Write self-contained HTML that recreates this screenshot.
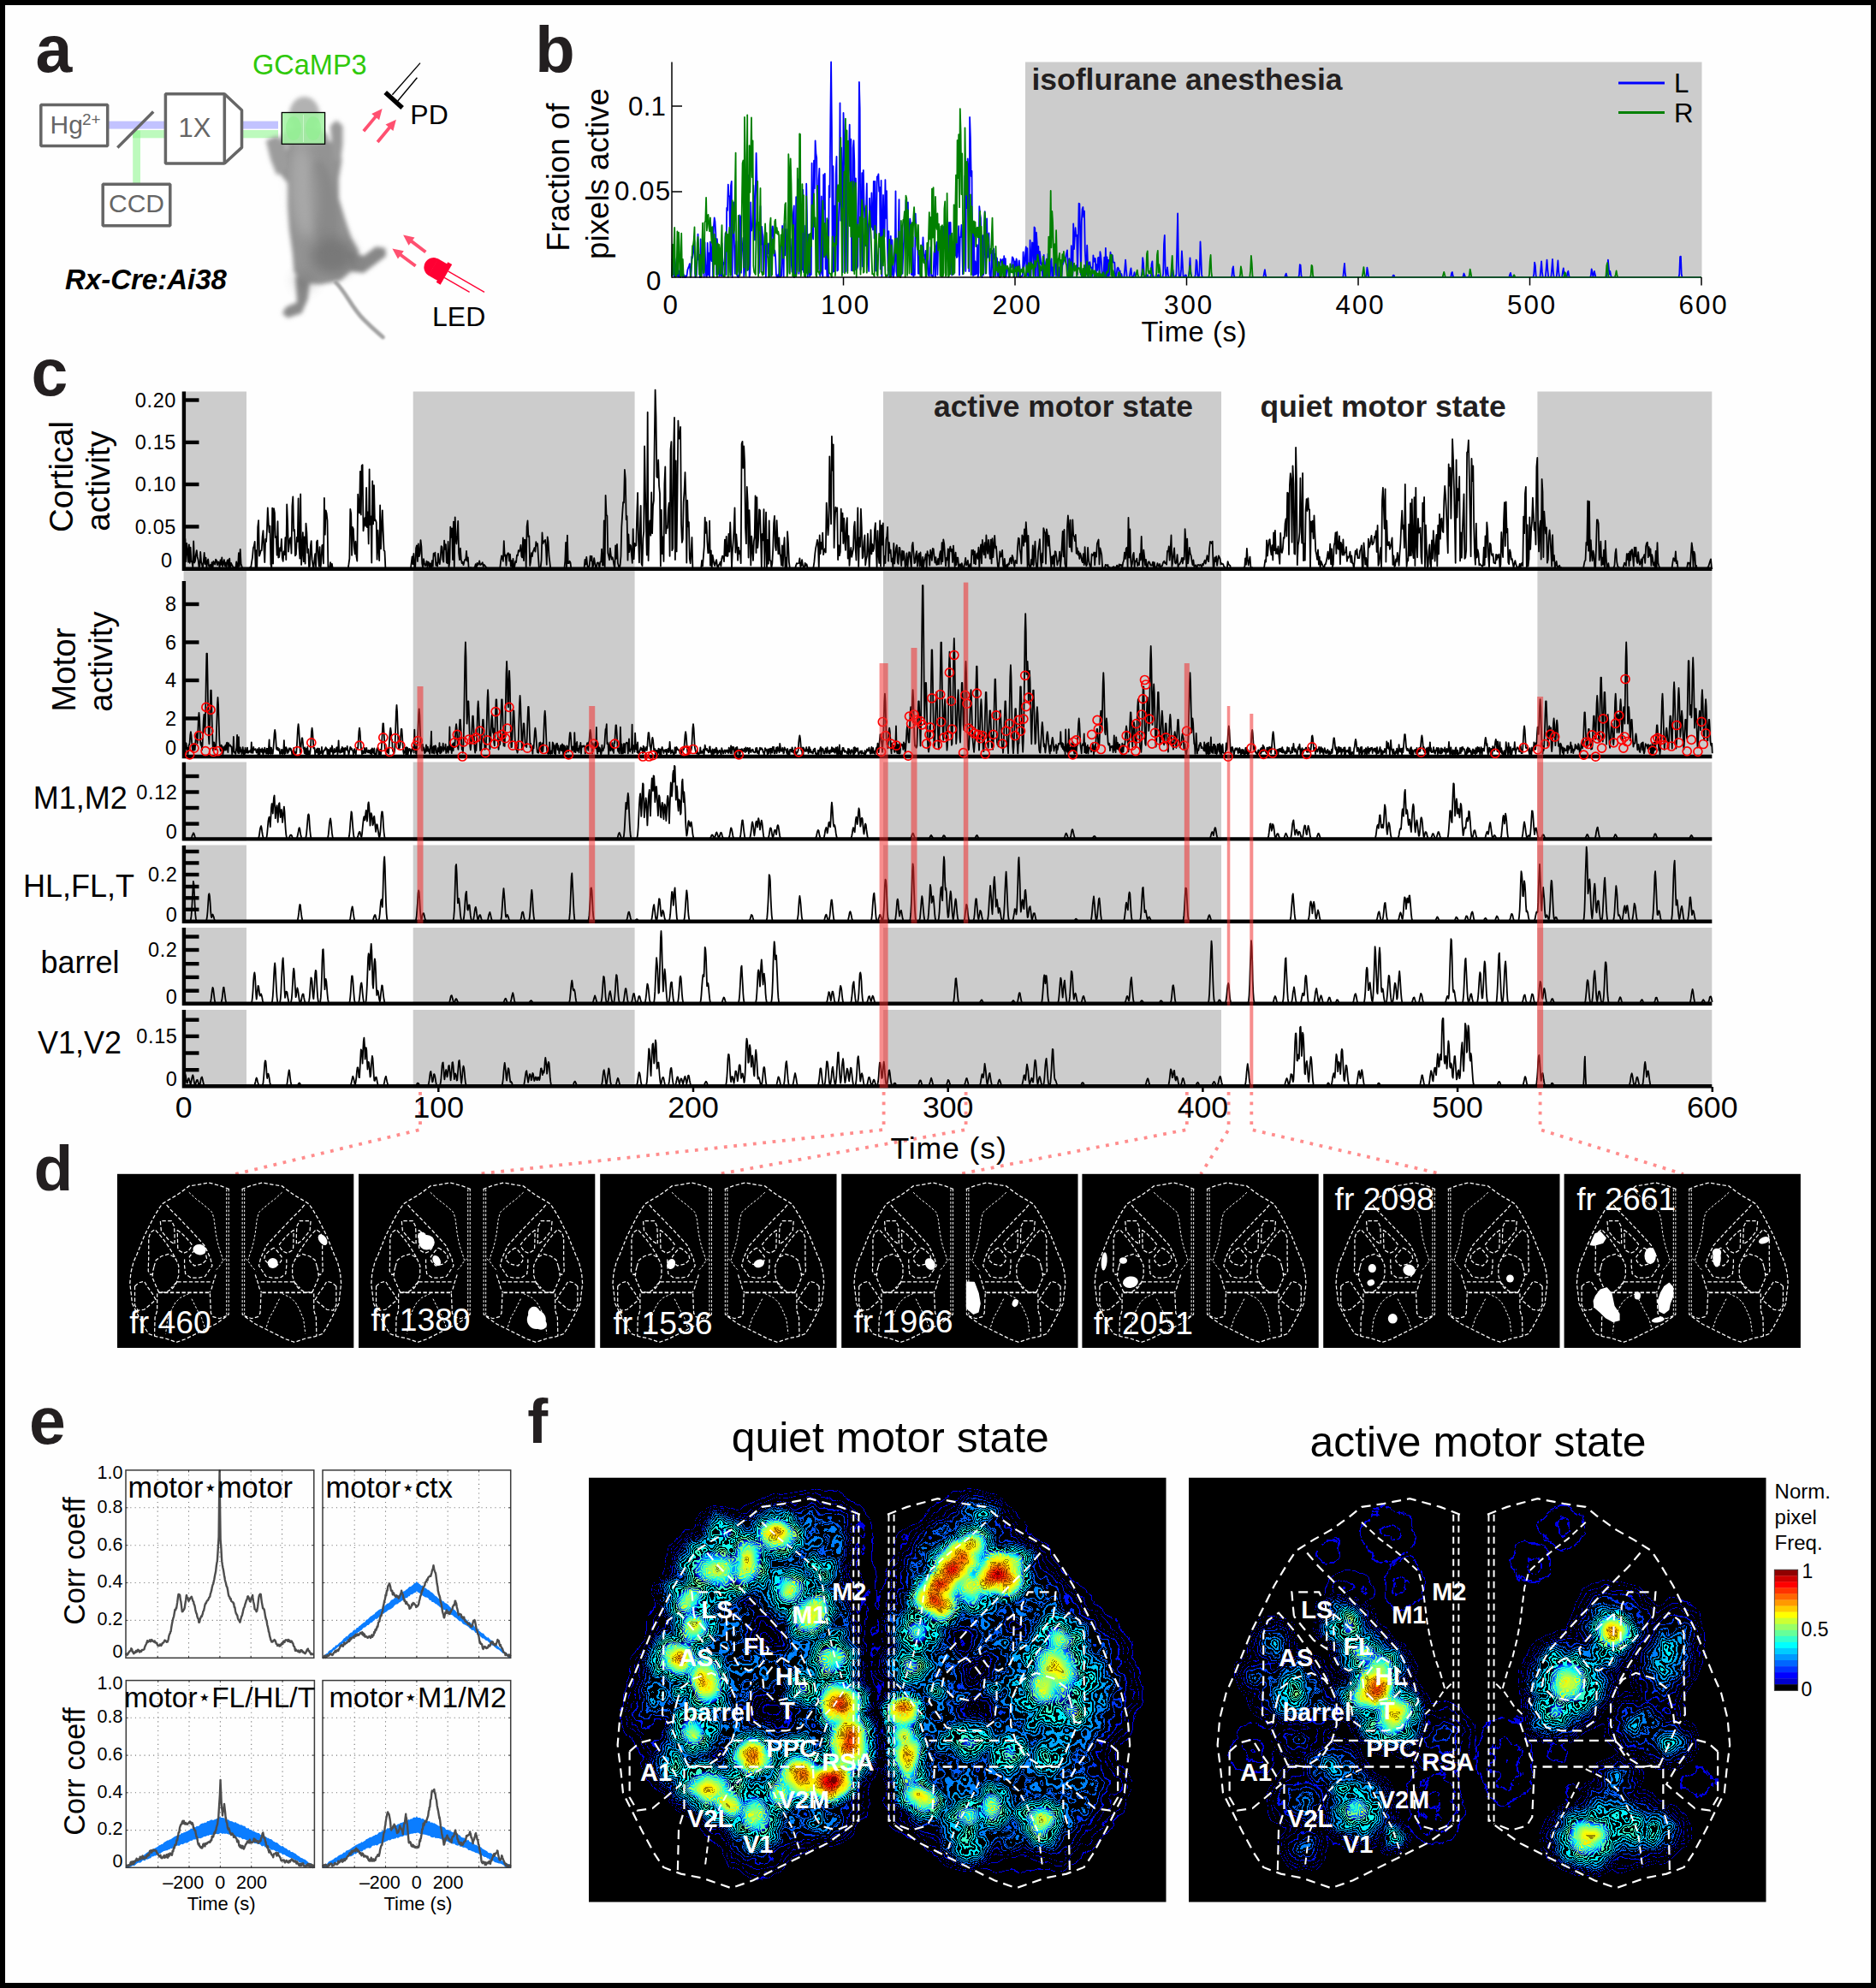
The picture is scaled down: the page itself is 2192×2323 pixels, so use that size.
<!DOCTYPE html>
<html><head><meta charset="utf-8"><title>figure</title>
<style>
html,body{margin:0;padding:0;background:#fff;}
body{width:2192px;height:2323px;overflow:hidden;}
svg{display:block;font-family:"Liberation Sans",sans-serif;}
</style></head><body>
<svg width="2192" height="2323" viewBox="0 0 2192 2323">
<rect x="0" y="0" width="2192" height="2323" fill="#000"/>
<rect x="6" y="6" width="2180" height="2311" fill="#fefefe"/>
<g id="panel_a"><rect x="125" y="141.6" width="69" height="9" fill="#c2c2ff"/>
<rect x="282" y="141.6" width="43" height="9" fill="#c2c2ff"/>
<rect x="155" y="152" width="39" height="9.3" fill="#bdfabd"/>
<rect x="282" y="152" width="43" height="9.3" fill="#bdfabd"/>
<rect x="155.2" y="152" width="8.8" height="64" fill="#bdfabd"/><rect x="155.2" y="152.6" width="8.8" height="8.7" fill="#8af58a" opacity="0.6"/>
<g fill="#fff" stroke="#666" stroke-width="3.5" stroke-linejoin="bevel">
<rect x="47.8" y="122.4" width="77.9" height="48.1"/>
<rect x="120.2" y="215.3" width="78.6" height="48.5"/>
<polygon points="262.3,109.7 282.5,128.7 282.5,172.4 262.3,191"/>
<rect x="193.4" y="109.7" width="68.9" height="81.3"/>
<line x1="137.3" y1="172.6" x2="179.2" y2="130.6"/>
</g>
<text x="58.5" y="156" font-size="30" fill="#666">Hg</text>
<text x="96" y="146" font-size="19" fill="#666">2+</text>
<text x="208.5" y="160.4" font-size="31" fill="#666">1X</text>
<text x="127" y="248" font-size="30" fill="#666">CCD</text>
<text x="76" y="337.7" font-size="33" font-weight="bold" font-style="italic">Rx-Cre:Ai38</text>
<text x="295" y="87.2" font-size="32.5" fill="#2fc90b">GCaMP3</text>
<defs><filter id="mb" x="-20%" y="-20%" width="140%" height="140%"><feGaussianBlur stdDeviation="14"/></filter><filter id="mb2" x="-30%" y="-30%" width="160%" height="160%"><feGaussianBlur stdDeviation="22"/></filter><filter id="mb3" x="-30%" y="-30%" width="160%" height="160%"><feGaussianBlur stdDeviation="7"/></filter><filter id="mb4" x="-50%" y="-50%" width="200%" height="200%"><feGaussianBlur stdDeviation="38"/></filter></defs>
<g transform="translate(280 60) scale(0.18109)">
<g filter="url(#mb)">
<path d="M300 640 L330 570 L420 545 L560 565 L640 625 L660 700 L640 820 L640 950 L680 1080 L720 1200 L770 1290 L740 1400 L650 1480 L520 1505 L400 1495 L350 1420 L340 1300 L320 1150 L310 1000 L310 850 L260 790 L220 700 Z" fill="#939393"/>
<ellipse cx="418" cy="410" rx="98" ry="118" fill="#b2b2b2"/>
<ellipse cx="420" cy="560" rx="150" ry="70" fill="#999"/>
<path d="M170 575 L240 545 L300 600 L300 760 L240 800 L200 700 Z" fill="#9c9c9c"/>
<path d="M585 480 L625 445 L665 480 L665 600 L650 720 L600 700 Z" fill="#9a9a9a"/>
<path d="M700 1290 L800 1320 L880 1260 L940 1270 L945 1320 L880 1370 L800 1430 L720 1420 Z" fill="#888"/>
<path d="M360 1450 L450 1500 L440 1600 L400 1690 L310 1720 L275 1690 L300 1650 L370 1620 Z" fill="#8a8a8a"/>
</g>
<ellipse cx="600" cy="1320" rx="140" ry="120" fill="#5a5a5a" opacity="0.45" filter="url(#mb4)"/>
<ellipse cx="540" cy="1000" rx="90" ry="300" fill="#777" opacity="0.35" filter="url(#mb2)" transform="rotate(-8 540 1000)"/>
<ellipse cx="410" cy="900" rx="80" ry="300" fill="#c8c8c8" opacity="0.4" filter="url(#mb4)" transform="rotate(-4 410 900)"/>
<ellipse cx="420" cy="1480" rx="70" ry="60" fill="#666" opacity="0.3" filter="url(#mb4)"/>
<path d="M620 1490 C690 1560 720 1650 800 1730 S900 1820 925 1845" fill="none" stroke="#a2a2a2" stroke-width="26" stroke-linecap="round" filter="url(#mb3)"/>
</g>
<rect x="329.3" y="131.5" width="50.3" height="36.8" fill="#a4f2a4" fill-opacity="0.88" stroke="#000" stroke-width="1.3"/>
<ellipse cx="343" cy="150" rx="9" ry="14" fill="#8ef08e" opacity="0.6"/><ellipse cx="366" cy="150" rx="9" ry="14" fill="#8ef08e" opacity="0.6"/>
<line x1="354.5" y1="134" x2="354.5" y2="166" stroke="#c9f7c9" stroke-width="1"/>
<line x1="450.2" y1="108" x2="470.1" y2="126.1" stroke="#000" stroke-width="5.4"/>
<line x1="458.4" y1="110.7" x2="491" y2="73.6" stroke="#000" stroke-width="1.4"/>
<line x1="464.7" y1="118" x2="487.4" y2="90.8" stroke="#000" stroke-width="1.4"/>
<text x="479.3" y="145" font-size="32">PD</text>
<text x="505" y="380.5" font-size="32">LED</text>
<polygon points="426.3,154.5 440.1,137.8 443.1,140.3 446.6,127 434.2,133 437.2,135.4 423.4,152.1" fill="#ff5070"/>
<polygon points="442.6,167.2 456.4,150.5 459.4,153 462.9,139.7 450.5,145.6 453.5,148.1 439.7,164.7" fill="#ff5070"/>
<polygon points="498.5,293 482.2,280.6 484.5,277.6 471.1,274.6 477.5,286.7 479.9,283.7 496.2,296" fill="#ff5070"/>
<polygon points="486.7,309.3 469.5,296.4 471.8,293.3 458.4,290.4 464.9,302.5 467.2,299.4 484.4,312.3" fill="#ff5070"/>
<g transform="translate(518.7 319.3) rotate(30)" fill="#ff0033" stroke="none">
<path d="M-14 -11.2 L-14 11.2 A11.2 11.2 0 0 1 -14 -11.2Z"/><rect x="-14.5" y="-11.2" width="13" height="22.4"/><rect x="-2.5" y="-13.6" width="5.6" height="27.2"/>
<line x1="3" y1="-4.5" x2="52" y2="-4.5" stroke="#ff0033" stroke-width="1.3"/><line x1="3" y1="4.2" x2="37" y2="4.2" stroke="#ff0033" stroke-width="1.3"/>
</g></g>
<g id="panel_b"><rect x="1198" y="72.5" width="790.5" height="252" fill="#ccc"/>
<path d="M785 302.6L785.8 303.4L786.6 298.6L787.4 322.5L788.2 323.3L789 313.1L789.8 310.5L790.6 301.9L791.4 322.7L792.2 310L793 323.5L793.8 316.6L794.6 323.7L795.4 323.4L796.2 318.4L797 316.9L797.8 324L798.6 320.5L799.4 322.5L800.2 324L801 322.3L801.8 323.7L802.6 321.6L803.4 315.2L804.2 313.1L805 311.1L805.9 308.1L806.7 323.7L807.5 323.1L808.3 300L809.1 301.4L809.9 295.9L810.7 285.3L811.5 281.2L812.3 323.6L813.1 323.5L813.9 321.5L814.7 304.5L815.5 273.6L816.3 303.6L817.1 299.8L817.9 324L818.7 279.4L819.5 323.5L820.3 311.4L821.1 288.4L821.9 312L822.7 323.4L823.5 283.1L824.3 308.7L825.1 322.7L825.9 323.6L826.7 283.8L827.5 321.1L828.3 295.6L829.1 323.4L829.9 282.7L830.7 299.2L831.5 305.2L832.3 278.7L833.1 323.4L833.9 265.4L834.7 254.5L835.5 259L836.3 272.8L837.1 321L837.9 279.2L838.7 296.3L839.5 288L840.3 322.9L841.1 321.6L841.9 295.1L842.7 322.3L843.5 284.1L844.3 322.4L845.1 307L846 308.7L846.8 300.6L847.6 272.5L848.4 321.2L849.2 242.9L850 245.9L850.8 215.6L851.6 228.6L852.4 229.3L853.2 318L854 216.8L854.8 211.8L855.6 323.8L856.4 239.9L857.2 236.3L858 285L858.8 319.8L859.6 290L860.4 281.9L861.2 321.2L862 323.4L862.8 323.8L863.6 319.8L864.4 251.5L865.2 253.4L866 318.8L866.8 293.6L867.6 288.9L868.4 277.8L869.2 322.8L870 317.9L870.8 242.6L871.6 263.3L872.4 249.4L873.2 316L874 233.7L874.8 205L875.6 323.5L876.4 320.1L877.2 236.5L878 269.6L878.8 266L879.6 262.1L880.4 216.6L881.2 236.3L882 280.5L882.8 223.6L883.6 178.9L884.4 212L885.2 249L886.1 320L886.9 318.9L887.7 290.4L888.5 240.9L889.3 285.9L890.1 264.9L890.9 273.9L891.7 320.4L892.5 294.2L893.3 277L894.1 271.5L894.9 323.5L895.7 287.6L896.5 285.4L897.3 296.3L898.1 284.4L898.9 323.1L899.7 322.2L900.5 264.4L901.3 287.3L902.1 273.2L902.9 264.5L903.7 272.4L904.5 298.8L905.3 292.7L906.1 299.5L906.9 320.8L907.7 323.6L908.5 323.9L909.3 320.7L910.1 323.5L910.9 289.6L911.7 323.7L912.5 322.1L913.3 322.1L914.1 264L914.9 290.7L915.7 323.2L916.5 261.3L917.3 298.3L918.1 268.1L918.9 267.9L919.7 301.2L920.5 319.4L921.3 260.8L922.1 264.8L922.9 282.8L923.7 279.1L924.5 304.2L925.4 317.7L926.2 264.4L927 248.4L927.8 240.4L928.6 323.6L929.4 320.3L930.2 230.2L931 315.5L931.8 238.1L932.6 209.3L933.4 319.8L934.2 314.5L935 200.8L935.8 317.7L936.6 268.8L937.4 315.2L938.2 221.8L939 318.1L939.8 263.7L940.6 314.8L941.4 319.5L942.2 214.7L943 252.9L943.8 323.6L944.6 274.1L945.4 316L946.2 323.2L947 317.2L947.8 321L948.6 190.7L949.4 272.3L950.2 279.6L951 187.7L951.8 220.2L952.6 164.4L953.4 179.3L954.2 184.3L955 274.9L955.8 314.5L956.6 210.8L957.4 196.9L958.2 322.4L959 316.7L959.8 229.4L960.6 319.8L961.4 323L962.2 204.1L963 244.4L963.8 202.8L964.6 314.4L965.5 282L966.3 323.1L967.1 257.4L967.9 323.6L968.7 217.1L969.5 230.3L970.3 141.7L971.1 72.4L971.9 149.5L972.7 318.7L973.5 194.2L974.3 317.2L975.1 240.7L975.9 310.3L976.7 203.7L977.5 182.9L978.3 316.5L979.1 315.6L979.9 254.8L980.7 228.2L981.5 120.3L982.3 257.8L983.1 172.7L983.9 213.2L984.7 318.2L985.5 131.9L986.3 168L987.1 193.5L987.9 317.5L988.7 212.7L989.5 192.5L990.3 316.4L991.1 207.2L991.9 184.7L992.7 145.7L993.5 225.4L994.3 162.6L995.1 316.2L995.9 310.6L996.7 173L997.5 164.2L998.3 188.5L999.1 315.3L999.9 208.5L1000.7 240.9L1001.5 313.8L1002.3 311.1L1003.1 236.4L1003.9 95.9L1004.7 126.9L1005.5 315.3L1006.4 265.7L1007.2 202.1L1008 311.4L1008.8 199L1009.6 237.6L1010.4 247.4L1011.2 287.3L1012 251.4L1012.8 214.3L1013.6 294.2L1014.4 294.2L1015.2 316.9L1016 231.7L1016.8 258.5L1017.6 265.3L1018.4 225.5L1019.2 265.3L1020 268.5L1020.8 211.8L1021.6 278.4L1022.4 212L1023.2 316.5L1024 262.7L1024.8 206.3L1025.6 207.2L1026.4 203.4L1027.2 223.7L1028 218.8L1028.8 314.4L1029.6 210.9L1030.4 322.9L1031.2 267.6L1032 228L1032.8 277.8L1033.6 276.8L1034.4 210.1L1035.2 254.8L1036 223.1L1036.8 279.9L1037.6 316.4L1038.4 270.1L1039.2 323.6L1040 316.8L1040.8 276L1041.6 323.2L1042.4 280.4L1043.2 319.4L1044 323.9L1044.8 317.7L1045.7 296.7L1046.5 223.3L1047.3 316.9L1048.1 322.3L1048.9 319.7L1049.7 275.6L1050.5 233.1L1051.3 322.7L1052.1 299.5L1052.9 322L1053.7 299L1054.5 319.7L1055.3 295.1L1056.1 281.7L1056.9 251.3L1057.7 280.3L1058.5 233.9L1059.3 252.8L1060.1 278.4L1060.9 236.5L1061.7 287L1062.5 277.1L1063.3 255.6L1064.1 262.8L1064.9 320.8L1065.7 321.2L1066.5 276.5L1067.3 323L1068.1 320.1L1068.9 321.3L1069.7 249.7L1070.5 273.9L1071.3 277.3L1072.1 281L1072.9 319.7L1073.7 319.8L1074.5 293L1075.3 320.3L1076.1 286.8L1076.9 322L1077.7 294.8L1078.5 277.3L1079.3 296.8L1080.1 299.7L1080.9 302.9L1081.7 292.8L1082.5 321.1L1083.3 307.1L1084.1 285.1L1084.9 321.8L1085.8 322.7L1086.6 312.8L1087.4 288.9L1088.2 322.2L1089 321.7L1089.8 323.4L1090.6 322.5L1091.4 296.3L1092.2 290L1093 323.4L1093.8 288.4L1094.6 283L1095.4 321.1L1096.2 284.5L1097 277.3L1097.8 282.5L1098.6 279.3L1099.4 283.4L1100.2 320.2L1101 265.6L1101.8 289.7L1102.6 264.9L1103.4 287.6L1104.2 258.8L1105 265.9L1105.8 302.2L1106.6 278.7L1107.4 288.1L1108.2 296.4L1109 259.9L1109.8 303.1L1110.6 259.9L1111.4 293.4L1112.2 321.5L1113 300L1113.8 305.7L1114.6 319.9L1115.4 292L1116.2 298.7L1117 270.4L1117.8 300.9L1118.6 300L1119.4 280.8L1120.2 264.1L1121 321.6L1121.8 277.2L1122.6 277.1L1123.4 262.8L1124.2 277.3L1125 320.4L1125.8 258.9L1126.7 277L1127.5 205.5L1128.3 316.9L1129.1 189.3L1129.9 243L1130.7 185.4L1131.5 199.1L1132.3 317L1133.1 137L1133.9 160.5L1134.7 205.9L1135.5 199.8L1136.3 320.1L1137.1 322.1L1137.9 261.9L1138.7 321.3L1139.5 305.4L1140.3 320.6L1141.1 319.3L1141.9 286.1L1142.7 323.6L1143.5 318.7L1144.3 241.1L1145.1 249.7L1145.9 255L1146.7 287.7L1147.5 323.8L1148.3 275.1L1149.1 321.3L1149.9 267.8L1150.7 247.1L1151.5 319.5L1152.3 303.2L1153.1 255.5L1153.9 301.1L1154.7 297.4L1155.5 272.4L1156.3 319.9L1157.1 323.9L1157.9 323.9L1158.7 294.9L1159.5 292.6L1160.3 323L1161.1 290.7L1161.9 302.5L1162.7 297L1163.5 323.2L1164.3 300.8L1165.1 302.2L1166 322.6L1166.8 315.6L1167.6 323.6L1168.4 311.9L1169.2 302.8L1170 304.9L1170.8 306.7L1171.6 303L1172.4 322.5L1173.2 299.2L1174 323.6L1174.8 302.2L1175.6 323.1L1176.4 316.1L1177.2 313.2L1178 313.6L1178.8 323.6L1179.6 322.8L1180.4 312.9L1181.2 312.2L1182 312.4L1182.8 300.3L1183.6 301.4L1184.4 303.6L1185.2 323L1186 305.4L1186.8 312.5L1187.6 302.5L1188.4 305.4L1189.2 323L1190 323.1L1190.8 304.4L1191.6 312.1L1192.4 323.7L1193.2 322.5L1194 323L1194.8 322.1L1195.6 294.5L1196.4 312.8L1197.2 307L1198 297.7L1198.8 288.5L1199.6 321.9L1200.4 290.1L1201.2 321.3L1202 323.3L1202.8 322.7L1203.6 280.7L1204.4 323.7L1205.2 304.9L1206 283.4L1206.9 284L1207.7 321.5L1208.5 265.5L1209.3 266.8L1210.1 323L1210.9 271.7L1211.7 284.1L1212.5 322.8L1213.3 287.9L1214.1 322.5L1214.9 293.8L1215.7 301.5L1216.5 309L1217.3 307.4L1218.1 322.3L1218.9 322.9L1219.7 297.8L1220.5 323.4L1221.3 321.9L1222.1 306.4L1222.9 302.6L1223.7 322.6L1224.5 296.7L1225.3 321.9L1226.1 310.1L1226.9 323.8L1227.7 306.3L1228.5 302.5L1229.3 323.7L1230.1 312.4L1230.9 322.4L1231.7 307.8L1232.5 297.7L1233.3 305.8L1234.1 322.3L1234.9 304.4L1235.7 311.9L1236.5 322.5L1237.3 312.5L1238.1 323L1238.9 306.9L1239.7 323.1L1240.5 322.6L1241.3 310.1L1242.1 308.4L1242.9 305.1L1243.7 302.5L1244.5 304.7L1245.3 299.9L1246.2 295.7L1247 292.3L1247.8 313.5L1248.6 321.3L1249.4 302.1L1250.2 310.3L1251 321.5L1251.8 287.2L1252.6 320.9L1253.4 321.9L1254.2 261.5L1255 291.2L1255.8 277.8L1256.6 266.2L1257.4 275.9L1258.2 274.7L1259 320.4L1259.8 283L1260.6 237.6L1261.4 238.3L1262.2 278.6L1263 321.1L1263.8 258.6L1264.6 244.3L1265.4 242L1266.2 253.6L1267 246.7L1267.8 292.7L1268.6 308.8L1269.4 320.7L1270.2 286.7L1271 308L1271.8 323.1L1272.6 307L1273.4 306.1L1274.2 311.8L1275 312.9L1275.8 312.4L1276.6 322.2L1277.4 298.4L1278.2 305.8L1279 302L1279.8 302.1L1280.6 322.3L1281.4 309.2L1282.2 315.9L1283 301.3L1283.8 300.8L1284.6 323.8L1285.4 294.2L1286.2 298.5L1287.1 308.6L1287.9 323.9L1288.7 323.8L1289.5 321.9L1290.3 300.6L1291.1 322.9L1291.9 289.8L1292.7 323.8L1293.5 300.4L1294.3 322.1L1295.1 303.7L1295.9 322.1L1296.7 308.6L1297.5 294.6L1298.3 302.4L1299.1 297.6L1299.9 298.4L1300.7 306.7L1301.5 306.6L1302.3 306.6L1303.1 322.7L1303.9 323.8L1304.7 319.5L1305.5 313.7L1306.3 312.6L1307.1 313.9L1307.9 323.8L1308.7 316.5L1309.5 323.3L1310.3 320L1311.1 324M1313.5 323.4L1314.3 314.2L1315.1 303.7L1315.9 314.9L1316.7 323.2M1319.9 323.2L1320.7 316.6L1321.5 313.4L1322.3 321.4L1323.1 323.9L1323.9 323.9L1324.7 322.1L1325.5 318.1L1326.3 321.5L1327.2 323.8M1333.6 323.7L1334.4 317.6L1335.2 301.1L1336 307.3L1336.8 322.1L1337.6 324M1339.2 323.7L1340 321.7L1340.8 321.1L1341.6 323.2M1344 323.9L1344.8 321.5L1345.6 308.4L1346.4 305.3L1347.2 320.7L1348 323.9M1352 323.6L1352.8 321.6L1353.6 320.9L1354.4 323.3M1358.4 323.9L1359.2 319.7L1360 285.3L1360.8 274.8L1361.6 314L1362.4 323.6L1363.2 318.6L1364 312.3L1364.8 320.4L1365.6 323.8M1368.9 323.6L1369.7 319.4L1370.5 315.7L1371.3 321.2L1372.1 323.8M1373.7 323.9L1374.5 319.9L1375.3 287.1L1376.1 249.3L1376.9 305.6L1377.7 323.2L1378.5 324L1379.3 323.5L1380.1 314.9L1380.9 293.4L1381.7 306.6L1382.5 322.3L1383.3 324L1384.1 323.5L1384.9 321.3L1385.7 321.3L1386.5 323.5M1388.1 324L1388.9 323L1389.7 314.4L1390.5 301.4L1391.3 316.6L1392.1 323.6M1396.1 323.9L1396.9 320.4L1397.7 303.6L1398.5 305.5L1399.3 321.3L1400.1 323.9L1400.9 323.6L1401.7 314.3L1402.5 282.4L1403.3 299.3L1404.1 320.9L1404.9 323.9M1438.6 324L1439.4 322.7L1440.2 314.1L1441 311.4L1441.8 321.5L1442.6 323.9M1476.3 323.6L1477.1 319.2L1477.9 315.2L1478.7 321.1L1479.5 323.8M1501.2 323.7L1502 321.4L1502.8 319.6L1503.6 322.9L1504.4 324M1517.2 323.9L1518 321.2L1518.8 309.2L1519.6 309.7L1520.4 321.7L1521.2 323.9M1568.6 324L1569.4 323.1L1570.2 315L1571 307.9L1571.8 319.8L1572.6 323.8M1595.8 323.9L1596.6 321.6L1597.4 312.7L1598.2 316.8L1599 323.2L1599.8 324M1627.1 323.6L1627.9 321.6L1628.7 321.6L1629.5 323.6M1695.3 323.3L1696.1 319.1L1696.9 317.9L1697.7 322.5L1698.5 324M1708.9 323.9L1709.7 322.6L1710.5 319.5L1711.3 321.6L1712.1 323.7M1763.4 323.6L1764.2 320.8L1765 318.9L1765.8 322.6L1766.6 323.9M1791.5 323.8L1792.3 320.2L1793.1 306.6L1793.9 310.5L1794.7 322.4L1795.5 324M1799.5 323.3L1800.3 314.9L1801.1 305.4L1801.9 317.9L1802.7 323.6M1805.1 324L1805.9 323L1806.7 313.2L1807.5 303.6L1808.4 315.6L1809.2 323.5M1811.6 324L1812.4 322.9L1813.2 313.5L1814 303L1814.8 317.1L1815.6 323.6M1818 324L1818.8 323L1819.6 313.6L1820.4 304.5L1821.2 317.7L1822 323.7M1825.2 323.4L1826 317.4L1826.8 313.3L1827.6 320.4L1828.4 323.8M1830.8 323.4L1831.6 318.4L1832.4 316.8L1833.2 322.2L1834 323.9M1858.1 323.9L1858.9 321.7L1859.7 314.4L1860.5 317.9L1861.3 323.2L1862.1 321.2L1862.9 317L1863.7 320.5L1864.5 323.8M1877.3 323.8L1878.1 318.1L1878.9 303.7L1879.7 312.8L1880.5 320.5L1881.3 317L1882.1 321.5L1882.9 323.9M1961.5 323.9L1962.3 320.3L1963.1 300L1963.9 299.6L1964.7 320.3L1965.5 323.9" fill="none" stroke="#0000ff" stroke-width="1.8" stroke-linejoin="round"/>
<path d="M785 323.1L785.8 285.6L786.6 321L787.4 289.7L788.2 266L789 323.3L789.8 323.3L790.6 320.6L791.4 270.5L792.2 320.1L793 271.6L793.8 288.5L794.6 320.2L795.4 323.9L796.2 272.7L797 321.9L797.8 302.9L798.6 323.1L799.4 323.6M806.7 324L807.5 314.6L808.3 308.4L809.1 287.2L809.9 286.6L810.7 280.5L811.5 265.5L812.3 319.6L813.1 322.9L813.9 308.4L814.7 283.6L815.5 277L816.3 291.4L817.1 320.8L817.9 297.7L818.7 323.2L819.5 323.4L820.3 286.2L821.1 260.6L821.9 319L822.7 318.2L823.5 259.8L824.3 258L825.1 230.9L825.9 269.4L826.7 253.2L827.5 250.8L828.3 265.2L829.1 270.3L829.9 254.4L830.7 268.9L831.5 283.6L832.3 265.2L833.1 302.9L833.9 323.7L834.7 273.7L835.5 308.7L836.3 278.9L837.1 307L837.9 323.7L838.7 284.5L839.5 320L840.3 285.8L841.1 292.8L841.9 320.1L842.7 286.1L843.5 263.2L844.3 319.3L845.1 322.3L846 323.1L846.8 322.9L847.6 277L848.4 270.9L849.2 293.7L850 274L850.8 323.8L851.6 274.4L852.4 265.7L853.2 321.9L854 321.4L854.8 258.1L855.6 234.2L856.4 240.2L857.2 272.5L858 268.8L858.8 226.2L859.6 178.6L860.4 320.6L861.2 320.7L862 316.9L862.8 251.8L863.6 269.8L864.4 322.2L865.2 314.3L866 315.8L866.8 243.4L867.6 190.8L868.4 187.5L869.2 312.4L870 136.8L870.8 182L871.6 322.5L872.4 238.2L873.2 134.3L874 315.4L874.8 309.6L875.6 170.2L876.4 224.7L877.2 182.3L878 137.4L878.8 207.1L879.6 164.5L880.4 310.7L881.2 318L882 319.1L882.8 320.9L883.6 265.8L884.4 255.1L885.2 212L886.1 322.7L886.9 260L887.7 269L888.5 220L889.3 317.6L890.1 317.9L890.9 321.7L891.7 318.3L892.5 320.4L893.3 282.9L894.1 261.5L894.9 285.1L895.7 272.1L896.5 297.9L897.3 302.2L898.1 323.7L898.9 321L899.7 262.9L900.5 254.6L901.3 322.4L902.1 320.8L902.9 279.5L903.7 282.2L904.5 296.1L905.3 258.6L906.1 256.6L906.9 272.4L907.7 266.1L908.5 273.6L909.3 270.5L910.1 275L910.9 321.4L911.7 301.8L912.5 274.3L913.3 286.8L914.1 267.3L914.9 301.7L915.7 301.5L916.5 257L917.3 238.9L918.1 237.1L918.9 284.8L919.7 323.1L920.5 317.4L921.3 180.2L922.1 203.2L922.9 319.8L923.7 185.5L924.5 214.8L925.4 271.4L926.2 322.7L927 262.8L927.8 323.9L928.6 321.3L929.4 321.5L930.2 323.1L931 318.7L931.8 196.6L932.6 284.4L933.4 317L934.2 156.3L935 157L935.8 322.4L936.6 312.6L937.4 215.1L938.2 270.8L939 228.1L939.8 322.5L940.6 320.9L941.4 323.6L942.2 229.4L943 317.4L943.8 320.4L944.6 283.9L945.4 273.9L946.2 318.4L947 272.7L947.8 287.9L948.6 239.6L949.4 265L950.2 246.3L951 226.3L951.8 264.9L952.6 254.4L953.4 321.2L954.2 323.5L955 216.9L955.8 317.5L956.6 317.3L957.4 320.6L958.2 316.8L959 316.9L959.8 287.3L960.6 259.8L961.4 234.5L962.2 268L963 300.3L963.8 260.8L964.6 298.3L965.5 292.4L966.3 255.2L967.1 301.4L967.9 276.7L968.7 319.1L969.5 319.3L970.3 319.9L971.1 321.9L971.9 323.8L972.7 276.4L973.5 287.5L974.3 284.2L975.1 284.8L975.9 322L976.7 276.9L977.5 285.5L978.3 222.8L979.1 216.2L979.9 234.9L980.7 236.1L981.5 183.9L982.3 160.9L983.1 244L983.9 322.1L984.7 244.2L985.5 243.1L986.3 200.7L987.1 319.3L987.9 138.7L988.7 204.7L989.5 152.4L990.3 318.9L991.1 164.6L991.9 215L992.7 264L993.5 213.3L994.3 276.7L995.1 212.2L995.9 239.7L996.7 316.6L997.5 212.5L998.3 320L999.1 222.9L999.9 214L1000.7 323.9L1001.5 294.1L1002.3 262.3L1003.1 276.1L1003.9 277L1004.7 253.6L1005.5 320.6L1006.4 260.8L1007.2 233.4L1008 245.1L1008.8 318.7L1009.6 317.7L1010.4 255.1L1011.2 285.3L1012 240.4L1012.8 318.7L1013.6 291.4L1014.4 267.2L1015.2 259.3L1016 246.4L1016.8 260L1017.6 274.1L1018.4 296.9L1019.2 320.2L1020 320L1020.8 320.9L1021.6 322.8L1022.4 263.6L1023.2 283L1024 273.7L1024.8 321.1L1025.6 322.1L1026.4 291.9L1027.2 273L1028 288.7L1028.8 277.2L1029.6 320.1L1030.4 278.1L1031.2 276.2L1032 310.4L1032.8 268.2L1033.6 293L1034.4 320.1L1035.2 323.3L1036 321.5L1036.8 322.5L1037.6 320.7L1038.4 295.6L1039.2 279.8L1040 323.5L1040.8 323.4L1041.6 286.5L1042.4 298L1043.2 309.7L1044 306.2L1044.8 298.5L1045.7 278.8L1046.5 293.7L1047.3 296.2L1048.1 278.4L1048.9 323.1L1049.7 322.4L1050.5 270.4L1051.3 323L1052.1 324L1052.9 257.9L1053.7 320L1054.5 267.6L1055.3 256.9L1056.1 256.8L1056.9 247.2L1057.7 323.7L1058.5 228.6L1059.3 231.9L1060.1 321.8L1060.9 245.4L1061.7 270.8L1062.5 319.5L1063.3 287.1L1064.1 262.4L1064.9 318.6L1065.7 260.2L1066.5 288.2L1067.3 254.3L1068.1 242.1L1068.9 261L1069.7 276.1L1070.5 262L1071.3 286.6L1072.1 291.5L1072.9 263L1073.7 297.4L1074.5 292.8L1075.3 322.7L1076.1 286.4L1076.9 323.6L1077.7 287.8L1078.5 297.5L1079.3 307L1080.1 303.1L1080.9 308.9L1081.7 323.3L1082.5 322.9L1083.3 284L1084.1 302.9L1084.9 279.6L1085.8 248.1L1086.6 279.4L1087.4 254L1088.2 319.5L1089 220.6L1089.8 277.6L1090.6 219.1L1091.4 274.7L1092.2 294.7L1093 229.8L1093.8 260.4L1094.6 267.9L1095.4 249.4L1096.2 292.5L1097 261.6L1097.8 273.5L1098.6 322L1099.4 264.4L1100.2 323.2L1101 263.1L1101.8 322.9L1102.6 318.6L1103.4 244L1104.2 235.4L1105 322.6L1105.8 321.5L1106.6 225.8L1107.4 285.9L1108.2 323.4L1109 321.9L1109.8 274.8L1110.6 320.2L1111.4 279.5L1112.2 272.6L1113 320.8L1113.8 320.8L1114.6 239.3L1115.4 318.8L1116.2 250.4L1117 204.6L1117.8 283.6L1118.6 163.9L1119.4 208.1L1120.2 157.1L1121 242.2L1121.8 127.1L1122.6 155.3L1123.4 227L1124.2 179.4L1125 254.9L1125.8 320L1126.7 306.6L1127.5 149.5L1128.3 208.2L1129.1 227.7L1129.9 189L1130.7 215.8L1131.5 313.2L1132.3 275.1L1133.1 246.6L1133.9 227.3L1134.7 321.6L1135.5 241.1L1136.3 269.9L1137.1 272.3L1137.9 258.5L1138.7 275.8L1139.5 259.5L1140.3 288L1141.1 267.4L1141.9 265.6L1142.7 277.3L1143.5 265.8L1144.3 277.4L1145.1 247L1145.9 322.5L1146.7 264.7L1147.5 321.2L1148.3 317.8L1149.1 319.3L1149.9 270.3L1150.7 248L1151.5 258.5L1152.3 319.4L1153.1 291.7L1153.9 273.5L1154.7 277.8L1155.5 289L1156.3 305L1157.1 291.1L1157.9 295.8L1158.7 277.5L1159.5 254.6L1160.3 291.1L1161.1 323.4L1161.9 321.6L1162.7 320.8L1163.5 287.8L1164.3 315.8L1165.1 312.7L1166 318.1L1166.8 306L1167.6 307.7L1168.4 324L1169.2 311.5L1170 323L1170.8 305.3L1171.6 313L1172.4 323.2L1173.2 309.3L1174 323.8L1174.8 313.3L1175.6 310.6L1176.4 314L1177.2 310.9L1178 313.5L1178.8 318.8L1179.6 323.4L1180.4 308.4L1181.2 317.6L1182 318.5L1182.8 318.3L1183.6 309.3L1184.4 323.4L1185.2 315.2L1186 317.1L1186.8 311.8L1187.6 323.1L1188.4 315.3L1189.2 311.5L1190 317L1190.8 311.1L1191.6 323.5L1192.4 318.6L1193.2 314.7L1194 316.3L1194.8 318.6L1195.6 312.4L1196.4 313.5L1197.2 323.6M1198.8 323.5L1199.6 309.8L1200.4 317.7L1201.2 318L1202 307.2L1202.8 314.9L1203.6 323.6L1204.4 306.5L1205.2 314.2L1206 308.5L1206.9 309.7L1207.7 323.4L1208.5 314.5L1209.3 304.6L1210.1 311.9L1210.9 306.1L1211.7 305.4L1212.5 297.6L1213.3 303.2L1214.1 310.7L1214.9 323.8L1215.7 311L1216.5 316.1L1217.3 314.6L1218.1 309.2L1218.9 299.6L1219.7 323.6L1220.5 309.8L1221.3 323.4L1222.1 323.7L1222.9 302.9L1223.7 312.6L1224.5 322.1L1225.3 276.7L1226.1 323.8L1226.9 282.4L1227.7 222.9L1228.5 289.3L1229.3 246.8L1230.1 260.4L1230.9 290.8L1231.7 321.3L1232.5 285.2L1233.3 307L1234.1 269.2L1234.9 303.1L1235.7 322L1236.5 303.5L1237.3 300.2L1238.1 296L1238.9 322.9L1239.7 303.9L1240.5 322.7L1241.3 297.2L1242.1 306.2L1242.9 294L1243.7 302.8L1244.5 301.1L1245.3 307.1L1246.2 310L1247 322.2L1247.8 323.9L1248.6 323.8L1249.4 303.3L1250.2 323.7L1251 322.4L1251.8 306.2L1252.6 323.4L1253.4 318.5L1254.2 313.3L1255 307.7L1255.8 316.7L1256.6 311.9L1257.4 310.1L1258.2 323.7L1259 316.6L1259.8 313.1L1260.6 313.2L1261.4 313.5L1262.2 318.6L1263 306.7L1263.8 323.6L1264.6 323.2L1265.4 313.9L1266.2 323.5L1267 310L1267.8 323.4L1268.6 322.7L1269.4 312.8L1270.2 305.5L1271 322.8L1271.8 323.7L1272.6 310.4L1273.4 311.4L1274.2 323.9L1275 323L1275.8 314.9L1276.6 319.5L1277.4 316.5L1278.2 316.3L1279 323.8L1279.8 316.3L1280.6 318.3L1281.4 324L1282.2 319.5L1283 319.9L1283.8 323.6L1284.6 317L1285.4 323.5L1286.2 320.1L1287.1 323.9L1287.9 324L1288.7 318.4L1289.5 318.5L1290.3 323.6M1291.9 323.9L1292.7 319.7L1293.5 317.1L1294.3 318.6L1295.1 316.6L1295.9 307.8L1296.7 306.6L1297.5 297.8L1298.3 321.8L1299.1 297.8L1299.9 324L1300.7 316.2L1301.5 319.8L1302.3 323.9M1306.3 323.9L1307.1 318.4L1307.9 317.9L1308.7 321.1L1309.5 323.9M1327.2 323.4L1328 318.5L1328.8 315.6L1329.6 321.3L1330.4 323.9M1333.6 323.9L1334.4 321.8L1335.2 314.4L1336 317.9L1336.8 323.3M1338.4 323.9L1339.2 321L1340 296.7L1340.8 293.3L1341.6 316.2L1342.4 319.6L1343.2 317L1344 319.3L1344.8 313.1L1345.6 319.2L1346.4 323.7M1350.4 323.9L1351.2 319.8L1352 297.8L1352.8 292.8L1353.6 318.6L1354.4 309.1L1355.2 314.8L1356 323.1L1356.8 324M1367.3 324L1368.1 322.8L1368.9 310.9L1369.7 298.9L1370.5 317.1L1371.3 323.6M1388.9 323.4L1389.7 317.5L1390.5 310.3L1391.3 319.9L1392.1 323.8M1412.2 323.9L1413 321.1L1413.8 305.3L1414.6 298L1415.4 317.8L1416.2 323.8M1448.3 323.9L1449.1 321L1449.9 311.5L1450.7 315.9L1451.5 322.9L1452.3 324M1460.3 323.6L1461.1 316.4L1461.9 298.9L1462.7 307.3L1463.5 322.6L1464.3 324M1530.9 323.9L1531.7 321.5L1532.5 309.9L1533.3 311L1534.1 322.1L1534.9 323.9M1591.8 323.6L1592.6 318.2L1593.4 312.2L1594.2 319L1595 323.7M1685.6 323.8L1686.4 320.7L1687.2 317.8L1688.1 321.3L1688.9 323.8M1716.1 323.9L1716.9 321.6L1717.7 314.6L1718.5 318.4L1719.3 323.4M1767.4 323.9L1768.3 322.8L1769.1 321.2L1769.9 322.7L1770.7 323.9M1826.8 324L1827.6 323L1828.4 318.2L1829.2 319.3L1830 323.1L1830.8 324M1875.7 324L1876.5 322.3L1877.3 310.5L1878.1 307.2L1878.9 319.8L1879.7 323.9M1886.9 323.7L1887.8 320.7L1888.6 316.4L1889.4 321.2L1890.2 323.8" fill="none" stroke="#008000" stroke-width="1.8" stroke-linejoin="round"/>
<line x1="785" y1="324" x2="1988" y2="324" stroke="#000" stroke-width="1.5"/>
<line x1="1198" y1="324" x2="1988" y2="324" stroke="#0a5a2a" stroke-width="1.5"/>
<line x1="785" y1="72.5" x2="785" y2="324.7" stroke="#000" stroke-width="1.5"/>
<line x1="785" y1="224" x2="797" y2="224" stroke="#000" stroke-width="1.5"/>
<line x1="785" y1="124" x2="797" y2="124" stroke="#000" stroke-width="1.5"/>
<line x1="985.5" y1="324" x2="985.5" y2="333.5" stroke="#000" stroke-width="1.5"/>
<line x1="1186" y1="324" x2="1186" y2="333.5" stroke="#000" stroke-width="1.5"/>
<line x1="1386.5" y1="324" x2="1386.5" y2="333.5" stroke="#000" stroke-width="1.5"/>
<line x1="1587" y1="324" x2="1587" y2="333.5" stroke="#000" stroke-width="1.5"/>
<line x1="1787.5" y1="324" x2="1787.5" y2="333.5" stroke="#000" stroke-width="1.5"/>
<line x1="1988" y1="324" x2="1988" y2="333.5" stroke="#000" stroke-width="1.5"/>
<text x="784.2" y="366.6" font-size="31.3" text-anchor="middle" letter-spacing="2">0</text>
<text x="988.1" y="366.6" font-size="31.3" text-anchor="middle" letter-spacing="2">100</text>
<text x="1188.6" y="366.6" font-size="31.3" text-anchor="middle" letter-spacing="2">200</text>
<text x="1389.1" y="366.6" font-size="31.3" text-anchor="middle" letter-spacing="2">300</text>
<text x="1589.6" y="366.6" font-size="31.3" text-anchor="middle" letter-spacing="2">400</text>
<text x="1790.1" y="366.6" font-size="31.3" text-anchor="middle" letter-spacing="2">500</text>
<text x="1990.6" y="366.6" font-size="31.3" text-anchor="middle" letter-spacing="2">600</text>
<text x="778.2" y="134.8" font-size="31.3" text-anchor="end" letter-spacing="0.2">0.1</text>
<text x="784.5" y="234" font-size="31.3" text-anchor="end" letter-spacing="1.4">0.05</text>
<text x="772.5" y="339.2" font-size="31.3" text-anchor="end">0</text>
<text x="1333.5" y="398.5" font-size="32.7" letter-spacing="0.6">Time (s)</text>
<text transform="translate(664.8 207.2) rotate(-90)" font-size="36.7" text-anchor="middle">Fraction of</text>
<text transform="translate(710.7 203) rotate(-90)" font-size="36.7" text-anchor="middle">pixels active</text>
<text x="1205.5" y="105" font-size="35.5" font-weight="bold" fill="#231f20">isoflurane anesthesia</text>
<line x1="1891" y1="97" x2="1945" y2="97" stroke="#0000ff" stroke-width="3"/>
<line x1="1891" y1="131.5" x2="1945" y2="131.5" stroke="#008000" stroke-width="3"/>
<text x="1956" y="108" font-size="31.3">L</text>
<text x="1956" y="142.5" font-size="31.3">R</text></g>
<g id="panel_c"><rect x="214.6" y="457.5" width="73.4" height="428.7" fill="#ccc"/>
<rect x="214.6" y="890.5" width="73.4" height="92" fill="#ccc"/>
<rect x="214.6" y="987.5" width="73.4" height="91.3" fill="#ccc"/>
<rect x="214.6" y="1084" width="73.4" height="90.8" fill="#ccc"/>
<rect x="214.6" y="1180" width="73.4" height="91.3" fill="#ccc"/>
<rect x="482.7" y="457.5" width="258.9" height="428.7" fill="#ccc"/>
<rect x="482.7" y="890.5" width="258.9" height="92" fill="#ccc"/>
<rect x="482.7" y="987.5" width="258.9" height="91.3" fill="#ccc"/>
<rect x="482.7" y="1084" width="258.9" height="90.8" fill="#ccc"/>
<rect x="482.7" y="1180" width="258.9" height="91.3" fill="#ccc"/>
<rect x="1032" y="457.5" width="395" height="428.7" fill="#ccc"/>
<rect x="1032" y="890.5" width="395" height="92" fill="#ccc"/>
<rect x="1032" y="987.5" width="395" height="91.3" fill="#ccc"/>
<rect x="1032" y="1084" width="395" height="90.8" fill="#ccc"/>
<rect x="1032" y="1180" width="395" height="91.3" fill="#ccc"/>
<rect x="1796.4" y="457.5" width="203.9" height="428.7" fill="#ccc"/>
<rect x="1796.4" y="890.5" width="203.9" height="92" fill="#ccc"/>
<rect x="1796.4" y="987.5" width="203.9" height="91.3" fill="#ccc"/>
<rect x="1796.4" y="1084" width="203.9" height="90.8" fill="#ccc"/>
<rect x="1796.4" y="1180" width="203.9" height="91.3" fill="#ccc"/>
<g fill="none" stroke="#000" stroke-width="1.8" stroke-linejoin="round">
<path d="M214.6 644.7L215.5 652.6L216.4 629.7L217.3 656.2L218.2 635L219.1 642.8L220 656.8L220.9 636.3L221.7 657.8L222.6 639.7L223.5 656.3L224.4 656.1L225.3 662.7L226.2 632.5L227.1 657.5L228 655.7L228.9 647.8L229.8 643.2L230.7 650.7L231.6 654.4L232.5 662.6L233.4 661.5L234.2 645L235.1 656.6L236 659.5L236.9 664.3L237.8 656.2L238.7 646L239.6 659L240.5 651.6L241.4 663.4L242.3 656.2L243.2 653.5L244.1 661.9L245 662L245.9 659.9L246.8 663.6L247.6 657.2L248.5 664.2L249.4 655.8L250.3 657.9L251.2 659.7L252.1 653.7L253 654.9L253.9 660.4L254.8 656.4L255.7 657L256.6 663.6L257.5 654.5L258.4 659.9L259.3 651.4L260.1 661.9L261 658.3L261.9 654.2L262.8 661.5L263.7 657.4L264.6 662.9L265.5 655.2L266.4 654.1L267.3 664L268.2 652.7L269.1 664.4L270 657.9L270.9 660L271.8 661.4L272.7 663.1L273.5 663.6L274.4 663.2L275.3 664.4L276.2 656.5L277.1 662.1L278 663.2L278.9 646.2L279.8 661.6L280.7 641.9L281.6 658.7L282.5 661.7L283.4 664.8M291.4 664.8L292.3 662.8L293.2 663.2L294.1 656.8L295 651.3L295.9 640.4L296.8 638.2L297.7 632.9L298.6 663.4L299.4 643.2L300.3 662.7L301.2 616L302.1 608.1L303 649.6L303.9 647L304.8 643.4L305.7 643.1L306.6 627.1L307.5 620.2L308.4 640.6L309.3 657L310.2 630L311.1 633L311.9 619.7L312.8 593.5L313.7 610.6L314.6 622L315.5 614.6L316.4 659.3L317.3 663.6L318.2 593.6L319.1 658.5L320 594.2L320.9 599.2L321.8 628L322.7 627.2L323.6 648.6L324.5 609.2L325.3 651.5L326.2 651L327.1 640.1L328 643.6L328.9 630L329.8 651.9L330.7 655.9L331.6 644.4L332.5 648.2L333.4 628.2L334.3 654L335.2 589.3L336.1 609.2L337 644.6L337.8 636.7L338.7 629.5L339.6 628.2L340.5 646.6L341.4 591.3L342.3 580.3L343.2 620.4L344.1 619.1L345 649.4L345.9 647.9L346.8 627.8L347.7 632.9L348.6 582.5L349.5 639.7L350.4 652.6L351.2 577.4L352.1 659.9L353 646.3L353.9 622.1L354.8 656.2L355.7 627.3L356.6 658.6L357.5 611.7L358.4 622.4L359.3 645.9L360.2 641.6L361.1 663.5L362 660.9L362.9 637.6L363.7 632.1L364.6 653.9L365.5 660.7L366.4 664.8L367.3 654.7L368.2 647.1L369.1 662.3L370 633.2L370.9 631.5L371.8 649.7L372.7 661.7L373.6 639.2L374.5 663.9L375.4 655.5L376.3 637.3L377.1 636.8L378 658.4L378.9 582L379.8 624.7L380.7 596.3L381.6 599.7L382.5 608.2L383.4 662.6L384.3 663.4L385.2 663.7L386.1 657.2L387 664.3L387.9 658.8L388.8 664.8M406.6 664.8L407.5 659.2L408.4 652.6L409.3 594.8L410.2 600.1L411.1 648.8L412 616L412.9 618L413.8 638.9L414.7 647.3L415.5 632.7L416.4 650.2L417.3 655.7L418.2 577.6L419.1 595.2L420 599.5L420.9 551L421.8 601.4L422.7 544.1L423.6 543.2L424.5 620.3L425.4 612.2L426.3 605.2L427.2 614.8L428.1 570L428.9 616.1L429.8 598.3L430.7 635.4L431.6 548.3L432.5 613.2L433.4 603.5L434.3 657.6L435.2 562.2L436.1 612.4L437 567.1L437.9 608.3L438.8 607.5L439.7 610.2L440.6 653.7L441.4 619.6L442.3 640.5L443.2 655L444.1 590.4L445 641.3L445.9 616.9L446.8 596.4L447.7 621.1L448.6 643.2L449.5 644.2L450.4 663.7L451.3 664.8M479.9 664.6L480.7 657.5L481.6 650.4L482.5 659.3L483.4 647L484.3 663.1L485.2 664.2L486.1 640.4L487 637.3L487.9 655.9L488.8 635.5L489.7 650.2L490.6 647L491.5 631.1L492.4 638.8L493.2 658L494.1 663.6L495 653.2L495.9 657.9L496.8 661L497.7 660.3L498.6 655.6L499.5 663.2L500.4 656.6L501.3 657.7L502.2 664.6L503.1 658.5L504 663.7L504.9 655.2L505.8 661.9L506.6 646.7L507.5 649.4L508.4 645.6L509.3 660.8L510.2 657.6L511.1 661.8L512 646.8L512.9 656.5L513.8 659.2L514.7 651.7L515.6 638.2L516.5 639.1L517.4 653.9L518.3 656.7L519.1 631.7L520 641.8L520.9 636.2L521.8 657.3L522.7 658.2L523.6 632.9L524.5 662.6L525.4 656.5L526.3 615.7L527.2 627.9L528.1 617.4L529 654L529.9 609.6L530.8 663.7L531.7 604.3L532.5 628.1L533.4 635.5L534.3 625.4L535.2 608.9L536.1 646.3L537 654.3L537.9 640.6L538.8 653.4L539.7 658.1L540.6 656.8L541.5 660.2L542.4 656.3L543.3 653.8L544.2 654.4L545 644L545.9 655.6L546.8 651.4L547.7 664.2L548.6 664L549.5 663.4L550.4 663.3L551.3 664.8L552.2 663.6L553.1 664.6L554 663.8L554.9 662.2L555.8 659.1L556.7 664.7L557.6 657.8L558.4 660.2L559.3 659L560.2 655.4L561.1 660.1L562 659.6L562.9 658.7L563.8 657.3L564.7 662L565.6 659.7L566.5 661L567.4 661.9L568.3 663.2L569.2 663.7L570.1 664.5M583.5 664.8L584.3 663.5L585.2 655.2L586.1 649.3L587 651.8L587.9 655.8L588.8 632.1L589.7 649.7L590.6 648.5L591.5 660.9L592.4 648.8L593.3 646.5L594.2 646.3L595.1 655.7L596 647.7L596.8 661.6L597.7 655.2L598.6 664.3L599.5 652.9L600.4 664.5L601.3 661.9L602.2 656L603.1 657.1L604 648.6L604.9 649.3L605.8 643.1L606.7 644.6L607.6 642.3L608.5 636.8L609.4 650.1L610.2 651.5L611.1 628.5L612 655L612.9 630.6L613.8 631L614.7 664L615.6 615.3L616.5 608.5L617.4 627.2L618.3 626.4L619.2 661.1L620.1 656L621 646.1L621.9 650L622.7 644.7L623.6 643L624.5 640.1L625.4 644.6L626.3 633.2L627.2 637.7L628.1 635.3L629 651.3L629.9 664.2L630.8 663.7L631.7 662.6L632.6 654.8L633.5 622.4L634.4 635.1L635.3 632.4L636.1 632.9L637 630.9L637.9 639.4L638.8 659.8L639.7 627.4L640.6 633.2L641.5 649.7L642.4 656.9L643.3 664.8M657.6 664.8L658.5 664.1L659.4 664.4L660.3 655.5L661.1 634L662 662.8L662.9 625.6L663.8 658.2L664.7 658.2L665.6 655.8L666.5 657.4L667.4 664.8M681.7 664.8L682.6 663.5L683.5 654L684.4 659.5L685.3 650.8L686.2 659.8L687 663.6L687.9 662.9L688.8 660.6L689.7 649.6L690.6 655.1L691.5 650L692.4 663.7L693.3 660.2L694.2 652.2L695.1 657.8L696 663.3L696.9 663.6L697.8 657.7L698.7 657.3L699.6 658.6L700.4 664.4L701.3 656.6L702.2 656.5L703.1 641.7L704 660.6L704.9 660.7L705.8 608.3L706.7 663.1L707.6 578.8L708.5 601.6L709.4 602.8L710.3 646.2L711.2 649.9L712.1 654.3L712.9 640.6L713.8 648.8L714.7 653.5L715.6 651.3L716.5 654.7L717.4 660.4L718.3 664.2L719.2 637.4L720.1 652.8L721 636L721.9 658.1L722.8 661.3L723.7 664.8L724.6 660.1L725.5 649.9L726.3 615.8L727.2 600.8L728.1 587L729 587.4L729.9 549L730.8 559.6L731.7 607.2L732.6 603.2L733.5 654.7L734.4 624.3L735.3 645.1L736.2 636.6L737.1 637.8L738 649.3L738.8 657.9L739.7 618.2L740.6 653.2L741.5 634.9L742.4 637.9L743.3 637.5L744.2 601.8L745.1 576L746 631.3L746.9 657.3L747.8 621.6L748.7 590.9L749.6 658.9L750.5 661.3L751.4 629.2L752.2 621.3L753.1 521.5L754 575.1L754.9 613.5L755.8 648.6L756.7 481.7L757.6 655.1L758.5 619.5L759.4 608.3L760.3 625.7L761.2 575.4L762.1 623.1L763 591.1L763.9 584.9L764.7 520.1L765.6 455.6L766.5 486.4L767.4 557.1L768.3 558.1L769.2 537.5L770.1 568L771 576.7L771.9 661.5L772.8 595.8L773.7 647L774.6 627.5L775.5 655.9L776.4 565.9L777.3 545.4L778.1 623.3L779 615.2L779.9 617L780.8 595.6L781.7 587.7L782.6 649.8L783.5 525.6L784.4 516.1L785.3 643.2L786.2 640.6L787.1 525.5L788 488L788.9 654.1L789.8 538.3L790.6 644.4L791.5 578.1L792.4 491.6L793.3 512.7L794.2 512.3L795.1 498.9L796 612L796.9 633.9L797.8 629.7L798.7 586.9L799.6 573.6L800.5 552L801.4 580.9L802.3 657.5L803.2 584.7L804 615.3L804.9 610.2L805.8 652.8L806.7 658.3L807.6 644.9L808.5 628L809.4 663.7L810.3 664.8M818.3 664.8L819.2 663.6L820.1 654.8L821 661.7L821.9 650.2L822.8 638.6L823.7 604.7L824.6 622.8L825.5 610.2L826.4 632.9L827.3 646.1L828.2 645.6L829.1 608.7L829.9 660.6L830.8 643.3L831.7 664.3L832.6 648.6L833.5 653.6L834.4 659.4L835.3 661L836.2 656.8L837.1 654.2L838 661.3L838.9 663.3L839.8 660.2L840.7 659.3L841.6 656.7L842.4 661.6L843.3 652.7L844.2 649.6L845.1 650.9L846 656.1L846.9 630.6L847.8 649.4L848.7 626.8L849.6 650L850.5 649.7L851.4 623.8L852.3 644.7L853.2 610.5L854.1 632.5L855 663.1L855.8 645.5L856.7 633.4L857.6 617.2L858.5 593.4L859.4 645.6L860.3 624.4L861.2 636.7L862.1 654.8L863 639.6L863.9 647L864.8 643.9L865.7 658.1L866.6 518.8L867.5 515.8L868.3 546.9L869.2 521.5L870.1 540.6L871 616.5L871.9 635.2L872.8 569L873.7 587.1L874.6 651.6L875.5 596.1L876.4 621.7L877.3 660.6L878.2 626.7L879.1 640.8L880 654.9L880.9 632.3L881.7 627L882.6 579.3L883.5 645.9L884.4 581.1L885.3 640.1L886.2 629.2L887.1 595.4L888 596.4L888.9 625.4L889.8 663.6L890.7 623.8L891.6 631.4L892.5 595.2L893.4 662.8L894.2 633.2L895.1 598.7L896 663.8L896.9 630.8L897.8 658.8L898.7 608.5L899.6 654.8L900.5 655.3L901.4 663.7L902.3 658.4L903.2 641.7L904.1 611.7L905 602.8L905.9 638L906.8 643.1L907.6 608.1L908.5 628.3L909.4 647.1L910.3 628.4L911.2 647.2L912.1 650.1L913 660.6L913.9 637.3L914.8 661.5L915.7 640L916.6 628.2L917.5 664.3L918.4 651.6L919.3 662.5L920.1 621.2L921 634.4L921.9 656.6L922.8 663.3L923.7 664.8M929.1 664.8L930 660.7L930.9 658.2L931.8 658.7L932.7 658.3L933.5 657.9L934.4 652.3L935.3 662.2L936.2 660.8L937.1 654.1L938 660.5L938.9 662.7L939.8 663.2L940.7 657.9L941.6 661.2L942.5 659.2L943.4 662.8L944.3 664.8M949.6 664.8L950.5 662.7L951.4 656.7L952.3 646.8L953.2 640.2L954.1 636.1L955 630.9L955.9 635.7L956.8 663.9L957.7 625.3L958.6 647L959.4 633.8L960.3 641.6L961.2 622.6L962.1 648.1L963 643.4L963.9 641.3L964.8 645.6L965.7 587.6L966.6 606.9L967.5 625.2L968.4 612.4L969.3 533.3L970.2 580.6L971.1 612.2L971.9 509.8L972.8 549.7L973.7 519.3L974.6 640L975.5 608.5L976.4 592.6L977.3 597.4L978.2 593.3L979.1 654.1L980 637.2L980.9 649.2L981.8 644.8L982.7 594.7L983.6 620.5L984.5 599.6L985.3 634.9L986.2 605.6L987.1 631.3L988 642.9L988.9 613.6L989.8 605.1L990.7 652.5L991.6 626.2L992.5 660.9L993.4 647.4L994.3 640L995.2 650.9L996.1 646.1L997 641.5L997.8 616.6L998.7 609.6L999.6 640.4L1000.5 654.5L1001.4 626.9L1002.3 593.3L1003.2 662.1L1004.1 628.5L1005 638.9L1005.9 594.7L1006.8 616.4L1007.7 652.4L1008.6 650.7L1009.5 633.6L1010.4 625.5L1011.2 660.5L1012.1 653.4L1013 650L1013.9 623.6L1014.8 639.1L1015.7 662.9L1016.6 645.8L1017.5 619.2L1018.4 647.4L1019.3 636L1020.2 644.1L1021.1 640.7L1022 619L1022.9 611.1L1023.7 640.9L1024.6 663.2L1025.5 620.2L1026.4 647.4L1027.3 658L1028.2 608.4L1029.1 661.8L1030 613.9L1030.9 636.7L1031.8 611.5L1032.7 661.8L1033.6 650.2L1034.5 658L1035.4 630.5L1036.3 626.4L1037.1 615.8L1038 655.6L1038.9 634L1039.8 646L1040.7 642.7L1041.6 656.3L1042.5 652.7L1043.4 662.9L1044.3 634.9L1045.2 658.5L1046.1 648.3L1047 640.5L1047.9 637L1048.8 657L1049.6 658.9L1050.5 640L1051.4 640.1L1052.3 651.7L1053.2 661.2L1054.1 643.6L1055 654.6L1055.9 644.1L1056.8 649.8L1057.7 662.9L1058.6 659.2L1059.5 646.5L1060.4 664.1L1061.3 654.2L1062.2 645.2L1063 645.6L1063.9 655.5L1064.8 663.4L1065.7 637.8L1066.6 633.9L1067.5 645.8L1068.4 658.2L1069.3 657.4L1070.2 647.7L1071.1 644.2L1072 661.6L1072.9 651L1073.8 647L1074.7 661.7L1075.5 645.4L1076.4 660L1077.3 663.3L1078.2 651L1079.1 663.2L1080 655.2L1080.9 652.1L1081.8 647.5L1082.7 663.4L1083.6 644.1L1084.5 649.2L1085.4 648.8L1086.3 660.6L1087.2 642.6L1088.1 647.2L1088.9 654.9L1089.8 641L1090.7 641.4L1091.6 650.4L1092.5 657.7L1093.4 651.2L1094.3 659.9L1095.2 659.7L1096.1 653L1097 659.5L1097.9 648.5L1098.8 644.1L1099.7 659L1100.6 634.2L1101.4 656L1102.3 630.3L1103.2 635.3L1104.1 648.9L1105 661.3L1105.9 651.8L1106.8 654.2L1107.7 641.3L1108.6 664.2L1109.5 642.4L1110.4 638.6L1111.3 644.4L1112.2 641.9L1113.1 657L1114 637.7L1114.8 651L1115.7 662.6L1116.6 645.6L1117.5 660.1L1118.4 651.6L1119.3 651.7L1120.2 662.9L1121.1 660.8L1122 659.2L1122.9 663.3L1123.8 658.1L1124.7 661.8L1125.6 664L1126.5 662.2L1127.3 657.9L1128.2 652L1129.1 660.4L1130 659.3L1130.9 655L1131.8 664.1L1132.7 662L1133.6 659.1L1134.5 664.2L1135.4 642.9L1136.3 647.8L1137.2 642.7L1138.1 658.4L1139 644.2L1139.9 659.4L1140.7 649.4L1141.6 646.5L1142.5 652.9L1143.4 639.7L1144.3 663L1145.2 645.7L1146.1 636.4L1147 658.3L1147.9 631L1148.8 641.3L1149.7 648.2L1150.6 634.2L1151.5 651.6L1152.4 625.5L1153.2 639.4L1154.1 646.9L1155 630.8L1155.9 642.7L1156.8 652.9L1157.7 630.6L1158.6 658.4L1159.5 629.2L1160.4 651.1L1161.3 637.4L1162.2 625.8L1163.1 640.5L1164 638.5L1164.9 650.7L1165.8 661L1166.6 664.3L1167.5 656.9L1168.4 644.5L1169.3 650.7L1170.2 649.9L1171.1 642.9L1172 659.9L1172.9 664.2L1173.8 652.8L1174.7 662.9L1175.6 663.4L1176.5 659.8L1177.4 662.1L1178.3 658.3L1179.1 659.6L1180 653.1L1180.9 651.9L1181.8 658.4L1182.7 649L1183.6 651.3L1184.5 658.7L1185.4 662.1L1186.3 654.9L1187.2 657.1L1188.1 658.3L1189 639.5L1189.9 628.7L1190.8 629.2L1191.7 642.7L1192.5 647.4L1193.4 658.6L1194.3 625.4L1195.2 627.6L1196.1 637.8L1197 618.4L1197.9 633.2L1198.8 610.2L1199.7 624.7L1200.6 663.2L1201.5 626L1202.4 659.4L1203.3 662.8L1204.2 663.2L1205 654L1205.9 659.5L1206.8 637.5L1207.7 660.9L1208.6 644.5L1209.5 632.6L1210.4 656.9L1211.3 663.8L1212.2 662.5L1213.1 644.1L1214 638.1L1214.9 630.2L1215.8 653.4L1216.7 663L1217.6 646.7L1218.4 657.3L1219.3 617.1L1220.2 620.3L1221.1 622.8L1222 658.7L1222.9 618.3L1223.8 624L1224.7 637.8L1225.6 625.9L1226.5 639.6L1227.4 650L1228.3 663.9L1229.2 650.4L1230.1 658.7L1230.9 649.2L1231.8 662.2L1232.7 644.2L1233.6 644.8L1234.5 651.3L1235.4 660.3L1236.3 656L1237.2 655L1238.1 644.6L1239 663.1L1239.9 652.8L1240.8 637.5L1241.7 620.9L1242.6 650.3L1243.5 618.9L1244.3 658.4L1245.2 662.9L1246.1 662.9L1247 615.7L1247.9 602.5L1248.8 614.5L1249.7 639.2L1250.6 607.6L1251.5 639.5L1252.4 644.7L1253.3 607.4L1254.2 625.7L1255.1 626.8L1256 632.2L1256.8 625L1257.7 646.6L1258.6 640.3L1259.5 648.3L1260.4 644.5L1261.3 653L1262.2 646.4L1263.1 649.5L1264 655.1L1264.9 657.1L1265.8 647.2L1266.7 660.1L1267.6 639.2L1268.5 658.2L1269.4 661.2L1270.2 659.4L1271.1 639.8L1272 654L1272.9 658.9L1273.8 661.6L1274.7 664.5L1275.6 647.5L1276.5 649.2L1277.4 648.3L1278.3 645.5L1279.2 660.3L1280.1 645.6L1281 650.7L1281.9 635.2L1282.7 633L1283.6 630.5L1284.5 659.4L1285.4 640.3L1286.3 643.9L1287.2 648.1L1288.1 662.3L1289 664.6L1289.9 663.6L1290.8 664L1291.7 659.9L1292.6 660.1L1293.5 661L1294.4 660L1295.3 664.4L1296.1 662.7L1297 663.7L1297.9 663.7L1298.8 664.4L1299.7 663.2L1300.6 662.6L1301.5 662.1L1302.4 664.1L1303.3 662.9L1304.2 662.8L1305.1 660.6L1306 662.3L1306.9 662.6L1307.8 659.3L1308.6 661.7L1309.5 659.9L1310.4 660.1L1311.3 663.3L1312.2 657.4L1313.1 655L1314 645.6L1314.9 653L1315.8 640.8L1316.7 639.8L1317.6 663.1L1318.5 604.8L1319.4 651.5L1320.3 618.4L1321.2 654.8L1322 662.4L1322.9 658.7L1323.8 648.7L1324.7 645.9L1325.6 662.8L1326.5 655.5L1327.4 656.2L1328.3 652.7L1329.2 661.1L1330.1 658L1331 660.1L1331.9 647.1L1332.8 654.5L1333.7 626.9L1334.5 650.5L1335.4 663.8L1336.3 642.6L1337.2 650.7L1338.1 660.6L1339 653.9L1339.9 662.8L1340.8 663.9L1341.7 656.9L1342.6 656.3L1343.5 658L1344.4 660.6L1345.3 660.3L1346.2 660.5L1347.1 656.6L1347.9 663.2L1348.8 657.1L1349.7 664.7L1350.6 662.5L1351.5 662.2L1352.4 658.1L1353.3 660.9L1354.2 661.8L1355.1 659L1356 662.8L1356.9 661.7L1357.8 661.5L1358.7 658.4L1359.6 656.4L1360.4 655.7L1361.3 658.2L1362.2 657.5L1363.1 659.7L1364 643.9L1364.9 644.3L1365.8 638.4L1366.7 654.7L1367.6 642.7L1368.5 625.5L1369.4 661.9L1370.3 656.1L1371.2 647.4L1372.1 640.5L1373 657.6L1373.8 658.5L1374.7 656.3L1375.6 648.2L1376.5 662.8L1377.4 659.3L1378.3 659.3L1379.2 657.4L1380.1 655.8L1381 651.8L1381.9 658.5L1382.8 651.8L1383.7 653.8L1384.6 618.2L1385.5 631.6L1386.3 664L1387.2 629.6L1388.1 658.4L1389 651.8L1389.9 640L1390.8 646.8L1391.7 649.3L1392.6 655.6L1393.5 660L1394.4 654.5L1395.3 662.1L1396.2 661.4L1397.1 660.2L1398 664.7L1398.9 661.7L1399.7 660L1400.6 660.1L1401.5 660.9L1402.4 659.7L1403.3 660.6L1404.2 662.8L1405.1 658.8L1406 660.2L1406.9 656.8L1407.8 654.7L1408.7 658.6L1409.6 654.6L1410.5 649.1L1411.4 653.2L1412.2 656.2L1413.1 640.9L1414 633L1414.9 633.4L1415.8 635L1416.7 632.6L1417.6 662.4L1418.5 662.8L1419.4 651.4L1420.3 656.1L1421.2 650.2L1422.1 660.8L1423 655.1L1423.9 649.3L1424.8 651.1L1425.6 653.1L1426.5 659.5L1427.4 658.2L1428.3 659.1L1429.2 659.2L1430.1 662L1431 662.4L1431.9 664L1432.8 664.1L1433.7 664.3L1434.6 656.1L1435.5 659.3L1436.4 660.4L1437.3 660.8L1438.1 664.8M1452.4 664.8L1453.3 663.2L1454.2 664.4L1455.1 652.3L1456 659.9L1456.9 640.9L1457.8 653.9L1458.7 660.5L1459.6 654.6L1460.5 650.6L1461.4 662.3L1462.3 664.2L1463.2 663.3L1464 664.8M1476.6 664.8L1477.4 661.2L1478.3 654.5L1479.2 656.5L1480.1 631.3L1481 649.5L1481.9 639.1L1482.8 631.6L1483.7 630.2L1484.6 642.2L1485.5 648.3L1486.4 637.1L1487.3 654.4L1488.2 622.3L1489.1 643.2L1489.9 619.9L1490.8 646.8L1491.7 641.5L1492.6 647.1L1493.5 638.5L1494.4 650L1495.3 658.9L1496.2 622.9L1497.1 644.7L1498 645.9L1498.9 641L1499.8 628.2L1500.7 628.8L1501.6 611.6L1502.5 606.5L1503.3 626.6L1504.2 575.7L1505.1 576.2L1506 647.9L1506.9 567.3L1507.8 553.2L1508.7 561.1L1509.6 633.7L1510.5 544.3L1511.4 565L1512.3 646.9L1513.2 647.6L1514.1 522.8L1515 563.5L1515.8 660.1L1516.7 637L1517.6 632.4L1518.5 622.1L1519.4 558.7L1520.3 611.2L1521.2 634.5L1522.1 552.9L1523 655.1L1523.9 635.3L1524.8 654.7L1525.7 595.6L1526.6 583.2L1527.5 597L1528.4 582.2L1529.2 595L1530.1 595.4L1531 662.6L1531.9 609.3L1532.8 621.4L1533.7 608.6L1534.6 629.3L1535.5 602.4L1536.4 623.9L1537.3 643.9L1538.2 647.7L1539.1 653.9L1540 642.5L1540.9 659.5L1541.7 650.6L1542.6 664.3L1543.5 655.7L1544.4 658.1L1545.3 660.4L1546.2 662.1L1547.1 664.6L1548 659.6L1548.9 659.3L1549.8 655.6L1550.7 651L1551.6 644.7L1552.5 653.5L1553.4 651.4L1554.2 635.6L1555.1 659.2L1556 641.3L1556.9 662.3L1557.8 659.7L1558.7 637.8L1559.6 633.4L1560.5 622.4L1561.4 646.9L1562.3 621.5L1563.2 640.4L1564.1 641.7L1565 626.4L1565.9 659.2L1566.8 634L1567.6 637.8L1568.5 648.5L1569.4 630.5L1570.3 648.6L1571.2 645.9L1572.1 645.2L1573 639.1L1573.9 655.8L1574.8 650.5L1575.7 651.7L1576.6 649.5L1577.5 644.7L1578.4 656.9L1579.3 649.5L1580.1 657.9L1581 658.5L1581.9 664.3L1582.8 654.7L1583.7 643.7L1584.6 647.6L1585.5 641.7L1586.4 652.1L1587.3 651.6L1588.2 652.1L1589.1 643.4L1590 641.9L1590.9 637.4L1591.8 664.3L1592.7 662.2L1593.5 634.3L1594.4 644.6L1595.3 659.7L1596.2 652L1597.1 660.9L1598 663.8L1598.9 629.7L1599.8 639.5L1600.7 637L1601.6 631.4L1602.5 625.9L1603.4 636.4L1604.3 635.5L1605.2 633.5L1606 626.8L1606.9 628.2L1607.8 620.3L1608.7 644.9L1609.6 613.9L1610.5 660.8L1611.4 658.3L1612.3 647.7L1613.2 640L1614.1 663.5L1615 584.9L1615.9 569.9L1616.8 591.8L1617.7 617.7L1618.6 571.3L1619.4 656.6L1620.3 608.5L1621.2 636.8L1622.1 637L1623 633.1L1623.9 641.8L1624.8 639.2L1625.7 634L1626.6 628.5L1627.5 659.9L1628.4 649.5L1629.3 662L1630.2 661.2L1631.1 653.5L1631.9 656.4L1632.8 645.9L1633.7 651.1L1634.6 660.8L1635.5 646.4L1636.4 634.6L1637.3 613.4L1638.2 596.7L1639.1 618L1640 614L1640.9 640.1L1641.8 565.9L1642.7 626.3L1643.6 662L1644.5 652.8L1645.3 655.3L1646.2 612.6L1647.1 649.4L1648 588.2L1648.9 649.1L1649.8 583.5L1650.7 643.1L1651.6 652.2L1652.5 581.2L1653.4 661L1654.3 569.8L1655.2 635.5L1656.1 651.3L1657 606L1657.8 622.7L1658.7 621.4L1659.6 616.7L1660.5 650.9L1661.4 658.7L1662.3 587.6L1663.2 609.3L1664.1 581L1665 662.4L1665.9 613.6L1666.8 638.8L1667.7 662.1L1668.6 661.6L1669.5 643.8L1670.4 636.3L1671.2 658.2L1672.1 663.2L1673 631.3L1673.9 652.8L1674.8 620.1L1675.7 635.4L1676.6 655.7L1677.5 638.3L1678.4 624.8L1679.3 661.4L1680.2 614L1681.1 647.3L1682 600.8L1682.9 629.7L1683.7 606.8L1684.6 605.7L1685.5 620.8L1686.4 622L1687.3 585L1688.2 567.8L1689.1 579.7L1690 598.2L1690.9 623.7L1691.8 646.1L1692.7 542.4L1693.6 567.5L1694.5 546.7L1695.4 605.8L1696.3 565.1L1697.1 513.2L1698 535.6L1698.9 568.7L1699.8 608.9L1700.7 657.8L1701.6 537.3L1702.5 604.7L1703.4 571.2L1704.3 584.6L1705.2 556.8L1706.1 655.4L1707 622.4L1707.9 651.7L1708.8 621L1709.6 600.2L1710.5 577.3L1711.4 652.8L1712.3 651.4L1713.2 642.8L1714.1 528.8L1715 527.4L1715.9 514.4L1716.8 556.2L1717.7 601.4L1718.6 650.2L1719.5 535.8L1720.4 562.1L1721.3 544.5L1722.2 616L1723 646.5L1723.9 659.8L1724.8 611.6L1725.7 651.5L1726.6 642.5L1727.5 646.7L1728.4 660.4L1729.3 658.9L1730.2 660.4L1731.1 660.7L1732 662L1732.9 661L1733.8 639.6L1734.7 660.4L1735.5 626.3L1736.4 651L1737.3 610.4L1738.2 620L1739.1 650.2L1740 662.5L1740.9 634.7L1741.8 636.3L1742.7 647.4L1743.6 649.4L1744.5 647.3L1745.4 657.6L1746.3 657.9L1747.2 658.5L1748.1 647.8L1748.9 654.1L1749.8 648.5L1750.7 651.6L1751.6 647.7L1752.5 664L1753.4 660L1754.3 622L1755.2 640.1L1756.1 651L1757 609.3L1757.9 587.1L1758.8 638.1L1759.7 586.5L1760.6 622.4L1761.4 617.8L1762.3 657.1L1763.2 659.1L1764.1 642.3L1765 645.8L1765.9 653.8L1766.8 653L1767.7 658.7L1768.6 663.4L1769.5 658.2L1770.4 655.1L1771.3 659.4L1772.2 662L1773.1 664.8L1774 662.5L1774.8 662.9L1775.7 659L1776.6 664.1L1777.5 658.7L1778.4 657.9L1779.3 661.3L1780.2 603.6L1781.1 623.2L1782 576.6L1782.9 568.9L1783.8 663.3L1784.7 613.3L1785.6 661.6L1786.5 652.8L1787.3 604.4L1788.2 641.8L1789.1 619.3L1790 610.2L1790.9 581.7L1791.8 599.7L1792.7 619.6L1793.6 610.6L1794.5 636.3L1795.4 545.5L1796.3 534.8L1797.2 622.7L1798.1 644.4L1799 617L1799.9 608.7L1800.7 653.5L1801.6 559.9L1802.5 574.9L1803.4 651L1804.3 597.6L1805.2 611.7L1806.1 623.5L1807 616.3L1807.9 657.7L1808.8 653.9L1809.7 628L1810.6 619.5L1811.5 630.3L1812.4 646.5L1813.2 661.6L1814.1 625.2L1815 655.2L1815.9 648.8L1816.8 663.7L1817.7 659.5L1818.6 655.9L1819.5 662L1820.4 661.9L1821.3 663.1L1822.2 660.8L1823.1 664.8L1824 663.1L1824.9 664.6M1849.9 664.8L1850.8 659.9L1851.7 655.6L1852.5 654.7L1853.4 634L1854.3 636.8L1855.2 585.4L1856.1 643.7L1857 585.9L1857.9 655.7L1858.8 631.2L1859.7 647.2L1860.6 655.3L1861.5 643.7L1862.4 647.9L1863.3 663L1864.2 663.1L1865 639.7L1865.9 607.4L1866.8 607.4L1867.7 611.6L1868.6 654.5L1869.5 648.6L1870.4 632.6L1871.3 660.7L1872.2 651.7L1873.1 659.6L1874 642.6L1874.9 664.4L1875.8 632L1876.7 651.8L1877.6 664.3L1878.4 663.1L1879.3 658.1L1880.2 664.8M1884.7 664.8L1885.6 663L1886.5 660.6L1887.4 646.1L1888.3 641.5L1889.2 656.8L1890.1 661.3L1890.9 662.7L1891.8 663L1892.7 664.8M1896.3 664.8L1897.2 661L1898.1 657.7L1899 659.6L1899.9 661.1L1900.8 647.2L1901.7 653.8L1902.6 646.9L1903.5 661.1L1904.3 644.5L1905.2 654.8L1906.1 643.1L1907 642.1L1907.9 650.4L1908.8 661.6L1909.7 639.7L1910.6 650L1911.5 639.7L1912.4 655.7L1913.3 658L1914.2 645.1L1915.1 655.5L1916 659.8L1916.8 656.9L1917.7 653.3L1918.6 662.5L1919.5 651.3L1920.4 651.4L1921.3 648.1L1922.2 657.9L1923.1 638.5L1924 634.7L1924.9 633.6L1925.8 651.1L1926.7 639.1L1927.6 649.6L1928.5 641.3L1929.4 660.9L1930.2 648.1L1931.1 652.1L1932 660.7L1932.9 657.4L1933.8 663.4L1934.7 643.9L1935.6 664.3L1936.5 634.1L1937.4 657.8L1938.3 661L1939.2 663.7L1940.1 664.8M1952.6 664.8L1953.5 664.1L1954.4 657.7L1955.3 652.2L1956.1 653.3L1957 655.8L1957.9 644.3L1958.8 658.2L1959.7 655.5L1960.6 664.8M1970.4 664.8L1971.3 662.7L1972.2 657.5L1973.1 658.3L1974 657.6L1974.9 663.6L1975.8 648.4L1976.7 634.3L1977.6 641.1L1978.5 662.4L1979.4 644.6L1980.3 647.2L1981.2 662.7L1982 660.9L1982.9 664.8M1994.5 664.8L1995.4 663.1L1996.3 661.8L1997.2 658.8L1998.1 655.9L1999 653.4L1999.9 663.7L2000.8 664.8"/>
<path d="M214.6 872.7L215.2 870.2L215.8 871L216.4 881.1L217 868.1L217.6 868.7L218.2 874.8L218.8 873.8L219.4 881.3L220 877.5L220.6 870.6L221.1 870.2L221.7 867.4L222.3 858.8L222.9 855.1L223.5 858.8L224.1 867.4L224.7 873.8L225.3 878.6L225.9 871.7L226.5 868.8L227.1 876.4L227.7 876.3L228.3 868.7L228.9 860.8L229.5 857.3L230.1 860.8L230.7 868.7L231.3 854.6L231.9 839.4L232.5 832.8L233.1 839.4L233.7 854.6L234.2 867.9L234.8 870.8L235.4 868.1L236 876.5L236.6 869.9L237.2 855.9L237.8 841.4L238.4 835L239 841.4L239.6 855.9L240.2 831.6L240.8 792.8L241.4 763.6L242 763.6L242.6 792.8L243.2 831.6L243.8 861.2L244.4 869.3L245 850.3L245.6 825.3L246.2 806.6L246.8 806.6L247.3 825.3L247.9 850.3L248.5 869.3L249.1 877.3L249.7 867.3L250.3 867.7L250.9 874.6L251.5 874.7L252.1 875.8L252.7 864.2L253.3 844.4L253.9 823.9L254.5 815L255.1 823.9L255.7 844.4L256.3 864.2L256.9 872.1L257.5 876.3L258.1 877.5L258.7 870.6L259.3 877.3L259.9 872.3L260.4 881.3L261 877.9L261.6 874.9L262.2 872.3L262.8 876.6L263.4 871L264 876.5L264.6 869.2L265.2 867.7L265.8 874.1L266.4 879.1L267 868.2L267.6 871.7L268.2 871.1L268.8 870.4L269.4 872.1L270 872.6L270.6 872.5L271.2 881.1L271.8 875.2L272.4 878.4L272.9 861L273.5 878.3L274.1 879.6L274.7 878.9L275.3 881L275.9 876.1L276.5 873.1L277.1 858.8L277.7 877.5L278.3 879.9L278.9 861.2L279.5 880.2L280.1 876.7L280.7 873.3L281.3 878.4L281.9 876.3L282.5 881L283.1 877L283.7 873.2L284.3 879L284.9 882.3L285.5 877L286 881L286.6 873.9L287.2 878.2L287.8 879.6L288.4 878.7L289 873.7L289.6 879.9L290.2 877.6L290.8 879.3L291.4 877.7L292 877.8L292.6 876.5L293.2 879.6L293.8 867.4L294.4 879.7L295 874.9L295.6 879.8L296.2 873L296.8 876.6L297.4 876.2L298 875.3L298.6 875.1L299.1 877.3L299.7 879.5L300.3 877.9L300.9 875.3L301.5 882L302.1 878L302.7 873.9L303.3 882.2L303.9 878.3L304.5 875.6L305.1 877.8L305.7 878.7L306.3 874.3L306.9 879.5L307.5 881.7L308.1 875.8L308.7 879.6L309.3 873.7L309.9 877.8L310.5 877.6L311.1 880.9L311.7 874.7L312.2 880.2L312.8 874.8L313.4 882.1L314 873.1L314.6 864.5L315.2 880.3L315.8 873.3L316.4 881.1L317 873.7L317.6 876.6L318.2 880.8L318.8 880.6L319.4 875L320 866.1L320.6 856.9L321.2 852.9L321.8 856.9L322.4 866.1L323 875L323.6 875.7L324.2 876.4L324.7 873.7L325.3 876.5L325.9 877.1L326.5 875.2L327.1 881.1L327.7 878.8L328.3 880.6L328.9 876.1L329.5 876L330.1 881.2L330.7 880.1L331.3 877.8L331.9 865.1L332.5 881.8L333.1 873.3L333.7 880.2L334.3 873.1L334.9 874.6L335.5 876.4L336.1 880.1L336.7 876.5L337.3 878.7L337.8 874.5L338.4 874.7L339 874.3L339.6 876.7L340.2 875.3L340.8 878.7L341.4 882L342 877.8L342.6 882.3L343.2 873.9L343.8 878.3L344.4 881.4L345 880.8L345.6 878.7L346.2 879.9L346.8 873.1L347.4 862.3L348 851.1L348.6 846.2L349.2 851.1L349.8 862.3L350.4 873.1L350.9 879.6L351.5 874.6L352.1 867.7L352.7 862.5L353.3 862.5L353.9 867.7L354.5 874.6L355.1 875.5L355.7 880.1L356.3 873.4L356.9 878.3L357.5 882.3L358.1 875L358.7 881.9L359.3 873L359.9 879L360.5 881.7L361.1 877.7L361.7 881.8L362.3 880.4L362.9 874.4L363.4 864.8L364 854.9L364.6 850.6L365.2 854.9L365.8 864.8L366.4 874.4L367 873.6L367.6 874.2L368.2 882.2L368.8 877.7L369.4 878.8L370 875.5L370.6 879.4L371.2 874.5L371.8 881.2L372.4 881.5L373 874.6L373.6 881.1L374.2 880L374.8 878.3L375.4 880L376 873L376.5 879.6L377.1 881.4L377.7 879.4L378.3 877.1L378.9 876.1L379.5 876.9L380.1 874.6L380.7 873.3L381.3 875.7L381.9 874.7L382.5 881.1L383.1 880.7L383.7 875.9L384.3 881.7L384.9 876.4L385.5 881.1L386.1 874.2L386.7 876.5L387.3 878.3L387.9 871.4L388.5 874.5L389.1 881.4L389.6 880.7L390.2 878.1L390.8 874.8L391.4 879.3L392 878L392.6 878.2L393.2 873.5L393.8 873.2L394.4 881.4L395 878.4L395.6 865.4L396.2 877.8L396.8 878.6L397.4 879.7L398 877L398.6 875.2L399.2 879L399.8 873L400.4 874.3L401 878.5L401.6 874.5L402.2 882L402.7 881.4L403.3 873.8L403.9 874.8L404.5 875.9L405.1 876.4L405.7 871.9L406.3 876.8L406.9 878.7L407.5 882.1L408.1 878.7L408.7 875.7L409.3 873L409.9 873.6L410.5 876L411.1 874.8L411.7 876.7L412.3 877.4L412.9 881.6L413.5 879L414.1 875.1L414.7 879.4L415.2 879.7L415.8 881.7L416.4 876L417 873.8L417.6 874.4L418.2 874.4L418.8 864.8L419.4 854.9L420 850.6L420.6 854.9L421.2 864.8L421.8 873.8L422.4 876.5L423 881.3L423.6 877.1L424.2 878.8L424.8 880.3L425.4 879.8L426 873.8L426.6 876.3L427.2 880.2L427.8 877L428.3 874L428.9 878.4L429.5 877.3L430.1 879.5L430.7 876.6L431.3 879L431.9 877L432.5 880.6L433.1 876.7L433.7 875.8L434.3 881.8L434.9 874.4L435.5 879.3L436.1 876.2L436.7 880.2L437.3 874.4L437.9 881.4L438.5 880.8L439.1 880.9L439.7 881.3L440.3 875.4L440.9 874.7L441.4 873.6L442 876.4L442.6 881.4L443.2 881.7L443.8 878.8L444.4 875.9L445 881.5L445.6 876.7L446.2 867.1L446.8 854.7L447.4 845.3L448 845.3L448.6 854.7L449.2 867.1L449.8 876.7L450.4 875.4L451 878.7L451.6 877.6L452.2 874.9L452.8 879.5L453.4 874.3L454 880.4L454.5 874.4L455.1 864.8L455.7 854.9L456.3 850.6L456.9 854.9L457.5 864.8L458.1 864.4L458.7 875.6L459.3 878L459.9 877.4L460.5 880.3L461.1 877.4L461.7 866.7L462.3 849.5L462.9 831.7L463.5 823.9L464.1 831.7L464.7 849.5L465.3 866.7L465.9 875.1L466.5 874.1L467 873.7L467.6 870L468.2 859.6L468.8 851.8L469.4 851.8L470 859.6L470.6 870L471.2 877.9L471.8 881.2L472.4 878L473 878.7L473.6 874L474.2 882.2L474.8 873.2L475.4 881L476 873.6L476.6 882L477.2 878.3L477.8 875.2L478.4 875L479 877.4L479.6 875.7L480.1 881.3L480.7 878.8L481.3 877.8L481.9 873.2L482.5 873.4L483.1 873.8L483.7 879.6L484.3 852.6L484.9 875.6L485.5 872.8L486.1 880.7L486.7 881L487.3 869.3L487.9 868L488.5 852L489.1 835.6L489.7 828.4L490.3 835.6L490.9 852L491.5 868L492.1 871.1L492.7 876L493.2 877.3L493.8 869.7L494.4 876.5L495 873.5L495.6 875.1L496.2 880.2L496.8 879.5L497.4 877.8L498 870.4L498.6 877.8L499.2 872.6L499.8 872.6L500.4 877.8L501 875.3L501.6 879L502.2 880.8L502.8 872.5L503.4 869.8L504 854.7L504.6 879.8L505.2 872.8L505.8 878.4L506.3 879.9L506.9 871.8L507.5 880.5L508.1 872.3L508.7 871.3L509.3 872.4L509.9 879.8L510.5 877.8L511.1 881.5L511.7 874.2L512.3 874.9L512.9 878.4L513.5 868.1L514.1 880.2L514.7 880.4L515.3 872.7L515.9 879L516.5 874.5L517.1 875.2L517.7 868.6L518.3 877.7L518.8 873.9L519.4 873.6L520 875.5L520.6 869.6L521.2 880L521.8 876.4L522.4 877.7L523 872.4L523.6 879.8L524.2 876.7L524.8 872.5L525.4 849.4L526 876L526.6 871.2L527.2 875.7L527.8 880.1L528.4 871.3L529 869.2L529.6 877.2L530.2 868.1L530.8 868.8L531.4 873.1L531.9 862.3L532.5 851.1L533.1 846.2L533.7 851.1L534.3 862.3L534.9 873.1L535.5 875.8L536.1 865.3L536.7 851.4L537.3 841L537.9 841L538.5 851.4L539.1 865.3L539.7 875.8L540.3 874L540.9 879.8L541.5 869.4L542.1 845.6L542.7 807.3L543.3 767.8L543.9 750.5L544.5 767.8L545 807.3L545.6 845.6L546.2 835.1L546.8 819.5L547.4 819.5L548 835.1L548.6 855.9L549.2 871.8L549.8 876.4L550.4 871.3L551 863.4L551.6 848.2L552.2 836.7L552.8 836.7L553.4 848.2L554 863.4L554.6 875L555.2 879.7L555.8 870.8L556.4 877L557 865.4L557.6 846.9L558.1 827.8L558.7 819.5L559.3 827.8L559.9 846.9L560.5 865.4L561.1 877L561.7 870.6L562.3 875.8L562.9 865.3L563.5 851.4L564.1 841L564.7 841L565.3 851.4L565.9 865.3L566.5 875.8L567.1 873.2L567.7 874.4L568.3 861.6L568.9 839.3L569.5 816.2L570.1 806.1L570.6 816.2L571.2 839.3L571.8 861.6L572.4 875.5L573 869.9L573.6 855.9L574.2 841.4L574.8 835L575.4 841.4L576 855.9L576.6 851.1L577.2 867.5L577.8 871.4L578.4 855L579 833.5L579.6 817.4L580.2 817.4L580.8 833.5L581.4 855L582 871.4L582.6 875.8L583.2 864.5L583.7 870.6L584.3 869.3L584.9 855L585.5 833.5L586.1 817.4L586.7 817.4L587.3 833.5L587.9 855L588.5 871.4L589.1 870.6L589.7 871.9L590.3 852L590.9 820.1L591.5 787.1L592.1 772.8L592.7 787.1L593.3 820.1L593.9 826.5L594.5 796.8L595.1 783.9L595.7 796.8L596.3 826.5L596.8 855.2L597.4 873.1L598 872.9L598.6 860.6L599.2 843.3L599.8 830.3L600.4 830.3L601 843.3L601.6 860.6L602.2 873.8L602.8 875.7L603.4 869.3L604 877.1L604.6 879.7L605.2 876.2L605.8 863.5L606.4 843.1L607 822L607.6 812.8L608.2 822L608.8 843.1L609.4 863.5L609.9 876.2L610.5 867.1L611.1 854.7L611.7 845.3L612.3 845.3L612.9 854.7L613.5 867.1L614.1 871.8L614.7 869.1L615.3 873L615.9 858.7L616.5 840L617.1 826L617.7 826L618.3 840L618.9 858.7L619.5 873L620.1 869L620.7 876.3L621.3 873.1L621.9 875.2L622.4 880.9L623 870.8L623.6 874.4L624.2 864.8L624.8 854.9L625.4 850.6L626 854.9L626.6 864.8L627.2 872.7L627.8 879L628.4 877L629 879.9L629.6 876.2L630.2 868.1L630.8 876L631.4 867.4L632 870.9L632.6 875L633.2 879L633.8 868.3L634.4 877.9L635 868.6L635.5 853.3L636.1 837.5L636.7 830.6L637.3 837.5L637.9 853.3L638.5 868.6L639.1 876.7L639.7 879.2L640.3 880.9L640.9 877.6L641.5 880.8L642.1 867.5L642.7 878.4L643.3 881L643.9 878.8L644.5 877.1L645.1 880.6L645.7 867.4L646.3 868.4L646.9 870.4L647.5 879.1L648.1 880.6L648.6 871.3L649.2 881.3L649.8 869.4L650.4 871.1L651 868.6L651.6 876.1L652.2 871.1L652.8 875L653.4 880.4L654 876.3L654.6 874.6L655.2 870.9L655.8 876.9L656.4 877L657 869.4L657.6 877.3L658.2 881.4L658.8 870.9L659.4 878.3L660 872.1L660.6 877.5L661.1 878.6L661.7 879.8L662.3 871.5L662.9 874.6L663.5 872.6L664.1 878.7L664.7 871.8L665.3 862.8L665.9 856.1L666.5 856.1L667.1 862.8L667.7 871.8L668.3 877.1L668.9 874.8L669.5 872.4L670.1 875.2L670.7 878.7L671.3 856.1L671.9 870.7L672.5 879.2L673.1 868.6L673.7 876.5L674.2 867L674.8 877.5L675.4 875.2L676 874.7L676.6 879.4L677.2 871.3L677.8 873.9L678.4 867.9L679 880.9L679.6 872.1L680.2 871.8L680.8 872.8L681.4 872L682 871.5L682.6 871.5L683.2 872.8L683.8 880.6L684.4 878.3L685 874.1L685.6 870.6L686.2 868.2L686.8 873.5L687.3 876.9L687.9 867.9L688.5 866.1L689.1 856.9L689.7 852.9L690.3 856.9L690.9 866.1L691.5 870.1L692.1 880.6L692.7 868.5L693.3 870.8L693.9 870.6L694.5 872L695.1 869.2L695.7 867.7L696.3 874.5L696.9 850L697.5 877L698.1 880.9L698.7 868.3L699.3 877.3L699.9 878.1L700.4 873.4L701 874.7L701.6 877.8L702.2 881.5L702.8 879.4L703.4 870.6L704 876.5L704.6 877.3L705.2 874.7L705.8 874.1L706.4 870L707 859.6L707.6 851.8L708.2 851.8L708.8 846.2L709.4 869.1L710 867.5L710.6 871L711.2 881.4L711.8 874.9L712.4 868.6L712.9 867.5L713.5 877.2L714.1 875.4L714.7 875.1L715.3 868.1L715.9 877.1L716.5 878L717.1 880L717.7 867.4L718.3 868.1L718.9 856.3L719.5 847.5L720.1 847.5L720.7 856.3L721.3 868.1L721.9 877L722.5 878.5L723.1 874.6L723.7 880.3L724.3 873.3L724.9 849.6L725.5 868.2L726 880.8L726.6 869.6L727.2 878.5L727.8 880.6L728.4 878.9L729 868.8L729.6 874.5L730.2 879.6L730.8 869.2L731.4 868.9L732 867.6L732.6 868.4L733.2 868.2L733.8 880.5L734.4 872.2L735 863.3L735.6 876.6L736.2 878.3L736.8 876.2L737.4 875.7L738 873L738.6 846.7L739.1 880.1L739.7 871L740.3 872.8L740.9 871.3L741.5 878.7L742.1 856.6L742.7 868L743.3 875.6L743.9 870.4L744.5 879.1L745.1 867.4L745.7 880.2L746.3 878.9L746.9 879.5L747.5 877.6L748.1 875.9L748.7 873.4L749.3 874.8L749.9 876.5L750.5 874.9L751.1 880.5L751.7 871.7L752.2 879.2L752.8 873.1L753.4 878.9L754 875.9L754.6 875.7L755.2 873L755.8 876.8L756.4 871.8L757 862.8L757.6 856.1L758.2 856.1L758.8 862.8L759.4 871.8L760 873.1L760.6 877.6L761.2 871.2L761.8 864.6L762.4 861.8L763 864.6L763.6 871.2L764.2 877.6L764.7 877.9L765.3 875.1L765.9 881.2L766.5 877.4L767.1 877.2L767.7 876.9L768.3 881.1L768.9 879L769.5 874.6L770.1 875.1L770.7 881.1L771.3 880.3L771.9 875.7L772.5 882.3L773.1 874.9L773.7 873L774.3 875.4L774.9 876.8L775.5 880.2L776.1 876.6L776.7 876.6L777.3 876.2L777.8 878.5L778.4 875.9L779 882L779.6 878.9L780.2 876.1L780.8 874.6L781.4 879L782 875.9L782.6 866.8L783.2 874.2L783.8 880.5L784.4 877.3L785 879.2L785.6 876.3L786.2 879.1L786.8 881.2L787.4 881.7L788 880.9L788.6 873.3L789.2 875.2L789.8 880L790.4 873L790.9 873.8L791.5 875.9L792.1 875.4L792.7 876.7L793.3 876.6L793.9 876.7L794.5 880.4L795.1 876.9L795.7 879.9L796.3 881.6L796.9 875.9L797.5 876.8L798.1 874.9L798.7 876.3L799.3 874.5L799.9 867.4L800.5 858.8L801.1 855.1L801.7 858.8L802.3 867.4L802.9 875.6L803.5 879.8L804 873.5L804.6 880.3L805.2 873.1L805.8 880.5L806.4 878.7L807 875.9L807.6 876.7L808.2 873.1L808.8 862.3L809.4 851.1L810 846.2L810.6 851.1L811.2 862.3L811.8 873.1L812.4 875.8L813 878.3L813.6 880L814.2 880.8L814.8 877.4L815.4 879.9L816 881.2L816.5 881.6L817.1 879.9L817.7 879.8L818.3 873.4L818.9 880.2L819.5 877.9L820.1 877.9L820.7 879.9L821.3 878.9L821.9 875.6L822.5 882L823.1 878.4L823.7 870.6L824.3 873.9L824.9 875.8L825.5 876.6L826.1 874.9L826.7 877.6L827.3 877.1L827.9 879.4L828.5 877.7L829.1 872.9L829.6 872.4L830.2 879.1L830.8 877.1L831.4 881.4L832 881.1L832.6 875.3L833.2 880.8L833.8 881.1L834.4 876.2L835 875.5L835.6 879.8L836.2 878.7L836.8 873.7L837.4 874.8L838 881.5L838.6 876.9L839.2 880.1L839.8 878.8L840.4 878.4L841 876.6L841.6 879.1L842.2 880.8L842.7 881.7L843.3 874.1L843.9 876.7L844.5 877L845.1 880.7L845.7 877.6L846.3 878.1L846.9 876.3L847.5 880.1L848.1 877.1L848.7 877.9L849.3 876.4L849.9 878.8L850.5 877L851.1 880L851.7 873.6L852.3 875.9L852.9 877.7L853.5 880.1L854.1 871.4L854.7 875.3L855.3 880.5L855.8 873L856.4 875.6L857 872.9L857.6 873.9L858.2 881.1L858.8 875.7L859.4 881.5L860 873.6L860.6 881.7L861.2 873L861.8 875.6L862.4 876.4L863 877.6L863.6 881L864.2 875.6L864.8 880.9L865.4 875.9L866 878L866.6 875.1L867.2 875.5L867.8 877.7L868.3 877.9L868.9 877.9L869.5 874.8L870.1 876L870.7 879.1L871.3 873.4L871.9 876.4L872.5 877.9L873.1 874.2L873.7 873.9L874.3 874.8L874.9 880.6L875.5 876.9L876.1 873.9L876.7 876L877.3 879.2L877.9 877.2L878.5 877.3L879.1 875.7L879.7 875.9L880.3 878.8L880.9 878.8L881.4 878.7L882 879.5L882.6 879.2L883.2 874.1L883.8 878.4L884.4 874L885 880L885.6 877.6L886.2 880.3L886.8 881.2L887.4 876.6L888 873.7L888.6 876L889.2 875.1L889.8 874.1L890.4 875.8L891 875.7L891.6 879.1L892.2 878.8L892.8 882L893.4 879.4L894 874.1L894.5 876.8L895.1 875.5L895.7 876.2L896.3 878.9L896.9 881.9L897.5 875.4L898.1 880.4L898.7 877.5L899.3 875.2L899.9 874.6L900.5 881L901.1 874.6L901.7 878.7L902.3 879.5L902.9 872.9L903.5 873.4L904.1 872.9L904.7 880.5L905.3 880.7L905.9 876.9L906.5 877.7L907.1 873.3L907.6 880.2L908.2 876.8L908.8 872.9L909.4 876.6L910 877.3L910.6 879.3L911.2 868.8L911.8 872.9L912.4 877.7L913 876.4L913.6 877.7L914.2 873.9L914.8 875.5L915.4 880.5L916 879.8L916.6 873.3L917.2 874.6L917.8 876.1L918.4 876.2L919 879L919.6 880.8L920.1 874.9L920.7 877L921.3 882.3L921.9 878.5L922.5 881.6L923.1 875.9L923.7 875.8L924.3 876.3L924.9 878.6L925.5 873.3L926.1 874.6L926.7 879.1L927.3 879.7L927.9 877L928.5 881.8L929.1 873.3L929.7 879.6L930.3 881.2L930.9 879.1L931.5 879.6L932.1 878.2L932.7 877L933.2 868.2L933.8 862.7L934.4 859.5L935 862.7L935.6 869.9L936.2 877L936.8 875.6L937.4 880.6L938 873.4L938.6 881.2L939.2 874.1L939.8 876L940.4 876.5L941 877.8L941.6 877.8L942.2 873.1L942.8 877.5L943.4 877.5L944 876L944.6 880.3L945.2 872.9L945.8 873.2L946.3 878.9L946.9 875.7L947.5 878.5L948.1 879.7L948.7 878.3L949.3 879L949.9 880.5L950.5 876L951.1 878L951.7 874.7L952.3 874.7L952.9 880.5L953.5 881L954.1 880.5L954.7 881L955.3 880.4L955.9 876.7L956.5 882L957.1 877.3L957.7 877.5L958.3 874.6L958.9 872.9L959.4 882.1L960 877.8L960.6 874.5L961.2 875.8L961.8 875.5L962.4 880.3L963 877.9L963.6 880.5L964.2 877.9L964.8 874.4L965.4 876.8L966 880.1L966.6 873.2L967.2 877.9L967.8 878.2L968.4 880.1L969 876.8L969.6 880.5L970.2 876.5L970.8 878.3L971.4 878.7L971.9 873.2L972.5 874.3L973.1 878.3L973.7 874.4L974.3 878.6L974.9 875.4L975.5 879.8L976.1 875.8L976.7 873.5L977.3 877.8L977.9 881L978.5 873L979.1 880.9L979.7 882.1L980.3 878.4L980.9 870.3L981.5 879.8L982.1 882.1L982.7 879.1L983.3 877.3L983.9 881.3L984.5 873.8L985 877.2L985.6 873.9L986.2 876.9L986.8 878.8L987.4 877L988 878.6L988.6 878.5L989.2 878.7L989.8 880.7L990.4 878.4L991 875L991.6 881.6L992.2 875.4L992.8 879.1L993.4 877.5L994 881.1L994.6 876.8L995.2 876.1L995.8 878.5L996.4 879.1L997 881.8L997.6 873.7L998.1 881.1L998.7 873.1L999.3 879.5L999.9 874.2L1000.5 875L1001.1 877.7L1001.7 874.9L1002.3 874.1L1002.9 881L1003.5 881.7L1004.1 879.5L1004.7 879.6L1005.3 877.6L1005.9 877.7L1006.5 880.9L1007.1 877.3L1007.7 879.1L1008.3 880.5L1008.9 880.1L1009.5 880.5L1010.1 881.7L1010.6 877.2L1011.2 881.2L1011.8 879.4L1012.4 878.6L1013 875.3L1013.6 877.2L1014.2 877.6L1014.8 875.9L1015.4 873.7L1016 876.2L1016.6 879.6L1017.2 880.8L1017.8 877.5L1018.4 873L1019 880.3L1019.6 876.4L1020.2 874L1020.8 879.7L1021.4 880.4L1022 877.8L1022.6 881.2L1023.2 876.9L1023.7 874.8L1024.3 873.5L1024.9 876.8L1025.5 868.7L1026.1 872.7L1026.7 879.1L1027.3 870.2L1027.9 864.4L1028.5 858.2L1029.1 858.2L1029.7 864.4L1030.3 869.8L1030.9 878.9L1031.5 869.1L1032.1 862.9L1032.7 841.8L1033.3 820.1L1033.9 810.6L1034.5 820.1L1035.1 841.8L1035.7 862.9L1036.3 868.1L1036.8 871.4L1037.4 874.4L1038 864.8L1038.6 854.9L1039.2 850.6L1039.8 854.9L1040.4 864.8L1041 874.4L1041.6 880.4L1042.2 868.3L1042.8 874.8L1043.4 870.9L1044 871.4L1044.6 875.8L1045.2 878.9L1045.8 878.1L1046.4 869.3L1047 848.4L1047.6 874.8L1048.2 880L1048.8 870L1049.4 880.2L1049.9 870.6L1050.5 880.6L1051.1 868.5L1051.7 880.3L1052.3 869.9L1052.9 871.6L1053.5 869.6L1054.1 871.1L1054.7 870.3L1055.3 875.9L1055.9 867.4L1056.5 874.3L1057.1 869.1L1057.7 879.6L1058.3 873.8L1058.9 863.5L1059.5 853L1060.1 848.4L1060.7 853L1061.3 863.5L1061.9 867.7L1062.4 867.4L1063 850.8L1063.6 833.6L1064.2 826.1L1064.8 833.6L1065.4 839.3L1066 816.2L1066.6 806.1L1067.2 816.2L1067.8 839.3L1068.4 861.6L1069 871.7L1069.6 870.9L1070.2 873.3L1070.8 873.7L1071.4 871.8L1072 855.9L1072.6 835.1L1073.2 819.5L1073.8 819.5L1074.4 835.1L1075 855.9L1075.5 871.5L1076.1 846.1L1076.7 796.9L1077.3 732.5L1077.9 684.1L1078.5 684.1L1079.1 732.5L1079.7 796.9L1080.3 846.1L1080.9 818.8L1081.5 798L1082.1 798L1082.7 818.8L1083.3 846.6L1083.9 867.7L1084.5 875.2L1085.1 878.6L1085.7 873.9L1086.3 848.4L1086.9 860.3L1087.5 829.7L1088.1 789.5L1088.6 759.3L1089.2 759.3L1089.8 789.5L1090.4 829.7L1091 860.3L1091.6 872.9L1092.2 869.7L1092.8 851.2L1093.4 827L1094 808.8L1094.6 808.8L1095.2 827L1095.8 851.2L1096.4 869.7L1097 875.7L1097.6 858.7L1098.2 826L1098.8 783L1099.4 750.7L1100 750.7L1100.6 783L1101.2 826L1101.7 858.7L1102.3 864.8L1102.9 845.6L1103.5 825.9L1104.1 817.2L1104.7 825.9L1105.3 845.6L1105.9 864.8L1106.5 876.7L1107.1 870.7L1107.7 848.8L1108.3 813.7L1108.9 777.5L1109.5 761.6L1110.1 777.5L1110.7 813.7L1111.3 848.8L1111.9 870.7L1112.5 869L1113.1 844.3L1113.7 804.7L1114.2 763.9L1114.8 746L1115.4 763.9L1116 804.7L1116.6 844.3L1117.2 869L1117.8 861.6L1118.4 839.3L1119 816.2L1119.6 806.1L1120.2 816.2L1120.8 839.3L1121.4 861.6L1122 867.7L1122.6 846.6L1123.2 818.8L1123.8 798L1124.4 798L1125 818.8L1125.6 846.6L1126.2 853.2L1126.8 852L1127.3 820.1L1127.9 787.1L1128.5 772.8L1129.1 787.1L1129.7 820.1L1130.3 852L1130.9 871.9L1131.5 876.4L1132.1 875.5L1132.7 861.6L1133.3 839.3L1133.9 816.2L1134.5 806.1L1135.1 816.2L1135.7 839.3L1136.3 861.6L1136.9 868L1137.5 874L1138.1 878.9L1138.7 870.8L1139.3 864L1139.9 838.1L1140.4 804.2L1141 778.7L1141.6 778.7L1142.2 804.2L1142.8 838.1L1143.4 864L1144 876.7L1144.6 864.8L1145.2 845.6L1145.8 825.9L1146.4 817.2L1147 825.9L1147.6 845.6L1148.2 864.8L1148.8 876.7L1149.4 878.1L1150 869.7L1150.6 851.2L1151.2 827L1151.8 808.8L1152.4 808.8L1153 827L1153.5 851.2L1154.1 869.7L1154.7 873.8L1155.3 860.6L1155.9 843.3L1156.5 830.3L1157.1 830.3L1157.7 843.3L1158.3 860.6L1158.9 873.1L1159.5 859.5L1160.1 875.8L1160.7 866.9L1161.3 844.7L1161.9 815.6L1162.5 793.7L1163.1 793.7L1163.7 815.6L1164.3 844.7L1164.9 866.9L1165.5 870.3L1166 868.8L1166.6 872.4L1167.2 860.6L1167.8 843.3L1168.4 830.3L1169 830.3L1169.6 843.3L1170.2 860.6L1170.8 873.8L1171.4 870.9L1172 879.8L1172.6 871.8L1173.2 855.9L1173.8 835.1L1174.4 819.5L1175 819.5L1175.6 835.1L1176.2 855.9L1176.8 871.8L1177.4 871.1L1178 880.3L1178.6 860.2L1179.1 853.3L1179.7 822.6L1180.3 791L1180.9 777.2L1181.5 791L1182.1 822.6L1182.7 853.3L1183.3 872.4L1183.9 880.3L1184.5 873.4L1185.1 859.7L1185.7 841.6L1186.3 828.1L1186.9 828.1L1187.5 841.6L1188.1 859.7L1188.7 870.4L1189.3 880.5L1189.9 869L1190.5 868.5L1191.1 848.4L1191.7 822.1L1192.2 802.3L1192.8 802.3L1193.4 822.1L1194 848.4L1194.6 868.5L1195.2 878.8L1195.8 865.8L1196.4 836L1197 788.1L1197.6 738.7L1198.2 717.1L1198.8 738.7L1199.4 788.1L1200 787.1L1200.6 772.8L1201.2 787.1L1201.8 820.1L1202.4 796.8L1203 783.9L1203.6 796.8L1204.2 826.5L1204.8 855.2L1205.3 869.3L1205.9 850.3L1206.5 825.3L1207.1 806.6L1207.7 806.6L1208.3 825.3L1208.9 850.3L1209.5 869.3L1210.1 867.4L1210.7 850.8L1211.3 833.6L1211.9 826.1L1212.5 833.6L1213.1 850.8L1213.7 867.4L1214.3 876.6L1214.9 879L1215.5 879.6L1216.1 869.9L1216.7 861L1217.3 849.1L1217.8 844L1218.4 849.1L1219 861L1219.6 872.3L1220.2 869.2L1220.8 873.6L1221.4 879.5L1222 873.9L1222.6 867.4L1223.2 858.8L1223.8 855.1L1224.4 858.8L1225 867.4L1225.6 872.5L1226.2 878.2L1226.8 880.6L1227.4 871.2L1228 877.6L1228.6 871.2L1229.2 864.6L1229.8 861.8L1230.4 864.6L1230.9 871.2L1231.5 877.6L1232.1 873.9L1232.7 872.8L1233.3 871.6L1233.9 870.2L1234.5 880.1L1235.1 872L1235.7 876.2L1236.3 872.6L1236.9 869L1237.5 869L1238.1 869.5L1238.7 867.6L1239.3 855.1L1239.9 869.6L1240.5 872.8L1241.1 868.2L1241.7 875L1242.3 869.1L1242.9 875.7L1243.5 877.4L1244 872.7L1244.6 881.2L1245.2 852.4L1245.8 876.2L1246.4 877.2L1247 878.5L1247.6 869.2L1248.2 881.2L1248.8 852.1L1249.4 870.6L1250 878.1L1250.6 878.4L1251.2 873.7L1251.8 873.8L1252.4 868.1L1253 877.1L1253.6 867.4L1254.2 869.3L1254.8 878.5L1255.4 880.7L1256 880.3L1256.5 870.2L1257.1 879.9L1257.7 880.3L1258.3 869.5L1258.9 871L1259.5 858.4L1260.1 845.3L1260.7 839.5L1261.3 845.3L1261.9 858.4L1262.5 871.2L1263.1 875.3L1263.7 880.3L1264.3 871.4L1264.9 869.4L1265.5 870.9L1266.1 870.5L1266.7 857.5L1267.3 879.1L1267.9 868.1L1268.5 874L1269.1 880.4L1269.6 872.7L1270.2 878.8L1270.8 870.6L1271.4 880.7L1272 877L1272.6 873.5L1273.2 874L1273.8 873.8L1274.4 874.4L1275 878.5L1275.6 874.9L1276.2 876.6L1276.8 868.3L1277.4 875.2L1278 881.5L1278.6 876.3L1279.2 871.2L1279.8 877.9L1280.4 867.5L1281 859.6L1281.6 851.8L1282.2 851.8L1282.7 859.6L1283.3 870L1283.9 872.9L1284.5 868.6L1285.1 853.3L1285.7 837.5L1286.3 830.6L1286.9 837.5L1287.5 853.3L1288.1 827.7L1288.7 798.8L1289.3 786.1L1289.9 798.8L1290.5 827.7L1291.1 855.9L1291.7 858.4L1292.3 845.3L1292.9 839.5L1293.5 845.3L1294.1 858.4L1294.7 868.5L1295.3 870.6L1295.8 868.6L1296.4 869.1L1297 877.1L1297.6 872.5L1298.2 873.3L1298.8 872L1299.4 871.7L1300 873.3L1300.6 879.1L1301.2 871.4L1301.8 859.3L1302.4 876.5L1303 874.4L1303.6 879.2L1304.2 861.3L1304.8 868.9L1305.4 875.1L1306 868L1306.6 870.9L1307.2 876.4L1307.8 870.1L1308.3 869.9L1308.9 878.3L1309.5 876.7L1310.1 875.4L1310.7 881.4L1311.3 868.6L1311.9 876.5L1312.5 878.5L1313.1 870.2L1313.7 870.8L1314.3 870.6L1314.9 863.5L1315.5 853L1316.1 848.4L1316.7 853L1317.3 863.5L1317.9 868.9L1318.5 878.4L1319.1 871.9L1319.7 861.5L1320.3 844.9L1320.9 832.4L1321.4 832.4L1322 844.9L1322.6 861.5L1323.2 872.5L1323.8 861L1324.4 849.1L1325 844L1325.6 849.1L1326.2 861L1326.8 872.5L1327.4 873.1L1328 864.8L1328.6 845.6L1329.2 825.9L1329.8 817.2L1330.4 825.9L1331 845.6L1331.6 864.8L1332.2 873.8L1332.8 875.5L1333.4 878.9L1334 868.5L1334.5 848.4L1335.1 822.1L1335.7 802.3L1336.3 802.3L1336.9 822.1L1337.5 848.4L1338.1 868.5L1338.7 870.9L1339.3 854L1339.9 831.9L1340.5 815.2L1341.1 815.2L1341.7 831.9L1342.3 854L1342.9 846.9L1343.5 809.8L1344.1 771.6L1344.7 755L1345.3 771.6L1345.9 809.8L1346.5 846.9L1347.1 835.4L1347.6 810.4L1348.2 799.5L1348.8 810.4L1349.4 835.4L1350 859.7L1350.6 872.5L1351.2 869.7L1351.8 851.2L1352.4 827L1353 808.8L1353.6 808.8L1354.2 827L1354.8 851.2L1355.4 869.7L1356 868.5L1356.6 853.3L1357.2 837.5L1357.8 830.6L1358.4 837.5L1359 853.3L1359.6 868.6L1360.1 870.3L1360.7 867.1L1361.3 854.7L1361.9 845.3L1362.5 845.3L1363.1 854.7L1363.7 867.1L1364.3 868.6L1364.9 878.7L1365.5 866.7L1366.1 855.9L1366.7 841.4L1367.3 835L1367.9 841.4L1368.5 855.9L1369.1 869.9L1369.7 867.5L1370.3 869.9L1370.9 875.6L1371.5 867.4L1372.1 858.8L1372.7 855.1L1373.2 858.8L1373.8 867.4L1374.4 874L1375 865.3L1375.6 851.4L1376.2 841L1376.8 841L1377.4 851.4L1378 865.3L1378.6 873.4L1379.2 869.6L1379.8 870.7L1380.4 868.7L1381 860.8L1381.6 857.3L1382.2 860.8L1382.8 862.8L1383.4 875.3L1384 876.1L1384.6 869.4L1385.2 877.9L1385.8 880.9L1386.3 881.3L1386.9 876L1387.5 874.3L1388.1 870.8L1388.7 855.9L1389.3 827.7L1389.9 798.8L1390.5 786.1L1391.1 798.8L1391.7 827.7L1392.3 855.9L1392.9 845.3L1393.5 839.5L1394.1 845.3L1394.7 858.4L1395.3 869.1L1395.9 870.3L1396.5 880.9L1397.1 871.9L1397.7 856.8L1398.3 867.5L1398.9 880.6L1399.4 875.2L1400 877.2L1400.6 875.9L1401.2 870.7L1401.8 871.2L1402.4 867.8L1403 868.8L1403.6 874.2L1404.2 872.5L1404.8 873.7L1405.4 874.5L1406 874.3L1406.6 877.1L1407.2 867.4L1407.8 877.5L1408.4 870.4L1409 877.5L1409.6 881.3L1410.2 868.6L1410.8 872.5L1411.4 880.8L1411.9 867.7L1412.5 881.2L1413.1 872.9L1413.7 880.3L1414.3 873.2L1414.9 861.5L1415.5 876.7L1416.1 879.3L1416.7 872.9L1417.3 880.2L1417.9 869.8L1418.5 873.2L1419.1 869.9L1419.7 880.2L1420.3 872L1420.9 879.6L1421.5 881.2L1422.1 879.9L1422.7 869.9L1423.3 875.9L1423.9 869.8L1424.5 878.3L1425 868.8L1425.6 880.9L1426.2 870.6L1426.8 880.9L1427.4 881.4L1428 873L1428.6 869.7L1429.2 879.5L1429.8 879.8L1430.4 880.3L1431 881.4L1431.6 881L1432.2 875.9L1432.8 868.5L1433.4 876.6L1434 873.8L1434.6 863.5L1435.2 853L1435.8 848.4L1436.4 853L1437 863.5L1437.6 873.8L1438.1 879.2L1438.7 880.8L1439.3 873.6L1439.9 872.9L1440.5 875.1L1441.1 877.9L1441.7 882L1442.3 879.9L1442.9 876.4L1443.5 874.4L1444.1 876.3L1444.7 875.4L1445.3 874.1L1445.9 875.2L1446.5 880.1L1447.1 875.5L1447.7 879.6L1448.3 874L1448.9 875.7L1449.5 879.6L1450.1 882.2L1450.7 877L1451.2 875.8L1451.8 880.4L1452.4 880.3L1453 876.1L1453.6 882.2L1454.2 881.7L1454.8 881.4L1455.4 873.8L1456 880.4L1456.6 873.7L1457.2 875.3L1457.8 882.1L1458.4 876.7L1459 881L1459.6 879.5L1460.2 879L1460.8 878.9L1461.4 875L1462 866.1L1462.6 856.9L1463.2 852.9L1463.7 856.9L1464.3 866.1L1464.9 875L1465.5 877L1466.1 872.9L1466.7 878.9L1467.3 877.9L1467.9 880.6L1468.5 879.7L1469.1 881.9L1469.7 879.3L1470.3 876.3L1470.9 879.4L1471.5 877.3L1472.1 880.7L1472.7 875.1L1473.3 880.7L1473.9 874L1474.5 878.5L1475.1 876.7L1475.7 870.7L1476.3 877.9L1476.8 872.4L1477.4 875.3L1478 877.5L1478.6 876.7L1479.2 879L1479.8 880.1L1480.4 873.7L1481 880.8L1481.6 876.8L1482.2 873.4L1482.8 878.8L1483.4 873L1484 873.2L1484.6 875.9L1485.2 880L1485.8 875.5L1486.4 867.4L1487 858.8L1487.6 855.1L1488.2 858.8L1488.8 867.4L1489.4 874L1489.9 880.8L1490.5 877.2L1491.1 876.5L1491.7 880.7L1492.3 876.3L1492.9 875.9L1493.5 881.5L1494.1 875.5L1494.7 875.6L1495.3 875L1495.9 878.3L1496.5 876L1497.1 874.5L1497.7 879.1L1498.3 873.1L1498.9 879.6L1499.5 876.2L1500.1 877.8L1500.7 878.9L1501.3 880.8L1501.9 880.9L1502.5 877.6L1503 879.3L1503.6 880.1L1504.2 873.2L1504.8 878.4L1505.4 877.6L1506 873.9L1506.6 877.6L1507.2 878L1507.8 880.5L1508.4 880L1509 879.4L1509.6 873.4L1510.2 879.3L1510.8 876.3L1511.4 868.9L1512 874.8L1512.6 876L1513.2 878.7L1513.8 875.1L1514.4 877.2L1515 879.6L1515.5 882L1516.1 879.4L1516.7 873.2L1517.3 875.5L1517.9 873L1518.5 869.7L1519.1 875.7L1519.7 882.2L1520.3 875.7L1520.9 880.6L1521.5 874.1L1522.1 876.3L1522.7 880.2L1523.3 877L1523.9 875.7L1524.5 876.4L1525.1 875.8L1525.7 873.9L1526.3 873.6L1526.9 878.6L1527.5 878.6L1528.1 878.9L1528.6 875.2L1529.2 873.6L1529.8 875.3L1530.4 879L1531 877.8L1531.6 876L1532.2 869.9L1532.8 860.7L1533.4 859.5L1534 862.7L1534.6 869.9L1535.2 877L1535.8 875.3L1536.4 873.9L1537 881.1L1537.6 876.7L1538.2 874.6L1538.8 876.1L1539.4 878.5L1540 875.9L1540.6 875.4L1541.2 872.9L1541.7 875.8L1542.3 880.7L1542.9 874.9L1543.5 873L1544.1 878.9L1544.7 874.3L1545.3 875.4L1545.9 879.8L1546.5 881.3L1547.1 876.6L1547.7 874.1L1548.3 876.4L1548.9 879.9L1549.5 877.5L1550.1 880.2L1550.7 878.8L1551.3 875.9L1551.9 878.5L1552.5 881.6L1553.1 877.6L1553.7 878.2L1554.2 881.1L1554.8 879.3L1555.4 880.4L1556 875.7L1556.6 879.9L1557.2 874.6L1557.8 867.7L1558.4 862.5L1559 862.5L1559.6 867.7L1560.2 874.6L1560.8 876.3L1561.4 873.4L1562 881.9L1562.6 876L1563.2 880.2L1563.8 873L1564.4 878.9L1565 873.2L1565.6 878.4L1566.2 876.8L1566.8 873.8L1567.3 881.3L1567.9 879.7L1568.5 875.6L1569.1 876.6L1569.7 877.7L1570.3 873.6L1570.9 881.8L1571.5 873.5L1572.1 881.1L1572.7 877.2L1573.3 877.1L1573.9 878.2L1574.5 876.7L1575.1 877.4L1575.7 879.8L1576.3 873.5L1576.9 881.8L1577.5 873.4L1578.1 880.2L1578.7 881.6L1579.3 881.7L1579.9 879L1580.4 879.1L1581 879L1581.6 881.8L1582.2 874.4L1582.8 872.5L1583.4 866.6L1584 864L1584.6 866.6L1585.2 872.5L1585.8 878.2L1586.4 873.9L1587 874.2L1587.6 874.2L1588.2 881.8L1588.8 876L1589.4 879.2L1590 873.2L1590.6 881.2L1591.2 873L1591.8 881.1L1592.4 877.5L1593 877.3L1593.5 878.1L1594.1 875.9L1594.7 881.4L1595.3 879.7L1595.9 874.1L1596.5 875.9L1597.1 882.2L1597.7 878.1L1598.3 873L1598.9 876.4L1599.5 880.6L1600.1 874.6L1600.7 877.8L1601.3 876.6L1601.9 873.9L1602.5 874.7L1603.1 873.6L1603.7 880.1L1604.3 875.6L1604.9 876.5L1605.5 874.7L1606 876.9L1606.6 878.5L1607.2 874.3L1607.8 877.8L1608.4 881.4L1609 873.1L1609.6 878L1610.2 880.2L1610.8 880L1611.4 877.5L1612 875.2L1612.6 873L1613.2 878.7L1613.8 882.2L1614.4 876.5L1615 881.1L1615.6 881.1L1616.2 877.6L1616.8 879.1L1617.4 879.3L1618 874.8L1618.6 876.1L1619.1 877.5L1619.7 880.9L1620.3 866.3L1620.9 873.7L1621.5 874L1622.1 868.1L1622.7 875.3L1623.3 873.6L1623.9 881.9L1624.5 873L1625.1 865L1625.7 873.6L1626.3 876.5L1626.9 878.7L1627.5 881.4L1628.1 875.3L1628.7 877.8L1629.3 880.5L1629.9 882L1630.5 879.5L1631.1 877.8L1631.7 879.8L1632.2 874.7L1632.8 879L1633.4 881.9L1634 879.1L1634.6 870.1L1635.2 876L1635.8 877.9L1636.4 878.5L1637 874.6L1637.6 877.9L1638.2 881.8L1638.8 874.3L1639.4 879.1L1640 872.8L1640.6 864.4L1641.2 858.2L1641.8 858.2L1642.4 864.4L1643 872.8L1643.6 875.5L1644.2 877L1644.8 874.7L1645.3 875.7L1645.9 877.5L1646.5 876.6L1647.1 880.6L1647.7 874.5L1648.3 881.2L1648.9 873.1L1649.5 881.9L1650.1 876.9L1650.7 876.5L1651.3 881.4L1651.9 877.8L1652.5 877.6L1653.1 876.1L1653.7 876L1654.3 880.2L1654.9 878.3L1655.5 873.9L1656.1 881.8L1656.7 878.3L1657.3 878.6L1657.8 876.8L1658.4 873.6L1659 878.1L1659.6 877L1660.2 869.9L1660.8 862.7L1661.4 859.5L1662 862.7L1662.6 869.9L1663.2 877L1663.8 873.1L1664.4 879.1L1665 876.7L1665.6 879.4L1666.2 875.5L1666.8 874.3L1667.4 881.6L1668 881.2L1668.6 873.3L1669.2 881.3L1669.8 876.3L1670.4 874.2L1670.9 867.3L1671.5 877.8L1672.1 874.1L1672.7 879.2L1673.3 879.1L1673.9 878.5L1674.5 877.1L1675.1 873.1L1675.7 879.7L1676.3 876.6L1676.9 880.8L1677.5 876.8L1678.1 877.1L1678.7 873.8L1679.3 875.1L1679.9 881.5L1680.5 874L1681.1 875.2L1681.7 879.8L1682.3 878.4L1682.9 880.5L1683.5 874.3L1684 880.7L1684.6 874.5L1685.2 879.6L1685.8 875.4L1686.4 876.7L1687 877.1L1687.6 878.3L1688.2 873.5L1688.8 876.5L1689.4 881.2L1690 879.2L1690.6 875L1691.2 877L1691.8 878.9L1692.4 875.1L1693 867L1693.6 875.5L1694.2 881.3L1694.8 876.3L1695.4 873.4L1696 880.3L1696.6 881.9L1697.1 881.9L1697.7 876.4L1698.3 881L1698.9 879.4L1699.5 876.8L1700.1 882.1L1700.7 874.2L1701.3 873.4L1701.9 880.7L1702.5 881.6L1703.1 876.7L1703.7 881.6L1704.3 880L1704.9 880.5L1705.5 879.6L1706.1 874L1706.7 880.2L1707.3 877.2L1707.9 873.5L1708.5 877.6L1709.1 872.9L1709.6 874.6L1710.2 875.2L1710.8 875.2L1711.4 877.2L1712 881.8L1712.6 881.4L1713.2 881.3L1713.8 875.3L1714.4 880.5L1715 873.5L1715.6 879.2L1716.2 874.8L1716.8 874.4L1717.4 878.3L1718 878.8L1718.6 876.9L1719.2 882.1L1719.8 879.2L1720.4 881.9L1721 875.3L1721.6 875.9L1722.2 880.2L1722.7 876.8L1723.3 877.1L1723.9 881.4L1724.5 874.1L1725.1 876.6L1725.7 880L1726.3 873L1726.9 878.3L1727.5 878.2L1728.1 873.3L1728.7 876.6L1729.3 882L1729.9 878.2L1730.5 873.1L1731.1 875.1L1731.7 881.6L1732.3 875L1732.9 876.8L1733.5 874.7L1734.1 877.6L1734.7 871.2L1735.3 864.6L1735.8 861.8L1736.4 864.6L1737 871.2L1737.6 869.2L1738.2 878.7L1738.8 881.6L1739.4 877.3L1740 873.6L1740.6 874L1741.2 878.8L1741.8 881.5L1742.4 874.8L1743 876.6L1743.6 881L1744.2 872.1L1744.8 874.2L1745.4 873.6L1746 877.5L1746.6 872.5L1747.2 866.6L1747.8 864L1748.4 866.6L1748.9 872.5L1749.5 878.2L1750.1 866.5L1750.7 877.5L1751.3 879.3L1751.9 877.3L1752.5 867.2L1753.1 879L1753.7 874.7L1754.3 874.1L1754.9 880.7L1755.5 877.5L1756.1 881.5L1756.7 880.5L1757.3 881.2L1757.9 877.2L1758.5 878.4L1759.1 881.8L1759.7 867.2L1760.3 873.7L1760.9 873.2L1761.4 879.4L1762 881.8L1762.6 868.1L1763.2 874.4L1763.8 878.5L1764.4 881.9L1765 873L1765.6 880.7L1766.2 882.1L1766.8 878.8L1767.4 874.6L1768 875L1768.6 876.3L1769.2 874.7L1769.8 867.1L1770.4 877.5L1771 881.1L1771.6 877.3L1772.2 874.9L1772.8 873.2L1773.4 874.2L1774 875L1774.5 874.4L1775.1 878.4L1775.7 878.2L1776.3 877.2L1776.9 871.7L1777.5 880L1778.1 876.5L1778.7 880.1L1779.3 873.8L1779.9 863.5L1780.5 853L1781.1 848.4L1781.7 853L1782.3 863.5L1782.9 873.8L1783.5 873.6L1784.1 874.6L1784.7 873.5L1785.3 874.5L1785.9 876.1L1786.5 878.6L1787.1 881.2L1787.6 874.1L1788.2 880.6L1788.8 879.9L1789.4 881.9L1790 873.3L1790.6 876.9L1791.2 875.2L1791.8 876.3L1792.4 867.3L1793 875.9L1793.6 868.8L1794.2 875.6L1794.8 868L1795.4 869L1796 857.9L1796.6 849.6L1797.2 849.6L1797.8 857.9L1798.4 845.6L1799 825.9L1799.6 817.2L1800.2 825.9L1800.7 845.6L1801.3 864.8L1801.9 868.6L1802.5 880.7L1803.1 871.8L1803.7 877L1804.3 870.1L1804.9 855.9L1805.5 835.1L1806.1 819.5L1806.7 819.5L1807.3 835.1L1807.9 855.9L1808.5 871.8L1809.1 863.5L1809.7 853L1810.3 848.4L1810.9 853L1811.5 863.5L1812.1 850.3L1812.7 873.9L1813.2 878.2L1813.8 871.2L1814.4 858.4L1815 845.3L1815.6 839.5L1816.2 845.3L1816.8 858.4L1817.4 871.2L1818 859.7L1818.6 847.2L1819.2 841.7L1819.8 847.2L1820.4 859.7L1821 871.8L1821.6 869.2L1822.2 870L1822.8 881.4L1823.4 868.6L1824 870L1824.6 872.4L1825.2 876L1825.8 879.7L1826.3 873.4L1826.9 881.2L1827.5 878.3L1828.1 874.4L1828.7 875.8L1829.3 877.1L1829.9 876.5L1830.5 876.9L1831.1 871.7L1831.7 880L1832.3 871.3L1832.9 876.3L1833.5 872.8L1834.1 872.8L1834.7 874.2L1835.3 867.3L1835.9 879.4L1836.5 871.4L1837.1 874.8L1837.7 875.2L1838.3 880.1L1838.9 876.2L1839.4 877.2L1840 875.6L1840.6 870L1841.2 874.4L1841.8 871.5L1842.4 874.5L1843 873.5L1843.6 875.6L1844.2 869.2L1844.8 870.7L1845.4 876.3L1846 881.1L1846.6 878.4L1847.2 873.4L1847.8 868.3L1848.4 867.9L1849 874.5L1849.6 870L1850.2 861.5L1850.8 844.9L1851.4 832.4L1851.9 832.4L1852.5 844.9L1853.1 861.5L1853.7 873.3L1854.3 873.9L1854.9 870L1855.5 859.6L1856.1 851.8L1856.7 851.8L1857.3 859.6L1857.9 869.9L1858.5 867.5L1859.1 875.7L1859.7 870.5L1860.3 875L1860.9 863.4L1861.5 848.2L1862.1 836.7L1862.7 836.7L1863.3 848.2L1863.9 863.4L1864.5 863.5L1865 843.1L1865.6 822L1866.2 812.8L1866.8 822L1867.4 843.1L1868 863.5L1868.6 866.5L1869.2 843.7L1869.8 813.9L1870.4 791.6L1871 791.6L1871.6 813.9L1872.2 843.7L1872.8 866.5L1873.4 851.2L1874 827L1874.6 808.8L1875.2 808.8L1875.8 827L1876.4 851.2L1877 869.7L1877.6 855.9L1878.1 841.4L1878.7 835L1879.3 841.4L1879.9 855.9L1880.5 869.9L1881.1 873.8L1881.7 867.1L1882.3 854.7L1882.9 845.3L1883.5 845.3L1884.1 854.7L1884.7 867.1L1885.3 870.3L1885.9 862.9L1886.5 841.8L1887.1 820.1L1887.7 810.6L1888.3 820.1L1888.9 841.8L1889.5 855.9L1890.1 841.4L1890.7 835L1891.2 841.4L1891.8 855.9L1892.4 845.6L1893 825.9L1893.6 817.2L1894.2 825.9L1894.8 845.6L1895.4 864.8L1896 850.8L1896.6 833.6L1897.2 826.1L1897.8 833.6L1898.4 845.6L1899 807.3L1899.6 767.8L1900.2 750.5L1900.8 767.8L1901.4 807.3L1902 845.6L1902.6 833.6L1903.2 826.1L1903.7 833.6L1904.3 850.8L1904.9 865.3L1905.5 851.4L1906.1 841L1906.7 841L1907.3 851.4L1907.9 865.3L1908.5 872.7L1909.1 869L1909.7 868.5L1910.3 868.7L1910.9 860.8L1911.5 857.3L1912.1 860.8L1912.7 868.7L1913.3 876.3L1913.9 874.6L1914.5 869.9L1915.1 874.2L1915.7 878.1L1916.3 879L1916.8 875.8L1917.4 869.1L1918 872.4L1918.6 868L1919.2 876.1L1919.8 867.5L1920.4 877.9L1921 880.5L1921.6 878.6L1922.2 872.8L1922.8 869.2L1923.4 871.4L1924 870.6L1924.6 872.1L1925.2 874.9L1925.8 869.9L1926.4 872.6L1927 874.8L1927.6 871.6L1928.2 870.6L1928.8 879.8L1929.4 873.4L1929.9 881.2L1930.5 868.4L1931.1 878L1931.7 880.4L1932.3 876.5L1932.9 867.6L1933.5 876.5L1934.1 875.7L1934.7 868.1L1935.3 856.3L1935.9 847.5L1936.5 847.5L1937.1 856.3L1937.7 868.1L1938.3 876.8L1938.9 868.1L1939.5 881.1L1940.1 876L1940.7 862.9L1941.3 841.8L1941.9 820.1L1942.5 810.6L1943 820.1L1943.6 841.8L1944.2 862.9L1944.8 876L1945.4 868.2L1946 864.8L1946.6 854.9L1947.2 850.6L1947.8 854.9L1948.4 864.8L1949 872.5L1949.6 875L1950.2 863.4L1950.8 848.2L1951.4 836.7L1952 836.7L1952.6 848.2L1953.2 863.4L1953.8 874.5L1954.4 846.5L1955 834.1L1955.5 808.4L1956.1 797.2L1956.7 808.4L1957.3 834.1L1957.9 859.1L1958.5 874.5L1959.1 865L1959.7 861L1960.3 838L1960.9 814.3L1961.5 803.9L1962.1 814.3L1962.7 838L1963.3 861L1963.9 853.3L1964.5 837.5L1965.1 830.6L1965.7 837.5L1966.3 853.3L1966.9 868.6L1967.5 875.8L1968.1 865.3L1968.6 851.4L1969.2 841L1969.8 841L1970.4 851.4L1971 862.8L1971.6 835.3L1972.2 799.3L1972.8 772.2L1973.4 772.2L1974 799.3L1974.6 835.3L1975.2 823.8L1975.8 823.8L1976.4 838.4L1977 817.5L1977.6 783.3L1978.2 768.3L1978.8 783.3L1979.4 817.5L1980 850.7L1980.6 841.6L1981.2 828.1L1981.7 828.1L1982.3 841.6L1982.9 859.7L1983.5 873.4L1984.1 868.6L1984.7 853.3L1985.3 837.5L1985.9 830.6L1986.5 837.5L1987.1 853.3L1987.7 839.3L1988.3 816.2L1988.9 806.1L1989.5 816.2L1990.1 839.3L1990.7 861.6L1991.3 864.8L1991.9 845.6L1992.5 825.9L1993.1 817.2L1993.7 825.9L1994.3 845.6L1994.8 864.8L1995.4 865.3L1996 851.4L1996.6 841L1997.2 841L1997.8 851.4L1998.4 865.3L1999 869.8L1999.6 871.3L2000.2 868.8L2000.8 880.3"/>
<path d="M223.5 979.5L224.1 978.1L224.7 976.1L225.3 974.8L225.9 973.4L226.5 973.7L227.1 975.5L227.7 977.5L228.3 979.2L228.9 979.9M301.5 980L302.1 979.1L302.7 977.3L303.3 973.4L303.9 968.9L304.5 966.5L305.1 965.1L305.7 967.8L306.3 972.5L306.9 976L307.5 978.5L308.1 979.8M310.5 980.2L311.1 979.4L311.7 977.5L312.2 973.6L312.8 967L313.4 959.7L314 956.3L314.6 954.6L315.2 959.9L315.8 966.3L316.4 956L317 944L317.6 939.1L318.2 939.9L318.8 950.5L319.4 939.4L320 931.9L320.6 929.5L321.2 943.3L321.8 956.1L322.4 949.4L323 943.6L323.6 941.2L324.2 950.8L324.7 960.8L325.3 948.4L325.9 939.2L326.5 938.3L327.1 948.9L327.7 955.1L328.3 947.4L328.9 946L329.5 952.7L330.1 961L330.7 954.8L331.3 947.6L331.9 942.7L332.5 948.6L333.1 959.6L333.7 969L334.3 975.3L334.9 978.7L335.5 980M337.3 979.8L337.8 979.1L338.4 977.7L339 976.1L339.6 975.6L340.2 975.6L340.8 976.3L341.4 977.9L342 979.2L342.6 980M346.8 979.5L347.4 977.9L348 975L348.6 972L349.2 968.3L349.8 967.3L350.4 969.1L350.9 972.8L351.5 976.3L352.1 978.6L352.7 979.8M356.9 979.7L357.5 978.1L358.1 974.3L358.7 967.6L359.3 960.3L359.9 952.7L360.5 951.4L361.1 953.2L361.7 963.5L362.3 971L362.9 976.3L363.4 979.1L364 980M382.5 979.8L383.1 978.6L383.7 975.4L384.3 969.5L384.9 962.3L385.5 958.4L386.1 956.4L386.7 960L387.3 966.4L387.9 973.2L388.5 977.2L389.1 979.3L389.6 980.1M406.9 980L407.5 979.1L408.1 976.3L408.7 971.1L409.3 962.1L409.9 955.4L410.5 948.4L411.1 950L411.7 958.8L412.3 967.1L412.9 973.6L413.5 977.8L414.1 979.6M417 979.9L417.6 979.1L418.2 977.4L418.8 974.9L419.4 973.1L420 972L420.6 972.1L421.2 975L421.8 977.2L422.4 978.1L423 974.4L423.6 968L424.2 962L424.8 956.6L425.4 954.2L426 958.4L426.6 958L427.2 950.6L427.8 947L428.3 950L428.9 959.7L429.5 953.9L430.1 939.9L430.7 937.3L431.3 942.8L431.9 952.7L432.5 964.6L433.1 957.1L433.7 950.2L434.3 952.1L434.9 956.5L435.5 964.3L436.1 962.6L436.7 955.2L437.3 953.8L437.9 959.9L438.5 966.3L439.1 972L439.7 966.4L440.3 963.2L440.9 964.1L441.4 967.9L442 971.8L442.6 976.2L443.2 978.7L443.8 976.9L444.4 972.2L445 963.6L445.6 952.9L446.2 948.5L446.8 948.6L447.4 953.6L448 965.2L448.6 972.5L449.2 977.2L449.8 979.4L450.4 980.1M720.7 980L721.3 979.2L721.9 977.9L722.5 975.4L723.1 973.9L723.7 972.9L724.3 974.2L724.9 976L725.5 977.8L726 979.2L726.6 980M727.8 980.1L728.4 979.2L729 976.5L729.6 970.1L730.2 959.6L730.8 947.5L731.4 937.9L732 938.6L732.6 945.3L733.2 932.9L733.8 926.8L734.4 931.3L735 946.4L735.6 960.1L736.2 970.4L736.8 976.8L737.4 979.2L738 980.1M743.9 979.9L744.5 978.7L745.1 974.8L745.7 967.1L746.3 954.7L746.9 940.7L747.5 931.7L748.1 927.4L748.7 938.9L749.3 953.9L749.9 944L750.5 924.9L751.1 915.4L751.7 916.2L752.2 937L752.8 955.2L753.4 947.1L754 939.7L754.6 932.5L755.2 936.4L755.8 949.3L756.4 964.4L757 951.7L757.6 934.2L758.2 927.4L758.8 922.9L759.4 940.5L760 953.4L760.6 936.6L761.2 918.5L761.8 909.4L762.4 920.1L763 924.3L763.6 906.3L764.2 906.9L764.7 916.3L765.3 937.3L765.9 932.4L766.5 919.3L767.1 919.2L767.7 929.5L768.3 942.5L768.9 953.2L769.5 940L770.1 929.3L770.7 931.6L771.3 943.2L771.9 954.3L772.5 955.4L773.1 941.8L773.7 937.9L774.3 938.7L774.9 949.5L775.5 957.3L776.1 945.7L776.7 940L777.3 941.9L777.8 951.3L778.4 959.2L779 947.7L779.6 934.6L780.2 930L780.8 932.5L781.4 946.8L782 962L782.6 943.7L783.2 928.1L783.8 914.5L784.4 920.5L785 930.5L785.6 922.8L786.2 904.9L786.8 900.6L787.4 913.5L788 894.8L788.6 895.8L789.2 914L789.8 934.7L790.4 921.1L790.9 918.6L791.5 925L792.1 941.2L792.7 947.6L793.3 934.1L793.9 934.8L794.5 937L795.1 951.7L795.7 949.9L796.3 929.6L796.9 914L797.5 910.6L798.1 925.1L798.7 937.2L799.3 925.5L799.9 933.7L800.5 943.8L801.1 960.6L801.7 970.4L802.3 976.7L802.9 974.5L803.5 970L804 962.2L804.6 959.1L805.2 960.5L805.8 964.3L806.4 965.7L807 962.4L807.6 960.5L808.2 963.5L808.8 968.9L809.4 974.3L810 977.9L810.6 979.6M829.6 979.8L830.2 978.8L830.8 977.6L831.4 976.2L832 975.5L832.6 975.8L833.2 976.8L833.8 978L834.4 979.4L835 978.9L835.6 977.2L836.2 975.4L836.8 973.2L837.4 972.5L838 974L838.6 975.9L839.2 977.7L839.8 979.3L840.4 978.5L841 976.6L841.6 974.1L842.2 972.8L842.7 972.9L843.3 974.2L843.9 976.7L844.5 978.4L845.1 979.6M851.1 980L851.7 979.2L852.3 977.3L852.9 974.2L853.5 970.3L854.1 967.4L854.7 968.1L855.3 970.6L855.8 973.5L856.4 976.9L857 979L857.6 980M864.2 979.9L864.8 978.5L865.4 975.4L866 970.1L866.6 963.4L867.2 958.6L867.8 958.4L868.3 962.2L868.9 968.3L869.5 973.3L870.1 977.5L870.7 979.4L871.3 980.1M875.5 980.1L876.1 979.3L876.7 977.2L877.3 973.8L877.9 969.1L878.5 963L879.1 960.4L879.7 962.5L880.3 966.8L880.9 972.8L881.4 976.5L882 971.9L882.6 967.1L883.2 961.1L883.8 959.6L884.4 961.1L885 966.7L885.6 959.6L886.2 956.1L886.8 958.4L887.4 963.7L888 969.7L888.6 966L889.2 961.2L889.8 958.7L890.4 961.2L891 966L891.6 972.5L892.2 976.9L892.8 979.2L893.4 980.1M897.5 979.5L898.1 978.1L898.7 975.4L899.3 971.3L899.9 968L900.5 967.4L901.1 968.5L901.7 972.5L902.3 976.2L902.9 978.6L903.5 977.8L904.1 975L904.7 971.5L905.3 969.9L905.9 970.1L906.5 971.8L907.1 975.2L907.6 970L908.2 965.9L908.8 964.1L909.4 965L910 968.8L910.6 973.1L911.2 977L911.8 979.2L912.4 980M952.9 979.7L953.5 978.5L954.1 976.3L954.7 973.4L955.3 971.1L955.9 970L956.5 970.4L957.1 973.7L957.7 976.8L958.3 978.7L958.9 979.8M961.8 980.1L962.4 979.4L963 977.7L963.6 974.9L964.2 970.6L964.8 968.5L965.4 966.9L966 969L966.6 973.5L967.2 971L967.8 965.7L968.4 961.1L969 960.6L969.6 965.2L970.2 966.4L970.8 955.6L971.4 943.1L971.9 937.6L972.5 942.8L973.1 952.6L973.7 962.1L974.3 965.9L974.9 963.9L975.5 965.2L976.1 968.4L976.7 973.4L977.3 976.8L977.9 979.1L978.5 980M994 980L994.6 979.1L995.2 977L995.8 973.9L996.4 969.5L997 967.1L997.6 968.1L998.1 970.9L998.7 972.4L999.3 964.5L999.9 957.7L1000.5 954.6L1001.1 956.1L1001.7 963.2L1002.3 959.1L1002.9 949.9L1003.5 944.5L1004.1 946.4L1004.7 955.2L1005.3 965.7L1005.9 962.7L1006.5 956.5L1007.1 955.7L1007.7 957L1008.3 964L1008.9 971L1009.5 974.7L1010.1 970.3L1010.6 964.6L1011.2 962.5L1011.8 963.9L1012.4 969.4L1013 973.5L1013.6 977.5L1014.2 979.3L1014.8 980.1M1064.2 979.5L1064.8 978.4L1065.4 976.5L1066 974.6L1066.6 973.6L1067.2 974.1L1067.8 976.2L1068.4 977.7L1069 979.1L1069.6 979.9M1085.7 979.7L1086.3 978.9L1086.9 977.5L1087.5 976.5L1088.1 976L1088.6 976.7L1089.2 977.7L1089.8 978.8L1090.4 979.6M1100.6 979.8L1101.2 978.8L1101.7 977.8L1102.3 976.6L1102.9 976.2L1103.5 976.5L1104.1 977.6L1104.7 978.7L1105.3 979.7M1138.7 980L1139.3 979.3L1139.9 978.4L1140.4 977.1L1141 976.4L1141.6 976L1142.2 976.8L1142.8 978.3L1143.4 979.2L1144 980M1242.9 980L1243.5 979.4L1244 978.1L1244.6 976.2L1245.2 974.3L1245.8 973.7L1246.4 974.8L1247 976.1L1247.6 978.1L1248.2 979.3L1248.8 980M1250 979.8L1250.6 978.9L1251.2 976.9L1251.8 973.7L1252.4 970.2L1253 969.1L1253.6 970.1L1254.2 973.1L1254.8 975.7L1255.4 978.1L1256 979.6M1276.2 979.9L1276.8 979.2L1277.4 978.4L1278 977.3L1278.6 977.1L1279.2 977.2L1279.8 977.9L1280.4 979L1281 979.7M1413.7 979.5L1414.3 978.3L1414.9 976.3L1415.5 974L1416.1 972.3L1416.7 972.1L1417.3 973.7L1417.9 976.2L1418.5 972.6L1419.1 968.8L1419.7 967.2L1420.3 967.6L1420.9 971.1L1421.5 975.2L1422.1 977.7L1422.7 979.4L1423.3 980.1M1481 980L1481.6 978.9L1482.2 977L1482.8 972.9L1483.4 967.7L1484 962.9L1484.6 962.4L1485.2 966.3L1485.8 970.8L1486.4 968.6L1487 963L1487.6 963.8L1488.2 965.6L1488.8 970.2L1489.4 975.6L1489.9 978.3L1490.5 979.3L1491.1 977.8L1491.7 975.9L1492.3 974.3L1492.9 974.2L1493.5 974.3L1494.1 976.6L1494.7 978.3L1495.3 979.4L1495.9 980.1M1500.1 979.6L1500.7 978.5L1501.3 976.5L1501.9 974.8L1502.5 973.7L1503 974.5L1503.6 976L1504.2 977.7L1504.8 979L1505.4 979.9M1507.8 979.6L1508.4 978L1509 974.8L1509.6 969.3L1510.2 962.6L1510.8 960.2L1511.4 958.4L1512 963.9L1512.6 970.7L1513.2 975.6L1513.8 972.7L1514.4 970.3L1515 969.5L1515.5 971L1516.1 973.8L1516.7 975.8L1517.3 973.5L1517.9 971.8L1518.5 972.3L1519.1 973.4L1519.7 976.1L1520.3 978.3L1520.9 979.6L1521.5 979.5L1522.1 978L1522.7 974.9L1523.3 970.1L1523.9 966.2L1524.5 964.5L1525.1 964.9L1525.7 969.6L1526.3 974.2L1526.9 975.3L1527.5 971.2L1528.1 967.7L1528.6 965L1529.2 967.1L1529.8 969.4L1530.4 974L1531 977.6L1531.6 979.2L1532.2 980.1M1537.6 980L1538.2 979.4L1538.8 978L1539.4 976.4L1540 974.5L1540.6 973.9L1541.2 974.5L1541.7 976L1542.3 978L1542.9 979.2L1543.5 980M1606.6 979.8L1607.2 978.3L1607.8 975.5L1608.4 970.6L1609 966L1609.6 964.2L1610.2 963.7L1610.8 967.9L1611.4 960.7L1612 952.7L1612.6 952.4L1613.2 958.5L1613.8 966.6L1614.4 967.2L1615 964.3L1615.6 963.6L1616.2 967.3L1616.8 961L1617.4 950.1L1618 940.4L1618.6 942.8L1619.1 947.3L1619.7 959.6L1620.3 970L1620.9 975L1621.5 970.1L1622.1 964.7L1622.7 961.1L1623.3 962.7L1623.9 966L1624.5 972L1625.1 976.3L1625.7 978.9L1626.3 979.9M1633.4 979.7L1634 978.3L1634.6 975.9L1635.2 971.6L1635.8 969.2L1636.4 968L1637 968.8L1637.6 961.3L1638.2 950.2L1638.8 945.4L1639.4 949L1640 953.8L1640.6 936.6L1641.2 926.1L1641.8 922.8L1642.4 936.9L1643 950.9L1643.6 946L1644.2 946.8L1644.8 951.7L1645.3 960.1L1645.9 964.2L1646.5 961.2L1647.1 957.5L1647.7 961.4L1648.3 967.9L1648.9 972.2L1649.5 962.6L1650.1 950.6L1650.7 943.2L1651.3 939.7L1651.9 942.6L1652.5 956.4L1653.1 966L1653.7 972.5L1654.3 966.2L1654.9 961L1655.5 958.4L1656.1 961.7L1656.7 968L1657.3 972.9L1657.8 976.9L1658.4 976.5L1659 971.5L1659.6 964.7L1660.2 956.5L1660.8 955.2L1661.4 957L1662 961.9L1662.6 969.9L1663.2 975.7L1663.8 978.5L1664.4 976.5L1665 974.1L1665.6 972.1L1666.2 972.1L1666.8 973.2L1667.4 975.7L1668 978.1L1668.6 979.4L1669.2 980.1M1671.5 979.9L1672.1 979.2L1672.7 977.9L1673.3 976.2L1673.9 974.3L1674.5 974.1L1675.1 975L1675.7 976.7L1676.3 978.3L1676.9 979.5M1678.1 979.5L1678.7 978.1L1679.3 976.1L1679.9 974L1680.5 972.1L1681.1 972.2L1681.7 974.1L1682.3 976.3L1682.9 978.3L1683.5 979.6M1691.2 979.7L1691.8 978.1L1692.4 974L1693 966.5L1693.6 958.1L1694.2 947.8L1694.8 947.3L1695.4 952.2L1696 959.6L1696.6 961.1L1697.1 941.7L1697.7 926.8L1698.3 915.3L1698.9 916.3L1699.5 934.3L1700.1 953.4L1700.7 948.4L1701.3 937.4L1701.9 933.5L1702.5 938.5L1703.1 950.7L1703.7 950.3L1704.3 945.2L1704.9 950.2L1705.5 955.3L1706.1 947.2L1706.7 939L1707.3 940.4L1707.9 947.4L1708.5 961.8L1709.1 970.5L1709.6 976.2L1710.2 973.3L1710.8 969.2L1711.4 966.9L1712 967.8L1712.6 967.8L1713.2 960L1713.8 956.5L1714.4 955.6L1715 959.7L1715.6 957.5L1716.2 947.8L1716.8 948.4L1717.4 954.5L1718 961.3L1718.6 970.9L1719.2 976.3L1719.8 979L1720.4 979.1L1721 977.3L1721.6 974.6L1722.2 971.2L1722.7 970.3L1723.3 970.2L1723.9 972.3L1724.5 975.4L1725.1 977.9L1725.7 979.5L1726.3 980.1M1734.7 980L1735.3 979.1L1735.8 977.5L1736.4 975L1737 973.2L1737.6 971.8L1738.2 972.5L1738.8 974.8L1739.4 972.5L1740 966.7L1740.6 963.1L1741.2 961L1741.8 964.9L1742.4 969.2L1743 974.2L1743.6 977.6L1744.2 979.2L1744.8 978.1L1745.4 977.1L1746 975.9L1746.6 976.3L1747.2 977.1L1747.8 978.4L1748.4 979.5L1748.9 980M1753.1 979.9L1753.7 978.8L1754.3 976.2L1754.9 970L1755.5 963.3L1756.1 955.8L1756.7 953L1757.3 954L1757.9 962.5L1758.5 957.7L1759.1 950.6L1759.7 953.6L1760.3 959L1760.9 967.6L1761.4 974.1L1762 978.1L1762.6 979.7M1778.1 979.5L1778.7 977.7L1779.3 974.4L1779.9 968.8L1780.5 963.5L1781.1 960.4L1781.7 963.4L1782.3 967.4L1782.9 972.7L1783.5 976.5L1784.1 979L1784.7 978.5L1785.3 977.3L1785.9 976.5L1786.5 976.1L1787.1 976.9L1787.6 977.8L1788.2 974L1788.8 966.8L1789.4 956.6L1790 947.5L1790.6 947.7L1791.2 951.7L1791.8 961.1L1792.4 969.2L1793 975.1L1793.6 971.2L1794.2 967.9L1794.8 967.4L1795.4 969.7L1796 972.4L1796.6 975.9L1797.2 978.6L1797.8 979.7M1800.7 979.6L1801.3 978.7L1801.9 977.2L1802.5 975.6L1803.1 975.3L1803.7 975.5L1804.3 977.2L1804.9 978.5L1805.5 979.4L1806.1 980M1851.9 979.9L1852.5 979.2L1853.1 978L1853.7 976.5L1854.3 975.1L1854.9 975.2L1855.5 976.3L1856.1 977.8L1856.7 979L1857.3 979.8M1863.3 979.9L1863.9 979L1864.5 976.8L1865 972.9L1865.6 970L1866.2 967.4L1866.8 966.7L1867.4 970.5L1868 974.1L1868.6 977.1L1869.2 979L1869.8 980M1884.7 980.1L1885.3 979.4L1885.9 978.3L1886.5 976.9L1887.1 975.3L1887.7 975.1L1888.3 976.1L1888.9 977.4L1889.5 978.7L1890.1 979.6M1931.1 979.9L1931.7 979.2L1932.3 977.9L1932.9 976.2L1933.5 974.3L1934.1 974.3L1934.7 974.8L1935.3 976.6L1935.9 978.3L1936.5 979.4L1937.1 980M1974 979.6L1974.6 978.7L1975.2 977.5L1975.8 976.3L1976.4 976L1977 976.8L1977.6 977.8L1978.2 979.1L1978.8 979.8"/>
<path d="M221.7 1076.6L222.3 1076.1L222.9 1074.6L223.5 1070.4L224.1 1063.2L224.7 1052.1L225.3 1040.1L225.9 1029.9L226.5 1033.2L227.1 1045.4L227.7 1058.4L228.3 1068.5L228.9 1073.7L229.5 1075.8L230.1 1076.5M240.2 1076.6L240.8 1076.1L241.4 1074.7L242 1071.1L242.6 1065L243.2 1055.5L243.8 1045.9L244.4 1044.3L245 1047.1L245.6 1055.1L246.2 1065.1L246.8 1071.1L247.3 1072.1L247.9 1070.1L248.5 1068.5L249.1 1069.8L249.7 1071.3L250.3 1073.7L250.9 1075.3L251.5 1076.1L252.1 1076.6M346.8 1076.5L347.4 1075.9L348 1074.2L348.6 1070.8L349.2 1066.2L349.8 1059.9L350.4 1057L350.9 1057.6L351.5 1063.4L352.1 1068.7L352.7 1072.8L353.3 1075.1L353.9 1076.2M408.1 1076.3L408.7 1075.3L409.3 1073.2L409.9 1069.3L410.5 1064.3L411.1 1061.5L411.7 1059.3L412.3 1062.1L412.9 1067.4L413.5 1071.6L414.1 1074.5L414.7 1076L415.2 1076.5M434.9 1076.3L435.5 1075.6L436.1 1074.3L436.7 1072.3L437.3 1070.3L437.9 1069.1L438.5 1069.2L439.1 1071.7L439.7 1073.8L440.3 1075.2L440.9 1076.2M442 1076.3L442.6 1075.3L443.2 1072.7L443.8 1067.7L444.4 1060L445 1053.6L445.6 1051.2L446.2 1054.5L446.8 1059.9L447.4 1044.9L448 1023.1L448.6 1006.8L449.2 1001.1L449.8 1012.3L450.4 1035L451 1055.3L451.6 1067.6L452.2 1073.6L452.8 1075.8L453.4 1076.5M484.9 1076.6L485.5 1076.1L486.1 1074.6L486.7 1071.2L487.3 1063.8L487.9 1055.3L488.5 1044.2L489.1 1040.4L489.7 1042.2L490.3 1051.7L490.9 1063.1L491.5 1070.2L492.1 1074.4L492.7 1074L493.2 1071.1L493.8 1068.3L494.4 1067.1L495 1067.1L495.6 1069.3L496.2 1072L496.8 1074.4L497.4 1075.7L498 1076.4M529 1076.4L529.6 1075.3L530.2 1071.9L530.8 1064.6L531.4 1048.8L531.9 1031.2L532.5 1012.1L533.1 1010.1L533.7 1020.4L534.3 1039L534.9 1055.3L535.5 1053.7L536.1 1050L536.7 1054.2L537.3 1060.5L537.9 1068.3L538.5 1073L539.1 1075.4L539.7 1076.3M540.9 1076.3L541.5 1074.9L542.1 1072L542.7 1065.5L543.3 1056.3L543.9 1046.3L544.5 1043L545 1041.8L545.6 1053.1L546.2 1062.5L546.8 1063.5L547.4 1059.2L548 1057.4L548.6 1057.6L549.2 1063.7L549.8 1069.9L550.4 1073.6L551 1075.6L551.6 1076.4L552.2 1076.3L552.8 1075.4L553.4 1073.4L554 1069.7L554.6 1065.2L555.2 1061.3L555.8 1059.9L556.4 1062.2L557 1067.2L557.6 1071.2L558.1 1074.3L558.7 1074.8L559.3 1072.8L559.9 1070.3L560.5 1069.1L561.1 1069.1L561.7 1070.9L562.3 1073.3L562.9 1075L563.5 1076L564.1 1076.5M568.9 1076.4L569.5 1075.9L570.1 1074.7L570.6 1072L571.2 1069L571.8 1067.3L572.4 1065.9L573 1067.9L573.6 1070.9L574.2 1073.6L574.8 1075.4L575.4 1076.3M584.3 1076.5L584.9 1076L585.5 1074.2L586.1 1070.4L586.7 1061.9L587.3 1052.1L587.9 1044L588.5 1038.2L589.1 1044.5L589.7 1052.8L590.3 1062.6L590.9 1070.6L591.5 1071.8L592.1 1070.1L592.7 1068.9L593.3 1069.7L593.9 1071.3L594.5 1073.6L595.1 1075.4L595.7 1076.2M607.6 1076.2L608.2 1075.1L608.8 1073.2L609.4 1070.2L609.9 1066.6L610.5 1065.7L611.1 1065.7L611.7 1068.4L612.3 1072.1L612.9 1074.3L613.5 1075.8L614.1 1076.4M617.7 1076.2L618.3 1074.9L618.9 1071.3L619.5 1064.4L620.1 1055.2L620.7 1045.4L621.3 1039.8L621.9 1044.5L622.4 1053.6L623 1063.8L623.6 1070.2L624.2 1074.5L624.8 1076L625.4 1076.5M664.1 1076.5L664.7 1075.7L665.3 1073.2L665.9 1066.9L666.5 1054.6L667.1 1038.8L667.7 1024.4L668.3 1020.4L668.9 1031.6L669.5 1043.9L670.1 1057.3L670.7 1068.2L671.3 1073.9L671.9 1075.9L672.5 1076.5M686.8 1076.5L687.3 1075.9L687.9 1074L688.5 1069.4L689.1 1059.4L689.7 1050.2L690.3 1038.1L690.9 1037.5L691.5 1040.7L692.1 1051.4L692.7 1063.9L693.3 1070.8L693.9 1074.8L694.5 1076.1L695.1 1076.6M731.4 1076.4L732 1075.6L732.6 1074L733.2 1071.7L733.8 1068.3L734.4 1066L735 1065.6L735.6 1067.7L736.2 1070.3L736.8 1072.9L737.4 1075L738 1076.1L738.6 1076.5M741.5 1076.4L742.1 1076L742.7 1075.4L743.3 1074.6L743.9 1074.2L744.5 1074.1L745.1 1074.8L745.7 1075.6L746.3 1076.1L746.9 1076.5M760.6 1076.2L761.2 1075.2L761.8 1072.4L762.4 1068L763 1062.3L763.6 1059.1L764.2 1057.1L764.7 1061.4L765.3 1065.8L765.9 1071.5L766.5 1074.5L767.1 1075.7L767.7 1073.9L768.3 1069.5L768.9 1062.2L769.5 1055.8L770.1 1050.1L770.7 1050.6L771.3 1056.7L771.9 1064.2L772.5 1070.3L773.1 1070.5L773.7 1067.4L774.3 1063.6L774.9 1064.8L775.5 1066.3L776.1 1070.3L776.7 1073.4L777.3 1075.2L777.8 1076.2M781.4 1076.4L782 1075.6L782.6 1072.9L783.2 1068.2L783.8 1060L784.4 1050L785 1042.2L785.6 1042.2L786.2 1049.7L786.8 1057.9L787.4 1048L788 1041.3L788.6 1037.5L789.2 1047.9L789.8 1057.4L790.4 1066.7L790.9 1073.1L791.5 1075.4L792.1 1076.4M798.7 1076.2L799.3 1075L799.9 1072L800.5 1065.3L801.1 1056.3L801.7 1046.9L802.3 1040.5L802.9 1044.5L803.5 1052.5L804 1063.7L804.6 1070.5L805.2 1074.2L805.8 1075.9L806.4 1076.5M874.9 1076.5L875.5 1076L876.1 1075L876.7 1073.4L877.3 1070.9L877.9 1069L878.5 1069.3L879.1 1070.1L879.7 1072.5L880.3 1074.6L880.9 1075.8L881.4 1076.4M895.1 1076.4L895.7 1075.4L896.3 1072.4L896.9 1064.8L897.5 1054.2L898.1 1039.6L898.7 1022.1L899.3 1023.2L899.9 1029L900.5 1047L901.1 1059.7L901.7 1069.6L902.3 1074.5L902.9 1076.1L903.5 1076.6M930.9 1076.3L931.5 1075.4L932.1 1072.6L932.7 1068.3L933.2 1060.3L933.8 1051.6L934.4 1047L935 1050.8L935.6 1056.6L936.2 1064.9L936.8 1071.6L937.4 1074.6L938 1076.1L938.6 1076.5M961.8 1076.5L962.4 1076.1L963 1075.1L963.6 1073.5L964.2 1071.2L964.8 1069.3L965.4 1068.7L966 1070.2L966.6 1072.6L967.2 1074.4L967.8 1075.7L968.4 1075.8L969 1073.9L969.6 1070.1L970.2 1063.5L970.8 1056.7L971.4 1051.8L971.9 1051.5L972.5 1056L973.1 1063.9L973.7 1069.8L974.3 1074.1L974.9 1075.8L975.5 1076.5M989.8 1076.5L990.4 1076L991 1074.8L991.6 1072.6L992.2 1069.4L992.8 1066.1L993.4 1065.1L994 1066.4L994.6 1069.1L995.2 1072.4L995.8 1074.7L996.4 1076L997 1076.5M1017.2 1076.4L1017.8 1075.7L1018.4 1073.5L1019 1068.7L1019.6 1059.5L1020.2 1050.8L1020.8 1045.4L1021.4 1043.6L1022 1050.9L1022.6 1058.1L1023.2 1067.6L1023.7 1073L1024.3 1075.5L1024.9 1076.4L1025.5 1076.1L1026.1 1075.1L1026.7 1073.3L1027.3 1071.4L1027.9 1069.1L1028.5 1068.9L1029.1 1070.4L1029.7 1072.1L1030.3 1074.5L1030.9 1075.7L1031.5 1074.9L1032.1 1071.6L1032.7 1063.6L1033.3 1051.2L1033.9 1034.5L1034.5 1027.7L1035.1 1029L1035.7 1035.6L1036.3 1050.8L1036.8 1064.7L1037.4 1071.9L1038 1075.1L1038.6 1076.3M1045.2 1076.3L1045.8 1075.3L1046.4 1072.9L1047 1068L1047.6 1060.8L1048.2 1052.7L1048.8 1050.6L1049.4 1052.8L1049.9 1059.4L1050.5 1066.6L1051.1 1070.5L1051.7 1066.6L1052.3 1064.7L1052.9 1063.7L1053.5 1066.3L1054.1 1069.9L1054.7 1073.3L1055.3 1075.4L1055.9 1076.2M1062.4 1076.5L1063 1075.9L1063.6 1073.7L1064.2 1067.7L1064.8 1056.4L1065.4 1040.3L1066 1017.5L1066.6 1009.4L1067.2 1013.3L1067.8 1032.9L1068.4 1050.7L1069 1063.8L1069.6 1071.8L1070.2 1075.3L1070.8 1076.3M1073.8 1076.3L1074.4 1075.2L1075 1072.4L1075.5 1067L1076.1 1060L1076.7 1051.6L1077.3 1047.2L1077.9 1050.5L1078.5 1058.5L1079.1 1065.4L1079.7 1071.5L1080.3 1074.8L1080.9 1076.2M1083.3 1076.4L1083.9 1075.4L1084.5 1072.9L1085.1 1066.4L1085.7 1055.7L1086.3 1046.3L1086.9 1033.8L1087.5 1037L1088.1 1044.9L1088.6 1054.9L1089.2 1053.3L1089.8 1047.9L1090.4 1047.1L1091 1052.1L1091.6 1059.8L1092.2 1068.3L1092.8 1073.5L1093.4 1075.6L1094 1076.4M1095.8 1076.3L1096.4 1075.2L1097 1072.2L1097.6 1066.2L1098.2 1054.4L1098.8 1044.5L1099.4 1037.9L1100 1036.5L1100.6 1046.1L1101.2 1052.4L1101.7 1032.9L1102.3 1013.1L1102.9 1001.2L1103.5 1005.8L1104.1 1029.2L1104.7 1039.6L1105.3 1037.9L1105.9 1043.3L1106.5 1056.1L1107.1 1065.6L1107.7 1072L1108.3 1070.8L1108.9 1063.9L1109.5 1053.8L1110.1 1046.4L1110.7 1041.3L1111.3 1044.7L1111.9 1055.3L1112.5 1064.4L1113.1 1070.8L1113.7 1074.5L1114.2 1072.5L1114.8 1067.2L1115.4 1060.4L1116 1053.8L1116.6 1050.3L1117.2 1053.1L1117.8 1060.7L1118.4 1067.9L1119 1072.6L1119.6 1075.2L1120.2 1076.3M1125.6 1076.5L1126.2 1076.1L1126.8 1074.7L1127.3 1071.8L1127.9 1066.7L1128.5 1062.2L1129.1 1057L1129.7 1057.6L1130.3 1061.2L1130.9 1067.6L1131.5 1072L1132.1 1074.9L1132.7 1076.1L1133.3 1076.5M1136.9 1076.3L1137.5 1075.2L1138.1 1072.9L1138.7 1068.3L1139.3 1060.1L1139.9 1052.4L1140.4 1050.1L1141 1050.9L1141.6 1058.6L1142.2 1066.2L1142.8 1071.9L1143.4 1074.2L1144 1070.9L1144.6 1068L1145.2 1064L1145.8 1064.4L1146.4 1066L1147 1069.6L1147.6 1072.8L1148.2 1075.2L1148.8 1076.2M1153 1076.6L1153.5 1076L1154.1 1074.5L1154.7 1070.7L1155.3 1062.4L1155.9 1051.3L1156.5 1043.3L1157.1 1034.8L1157.7 1042.4L1158.3 1050.6L1158.9 1061.1L1159.5 1068.3L1160.1 1056.3L1160.7 1042.5L1161.3 1029.6L1161.9 1024.6L1162.5 1032.9L1163.1 1043.8L1163.7 1059.6L1164.3 1053.7L1164.9 1051.2L1165.5 1055.5L1166 1060.5L1166.6 1066.8L1167.2 1062.8L1167.8 1061L1168.4 1063.4L1169 1066.9L1169.6 1071.4L1170.2 1074.2L1170.8 1075.9L1171.4 1076.4L1172 1075.5L1172.6 1072.8L1173.2 1066.3L1173.8 1055.1L1174.4 1039.9L1175 1026.6L1175.6 1018.7L1176.2 1027.7L1176.8 1044.5L1177.4 1059.3L1178 1069.3L1178.6 1074.1L1179.1 1075.9L1179.7 1076.5M1182.7 1076.3L1183.3 1075.5L1183.9 1073.6L1184.5 1070.1L1185.1 1066.4L1185.7 1062.1L1186.3 1062.3L1186.9 1063.7L1187.5 1068.5L1188.1 1063.9L1188.7 1049.1L1189.3 1031.3L1189.9 1007.7L1190.5 1001.9L1191.1 1014.8L1191.7 1032.1L1192.2 1052.8L1192.8 1065.5L1193.4 1061.7L1194 1054.5L1194.6 1051.4L1195.2 1052.2L1195.8 1059.5L1196.4 1062.1L1197 1052.4L1197.6 1041.2L1198.2 1039.9L1198.8 1045.9L1199.4 1054.7L1200 1065.1L1200.6 1072L1201.2 1071.6L1201.8 1067.1L1202.4 1061.5L1203 1060.2L1203.6 1059.1L1204.2 1063.4L1204.8 1068L1205.3 1072.6L1205.9 1075L1206.5 1072.8L1207.1 1070.2L1207.7 1067.3L1208.3 1067.1L1208.9 1067.1L1209.5 1070.2L1210.1 1073.2L1210.7 1075L1211.3 1076.1L1211.9 1076.5M1254.8 1076.3L1255.4 1075.9L1256 1075.1L1256.5 1074.3L1257.1 1073.6L1257.7 1073.8L1258.3 1074.5L1258.9 1075.3L1259.5 1076.1L1260.1 1076.4M1273.8 1076.5L1274.4 1076L1275 1074.5L1275.6 1070.8L1276.2 1064.3L1276.8 1056.8L1277.4 1051.8L1278 1047.5L1278.6 1053.4L1279.2 1060L1279.8 1068.2L1280.4 1073.1L1281 1075.4L1281.6 1073.8L1282.2 1069.6L1282.7 1063.5L1283.3 1056.4L1283.9 1050.6L1284.5 1049.5L1285.1 1055L1285.7 1063L1286.3 1070.2L1286.9 1073.9L1287.5 1075.8L1288.1 1076.5M1312.5 1076.4L1313.1 1075.7L1313.7 1073.8L1314.3 1069.6L1314.9 1064.4L1315.5 1057.4L1316.1 1054.6L1316.7 1057.1L1317.3 1061.4L1317.9 1063.3L1318.5 1052.9L1319.1 1044.7L1319.7 1042.5L1320.3 1044.2L1320.9 1054.1L1321.4 1064.2L1322 1071.2L1322.6 1074.8L1323.2 1076.2M1331.6 1076.3L1332.2 1075.4L1332.8 1072.4L1333.4 1066L1334 1055.9L1334.5 1045.7L1335.1 1037.6L1335.7 1037L1336.3 1047L1336.9 1057.6L1337.5 1066L1338.1 1064.8L1338.7 1063.8L1339.3 1066.8L1339.9 1070.8L1340.5 1073.6L1341.1 1074.4L1341.7 1072.9L1342.3 1071.6L1342.9 1071.5L1343.5 1072.7L1344.1 1073.9L1344.7 1075.3L1345.3 1076.1L1345.9 1076.5M1381.6 1076.5L1382.2 1076L1382.8 1074L1383.4 1069.9L1384 1060.8L1384.6 1048.7L1385.2 1037.8L1385.8 1037.6L1386.3 1039L1386.9 1050.5L1387.5 1061.9L1388.1 1070.7L1388.7 1074.5L1389.3 1076.1L1389.9 1076.5M1409.6 1076.5L1410.2 1076.1L1410.8 1075.1L1411.4 1073.6L1411.9 1071.6L1412.5 1069.8L1413.1 1069.2L1413.7 1070.5L1414.3 1072.4L1414.9 1074.3L1415.5 1075.7L1416.1 1076.3M1506.6 1076.5L1507.2 1075.9L1507.8 1074.3L1508.4 1070.4L1509 1062.4L1509.6 1055L1510.2 1046.8L1510.8 1044.4L1511.4 1051.3L1512 1059.6L1512.6 1067.9L1513.2 1072.8L1513.8 1075.5L1514.4 1076.3M1528.1 1076.4L1528.6 1075.5L1529.2 1073.3L1529.8 1069.3L1530.4 1061.6L1531 1055.5L1531.6 1053.3L1532.2 1055.4L1532.8 1059.2L1533.4 1067.3L1534 1060.9L1534.6 1055.5L1535.2 1053.8L1535.8 1057.1L1536.4 1062.7L1537 1069.3L1537.6 1073.3L1538.2 1073.2L1538.8 1069.7L1539.4 1066.6L1540 1063.5L1540.6 1065.2L1541.2 1067.8L1541.7 1070.9L1542.3 1073.9L1542.9 1075.7L1543.5 1076.4M1607.8 1076.3L1608.4 1075.5L1609 1073.8L1609.6 1071.2L1610.2 1067.9L1610.8 1066L1611.4 1065.3L1612 1067.4L1612.6 1071.3L1613.2 1074L1613.8 1075.5L1614.4 1076.4L1615 1076L1615.6 1074.4L1616.2 1071.2L1616.8 1066.2L1617.4 1058.8L1618 1055.3L1618.6 1055L1619.1 1060L1619.7 1066.3L1620.3 1071.4L1620.9 1074.4L1621.5 1076L1622.1 1076.5M1632.8 1076.5L1633.4 1076.1L1634 1075L1634.6 1073L1635.2 1070L1635.8 1067.7L1636.4 1066.3L1637 1067.7L1637.6 1070.4L1638.2 1073.1L1638.8 1073.9L1639.4 1069.6L1640 1062.5L1640.6 1052.7L1641.2 1048.5L1641.8 1049.1L1642.4 1052.8L1643 1062.1L1643.6 1055.5L1644.2 1049.8L1644.8 1049.6L1645.3 1054.4L1645.9 1054.8L1646.5 1046.7L1647.1 1046.4L1647.7 1052.4L1648.3 1060L1648.9 1067.8L1649.5 1072.7L1650.1 1075.4L1650.7 1076.3M1676.3 1076.5L1676.9 1076.1L1677.5 1075.2L1678.1 1073.8L1678.7 1072.7L1679.3 1071.4L1679.9 1071.8L1680.5 1073.1L1681.1 1074.4L1681.7 1075.6L1682.3 1076.3M1698.9 1076.4L1699.5 1075.8L1700.1 1074.7L1700.7 1073.5L1701.3 1071.7L1701.9 1071.9L1702.5 1072.4L1703.1 1073.5L1703.7 1075L1704.3 1075.9L1704.9 1076.4M1710.8 1076.2L1711.4 1075.3L1712 1074.1L1712.6 1072.4L1713.2 1070.3L1713.8 1070.5L1714.4 1071L1715 1072.9L1715.6 1074.8L1716.2 1075.9L1716.8 1076.3L1717.4 1075.5L1718 1073.5L1718.6 1070.7L1719.2 1067.6L1719.8 1066L1720.4 1065.5L1721 1067.5L1721.6 1071L1722.2 1074.1L1722.7 1075.7L1723.3 1076.4M1732.9 1076.3L1733.5 1075.8L1734.1 1074.9L1734.7 1073.7L1735.3 1073.2L1735.8 1072.8L1736.4 1073.6L1737 1074.5L1737.6 1075.6L1738.2 1076.3M1746 1076.4L1746.6 1075.9L1747.2 1074.9L1747.8 1073.1L1748.4 1071.6L1748.9 1070.5L1749.5 1071L1750.1 1071.9L1750.7 1073.8L1751.3 1075.3L1751.9 1076.1L1752.5 1076.5M1763.2 1076.3L1763.8 1075.7L1764.4 1074.2L1765 1072.2L1765.6 1069.4L1766.2 1067.8L1766.8 1068L1767.4 1069.6L1768 1072.5L1768.6 1074.7L1769.2 1075.8L1769.8 1076.4M1774 1076.2L1774.5 1075L1775.1 1070.8L1775.7 1063.3L1776.3 1048.7L1776.9 1030L1777.5 1018.1L1778.1 1021.4L1778.7 1028.9L1779.3 1047L1779.9 1047.3L1780.5 1036.2L1781.1 1029.3L1781.7 1033.4L1782.3 1042.5L1782.9 1056.9L1783.5 1065.3L1784.1 1064.1L1784.7 1065.3L1785.3 1067.6L1785.9 1071.6L1786.5 1074.3L1787.1 1075.8L1787.6 1076.4M1792.4 1076.3L1793 1075.3L1793.6 1073.6L1794.2 1070.4L1794.8 1067.8L1795.4 1065.6L1796 1066.2L1796.6 1065.8L1797.2 1054.9L1797.8 1035.6L1798.4 1022.6L1799 1009.8L1799.6 1023.6L1800.2 1037.2L1800.7 1054.6L1801.3 1064L1801.9 1053L1802.5 1042.7L1803.1 1036.9L1803.7 1043.8L1804.3 1050.1L1804.9 1062.6L1805.5 1069.9L1806.1 1072.1L1806.7 1070.4L1807.3 1069.3L1807.9 1070L1808.5 1071.6L1809.1 1073.7L1809.7 1074.9L1810.3 1071.5L1810.9 1063.1L1811.5 1051.2L1812.1 1035.7L1812.7 1028.9L1813.2 1029.7L1813.8 1039.4L1814.4 1053.6L1815 1066L1815.6 1072.4L1816.2 1074.6L1816.8 1073.3L1817.4 1072.2L1818 1071.7L1818.6 1072L1819.2 1073.7L1819.8 1075L1820.4 1076L1821 1076.4M1849.6 1076.4L1850.2 1075.6L1850.8 1072.6L1851.4 1064.4L1851.9 1049.6L1852.5 1024.5L1853.1 1006.6L1853.7 989.6L1854.3 996.6L1854.9 1019.3L1855.5 1044.2L1856.1 1040.5L1856.7 1029.3L1857.3 1027.4L1857.9 1034.2L1858.5 1047.8L1859.1 1061.2L1859.7 1069.2L1860.3 1073.3L1860.9 1068.5L1861.5 1059.6L1862.1 1046.9L1862.7 1037.3L1863.3 1032.6L1863.9 1038.7L1864.5 1053.7L1865 1063.6L1865.6 1066.3L1866.2 1058.4L1866.8 1053.3L1867.4 1052.4L1868 1053.2L1868.6 1061.4L1869.2 1068L1869.8 1073L1870.4 1075.5L1871 1076.4L1871.6 1075.3L1872.2 1071.9L1872.8 1065L1873.4 1052.1L1874 1040.7L1874.6 1029.3L1875.2 1025.6L1875.8 1037.9L1876.4 1049.7L1877 1063.4L1877.6 1070.5L1878.1 1074.8L1878.7 1076.2M1884.7 1076.3L1885.3 1075.1L1885.9 1071.7L1886.5 1065.5L1887.1 1054.3L1887.7 1043.9L1888.3 1035.2L1888.9 1039.2L1889.5 1046.1L1890.1 1060L1890.7 1068.2L1891.2 1070L1891.8 1069L1892.4 1070.2L1893 1071.9L1893.6 1074.1L1894.2 1075.4L1894.8 1076.2L1895.4 1075.2L1896 1072.7L1896.6 1068.9L1897.2 1063.9L1897.8 1060.4L1898.4 1058.4L1899 1062.7L1899.6 1067L1900.2 1064L1900.8 1058.7L1901.4 1058.1L1902 1062.1L1902.6 1067.2L1903.2 1071.7L1903.7 1074.6L1904.3 1076.1L1904.9 1076.5M1906.1 1076.5L1906.7 1076L1907.3 1074.5L1907.9 1071.5L1908.5 1067L1909.1 1060.4L1909.7 1055.7L1910.3 1057.3L1910.9 1060.2L1911.5 1066.3L1912.1 1071.4L1912.7 1074.6L1913.3 1076.1L1913.9 1076.5M1929.9 1076.4L1930.5 1075.6L1931.1 1072.7L1931.7 1066.3L1932.3 1055L1932.9 1040.7L1933.5 1023L1934.1 1018.2L1934.7 1027.4L1935.3 1041.2L1935.9 1056.7L1936.5 1068.7L1937.1 1069L1937.7 1065.4L1938.3 1064.2L1938.9 1065.1L1939.5 1068.2L1940.1 1072.2L1940.7 1074.6L1941.3 1076L1941.9 1076.5M1952 1076.6L1952.6 1076.1L1953.2 1074.1L1953.8 1069.2L1954.4 1058L1955 1038.9L1955.5 1022.8L1956.1 1010.6L1956.7 1005.6L1957.3 1021.8L1957.9 1044L1958.5 1057.6L1959.1 1051.5L1959.7 1052L1960.3 1057.6L1960.9 1065.3L1961.5 1070.5L1962.1 1074.2L1962.7 1072.7L1963.3 1068.2L1963.9 1063.3L1964.5 1060.6L1965.1 1058.8L1965.7 1062.1L1966.3 1066.9L1966.9 1071.4L1967.5 1074.6L1968.1 1076L1968.6 1076.5M1971 1076.5L1971.6 1075.9L1972.2 1074.3L1972.8 1070.7L1973.4 1064.3L1974 1056.9L1974.6 1048.6L1975.2 1048.5L1975.8 1054L1976.4 1062.3L1977 1069.1L1977.6 1065.8L1978.2 1064L1978.8 1064.8L1979.4 1067.5L1980 1070.9L1980.6 1073.8L1981.2 1075.6L1981.7 1076.4"/>
<path d="M245 1172.4L245.6 1171.8L246.2 1170.1L246.8 1166.7L247.3 1162.3L247.9 1157.2L248.5 1154L249.1 1155.2L249.7 1159.7L250.3 1165.1L250.9 1169.5L251.5 1171.5L252.1 1172.3M258.1 1172.2L258.7 1170.9L259.3 1168.3L259.9 1164.1L260.4 1158.8L261 1154.1L261.6 1153.7L262.2 1158.2L262.8 1162.4L263.4 1167.3L264 1170.6L264.6 1172L265.2 1172.5M293.2 1172.5L293.8 1171.9L294.4 1170L295 1165.1L295.6 1157.3L296.2 1145.9L296.8 1139.1L297.4 1136.4L298 1140.1L298.6 1151.3L299.1 1161.3L299.7 1167.6L300.3 1163.1L300.9 1157.5L301.5 1152L302.1 1152.3L302.7 1156.8L303.3 1162.1L303.9 1163.6L304.5 1162L305.1 1161.4L305.7 1163.3L306.3 1165.9L306.9 1169.5L307.5 1171.2L308.1 1172.2M317 1172.5L317.6 1171.8L318.2 1169.5L318.8 1163.8L319.4 1154.3L320 1141.4L320.6 1130.3L321.2 1125.3L321.8 1131.8L322.4 1144.9L323 1156.3L323.6 1165.5L324.2 1170.2L324.7 1172L325.3 1172.6M326.5 1172.3L327.1 1171.2L327.7 1167.6L328.3 1160.2L328.9 1146.2L329.5 1133.7L330.1 1123.2L330.7 1119.3L331.3 1129.2L331.9 1142.7L332.5 1157.8L333.1 1165.9L333.7 1162.3L334.3 1158.7L334.9 1158.7L335.5 1159.6L336.1 1163.8L336.7 1167.8L337.3 1170.8L337.8 1172L338.4 1172.5M339.6 1172.1L340.2 1170.4L340.8 1166.8L341.4 1159.3L342 1148L342.6 1136.1L343.2 1131.7L343.8 1135L344.4 1145.3L345 1155.2L345.6 1165.1L346.2 1163.3L346.8 1157.8L347.4 1154.4L348 1156.8L348.6 1160L349.2 1165L349.8 1169.2L350.4 1171.3L350.9 1172L351.5 1170.9L352.1 1168.6L352.7 1165.1L353.3 1162.5L353.9 1161.5L354.5 1161.7L355.1 1165.4L355.7 1168.5L356.3 1170.7L356.9 1172L357.5 1172.5M359.9 1172.4L360.5 1171.6L361.1 1169.7L361.7 1165.5L362.3 1157L362.9 1148.3L363.4 1142.5L364 1143.3L364.6 1146.9L365.2 1157.5L365.8 1164.6L366.4 1167.2L367 1159.3L367.6 1150.1L368.2 1138.1L368.8 1134L369.4 1134.5L370 1145.4L370.6 1157.1L371.2 1165.5L371.8 1170L372.4 1171.9L373 1172.5L373.6 1172.1L374.2 1170.5L374.8 1165.9L375.4 1155.7L376 1141.2L376.5 1122.3L377.1 1109.7L377.7 1109.3L378.3 1120.6L378.9 1143.4L379.5 1156.2L380.1 1148.4L380.7 1144L381.3 1146.6L381.9 1153.8L382.5 1161.6L383.1 1167.4L383.7 1170.5L384.3 1172.1M407.5 1172.5L408.1 1171.8L408.7 1169.9L409.3 1165.1L409.9 1157.8L410.5 1146.8L411.1 1140.4L411.7 1140.4L412.3 1145.1L412.9 1153.9L413.5 1161.9L414.1 1168.6L414.7 1171.2L415.2 1172.3M418.2 1172.5L418.8 1172L419.4 1170.6L420 1167L420.6 1161.1L421.2 1153.6L421.8 1149.3L422.4 1148.4L423 1152.5L423.6 1159.7L424.2 1165.8L424.8 1169.9L425.4 1171.8L426 1172.4L426.6 1172.4L427.2 1171.6L427.8 1168.8L428.3 1162.2L428.9 1150.8L429.5 1134.9L430.1 1119.2L430.7 1114.2L431.3 1116.1L431.9 1133.4L432.5 1126.9L433.1 1110.1L433.7 1102.9L434.3 1110.6L434.9 1129.3L435.5 1150.1L436.1 1154.9L436.7 1142L437.3 1126L437.9 1120.3L438.5 1124L439.1 1136.6L439.7 1152.5L440.3 1162.9L440.9 1159.2L441.4 1157.5L442 1159.3L442.6 1163.8L443.2 1167.8L443.8 1170.4L444.4 1167.5L445 1161.3L445.6 1155.9L446.2 1151.3L446.8 1151.9L447.4 1157.2L448 1163.1L448.6 1167.5L449.2 1170.7L449.8 1172.1M524.2 1172.4L524.8 1171.7L525.4 1170.3L526 1168.1L526.6 1164.8L527.2 1163.3L527.8 1163.2L528.4 1165.3L529 1167.6L529.6 1170L530.2 1171.7L530.8 1171.6L531.4 1170.5L531.9 1168.8L532.5 1167.3L533.1 1167.1L533.7 1167.9L534.3 1169.3L534.9 1170.7L535.5 1171.8L536.1 1172.4M587.9 1172.1L588.5 1171.3L589.1 1169.8L589.7 1168.2L590.3 1167.1L590.9 1166.7L591.5 1167.9L592.1 1169.9L592.7 1171.1L593.3 1172.1M595.7 1172.5L596.3 1171.9L596.8 1170.5L597.4 1167.9L598 1164.7L598.6 1162.2L599.2 1160.2L599.8 1162.1L600.4 1165.5L601 1168.9L601.6 1171L602.2 1172.1M617.7 1172.4L618.3 1171.9L618.9 1171.1L619.5 1170L620.1 1169.5L620.7 1169.1L621.3 1169.6L621.9 1170.7L622.4 1171.7L623 1172.3M664.7 1172.2L665.3 1170.9L665.9 1167.7L666.5 1162.2L667.1 1154.3L667.7 1148.7L668.3 1145.6L668.9 1149.1L669.5 1156.1L670.1 1157.2L670.7 1156L671.3 1157.2L671.9 1160.1L672.5 1165.4L673.1 1169.4L673.7 1171.4L674.2 1172.3M692.1 1172.2L692.7 1171.3L693.3 1169.5L693.9 1167.3L694.5 1165.2L695.1 1163.4L695.7 1165L696.3 1167L696.9 1169.6L697.5 1171.3L698.1 1172.2M701.6 1172.5L702.2 1171.8L702.8 1169.6L703.4 1165.3L704 1157.5L704.6 1147.6L705.2 1141L705.8 1141.7L706.4 1146.5L707 1156L707.6 1165L708.2 1169.4L708.8 1171.6L709.4 1172.3L710 1171.5L710.6 1169.6L711.2 1166.8L711.8 1161.8L712.4 1159.6L712.9 1158.1L713.5 1160.9L714.1 1164.5L714.7 1168.6L715.3 1170.9L715.9 1172.1L716.5 1172.5L717.1 1171.7L717.7 1169.5L718.3 1164.5L718.9 1156.8L719.5 1146.2L720.1 1139.1L720.7 1139.9L721.3 1145L721.9 1155L722.5 1163.3L723.1 1168.5L723.7 1171.3L724.3 1172.4M727.8 1172.1L728.4 1171L729 1168.5L729.6 1163.9L730.2 1159.1L730.8 1155.4L731.4 1155.2L732 1158.4L732.6 1163.5L733.2 1168.2L733.8 1170.8L734.4 1172.1M737.4 1172.2L738 1171.2L738.6 1169.1L739.1 1166.6L739.7 1162.9L740.3 1161L740.9 1161.2L741.5 1164.4L742.1 1167.5L742.7 1170.2L743.3 1171.8L743.9 1172.2L744.5 1171.4L745.1 1169.8L745.7 1167.4L746.3 1164.5L746.9 1164L747.5 1164.5L748.1 1166.9L748.7 1169.4L749.3 1171.2L749.9 1172.2M752.8 1172.5L753.4 1172L754 1170.4L754.6 1166.7L755.2 1161.6L755.8 1154.3L756.4 1149.7L757 1151.1L757.6 1155.1L758.2 1160.5L758.8 1167.2L759.4 1170.3L760 1171.9L760.6 1172.5M763.6 1172.2L764.2 1170.9L764.7 1167L765.3 1158.9L765.9 1144.9L766.5 1130.3L767.1 1119.2L767.7 1124.8L768.3 1132L768.9 1147.6L769.5 1160.6L770.1 1159.7L770.7 1141.1L771.3 1121.4L771.9 1096.2L772.5 1088L773.1 1097.4L773.7 1122.6L774.3 1144.3L774.9 1158.5L775.5 1149.8L776.1 1138.1L776.7 1132.5L777.3 1137.7L777.8 1146.2L778.4 1156.8L779 1165L779.6 1169.9L780.2 1171.9L780.8 1172.3L781.4 1171.2L782 1168.7L782.6 1164.1L783.2 1155.8L783.8 1149.1L784.4 1147.6L785 1147.9L785.6 1156.7L786.2 1162.9L786.8 1168.3L787.4 1171L788 1172.2M791.5 1172.1L792.1 1170.7L792.7 1167L793.3 1160.2L793.9 1151.4L794.5 1142.6L795.1 1140.7L795.7 1143L796.3 1151.6L796.9 1161.6L797.5 1167.6L798.1 1170.9L798.7 1172.2M817.7 1172.4L818.3 1171.4L818.9 1168.6L819.5 1162.4L820.1 1153.4L820.7 1145.8L821.3 1139.8L821.9 1138.7L822.5 1141.1L823.1 1124.8L823.7 1106.8L824.3 1109L824.9 1117.3L825.5 1135.1L826.1 1152.3L826.7 1149.7L827.3 1148.9L827.9 1152.8L828.5 1160.3L829.1 1166.2L829.6 1169.9L830.2 1171.7L830.8 1172.4M842.7 1172.4L843.3 1171.8L843.9 1170.5L844.5 1168.6L845.1 1166.8L845.7 1165.5L846.3 1166L846.9 1167.7L847.5 1169.8L848.1 1171.3L848.7 1172.2M862.4 1172.4L863 1171.5L863.6 1168.5L864.2 1162.7L864.8 1152L865.4 1140.5L866 1130.7L866.6 1128.6L867.2 1140.2L867.8 1150.5L868.3 1160.8L868.9 1168L869.5 1171.2L870.1 1172.3M882.6 1172.2L883.2 1170.9L883.8 1167.5L884.4 1159.8L885 1148.9L885.6 1136.7L886.2 1133.4L886.8 1135L887.4 1144.2L888 1152.6L888.6 1140.5L889.2 1128.1L889.8 1121.3L890.4 1128.5L891 1141.7L891.6 1150.5L892.2 1140.3L892.8 1137.6L893.4 1142.8L894 1149.3L894.5 1160.6L895.1 1166.9L895.7 1170.7L896.3 1172.1M900.5 1172.4L901.1 1171.6L901.7 1168.2L902.3 1160.6L902.9 1145.8L903.5 1124.3L904.1 1109.9L904.7 1100.3L905.3 1105L905.9 1121L906.5 1119.1L907.1 1116.5L907.6 1127.5L908.2 1140.9L908.8 1156.2L909.4 1165.9L910 1170.5L910.6 1172.1M965.4 1172.3L966 1171.3L966.6 1169.3L967.2 1165.8L967.8 1162.9L968.4 1159.2L969 1159.7L969.6 1161.9L970.2 1166.3L970.8 1169.4L971.4 1165.6L971.9 1162L972.5 1158.6L973.1 1158.6L973.7 1160.9L974.3 1164.7L974.9 1168.7L975.5 1171L976.1 1172.2M978.5 1172.5L979.1 1171.9L979.7 1170.5L980.3 1166.8L980.9 1162.4L981.5 1155.4L982.1 1151.9L982.7 1153.4L983.3 1156.7L983.9 1163L984.5 1168L985 1170.7L985.6 1172.1M993.4 1172.5L994 1171.8L994.6 1170L995.2 1166L995.8 1160L996.4 1151.4L997 1148.9L997.6 1147.1L998.1 1154L998.7 1159.8L999.3 1166.2L999.9 1170.3L1000.5 1171.9L1001.1 1172.5L1001.7 1172.1L1002.3 1170.7L1002.9 1167L1003.5 1160L1004.1 1147.6L1004.7 1137.9L1005.3 1136.4L1005.9 1139.3L1006.5 1146.3L1007.1 1159L1007.7 1166.3L1008.3 1170.2L1008.9 1172L1009.5 1172.5M1012.4 1172.3L1013 1171.6L1013.6 1169.9L1014.2 1167.8L1014.8 1165.1L1015.4 1164.4L1016 1164.1L1016.6 1166.8L1017.2 1168.9L1017.8 1170.2L1018.4 1168.1L1019 1165.5L1019.6 1163.7L1020.2 1164.3L1020.8 1166.1L1021.4 1168.6L1022 1170.7L1022.6 1171.8L1023.2 1172.5M1113.1 1172.5L1113.7 1172L1114.2 1170.5L1114.8 1166.7L1115.4 1159.4L1116 1151.7L1116.6 1143.5L1117.2 1143.2L1117.8 1149.7L1118.4 1155.6L1119 1163.6L1119.6 1169.1L1120.2 1171.4L1120.8 1172.4M1144 1172.4L1144.6 1171.9L1145.2 1170.9L1145.8 1169.9L1146.4 1168.9L1147 1168.3L1147.6 1168.9L1148.2 1170.1L1148.8 1171.2L1149.4 1172L1150 1172.5M1181.5 1172.2L1182.1 1171.5L1182.7 1170.5L1183.3 1169.7L1183.9 1169.1L1184.5 1169.5L1185.1 1170.4L1185.7 1171.3L1186.3 1172.1L1186.9 1172.4M1188.1 1172.2L1188.7 1171.1L1189.3 1169.2L1189.9 1165.8L1190.5 1161.8L1191.1 1160.1L1191.7 1160.3L1192.2 1163.5L1192.8 1166.6L1193.4 1169.8L1194 1171.6L1194.6 1172.4M1216.7 1172.2L1217.3 1170.9L1217.8 1167.5L1218.4 1160.8L1219 1152.4L1219.6 1142.9L1220.2 1139.3L1220.8 1141.2L1221.4 1149.3L1222 1140.2L1222.6 1140.2L1223.2 1145.2L1223.8 1154.6L1224.4 1164.1L1225 1169.1L1225.6 1171.4L1226.2 1172.4M1235.7 1172.4L1236.3 1171.5L1236.9 1169L1237.5 1163.5L1238.1 1156.1L1238.7 1147.8L1239.3 1142.6L1239.9 1144.5L1240.5 1151.9L1241.1 1159.5L1241.7 1165.7L1242.3 1158.7L1242.9 1152.6L1243.5 1147.8L1244 1145.7L1244.6 1153.6L1245.2 1160.5L1245.8 1166.1L1246.4 1170.2L1247 1171.9L1247.6 1172.5L1248.2 1172.5L1248.8 1171.9L1249.4 1169.8L1250 1164.9L1250.6 1155.6L1251.2 1145.9L1251.8 1134.8L1252.4 1135.5L1253 1139.6L1253.6 1150.3L1254.2 1161.7L1254.8 1167.7L1255.4 1164.5L1256 1161.9L1256.5 1160.6L1257.1 1161.7L1257.7 1165.3L1258.3 1168.8L1258.9 1170.9L1259.5 1172.1M1262.5 1172.5L1263.1 1172L1263.7 1170.8L1264.3 1168.7L1264.9 1166.4L1265.5 1164.4L1266.1 1163.9L1266.7 1165.3L1267.3 1167.7L1267.9 1170.2L1268.5 1171.6L1269.1 1172.3M1313.7 1172.4L1314.3 1171.9L1314.9 1170.8L1315.5 1168.9L1316.1 1166.5L1316.7 1164.3L1317.3 1163.9L1317.9 1165.6L1318.5 1168L1319.1 1169.5L1319.7 1165.6L1320.3 1158.6L1320.9 1148L1321.4 1145L1322 1142.2L1322.6 1149.8L1323.2 1158.3L1323.8 1165L1324.4 1169.6L1325 1171.7L1325.6 1172.5M1331.6 1172.2L1332.2 1171.7L1332.8 1170.8L1333.4 1169.6L1334 1169.2L1334.5 1169.3L1335.1 1170L1335.7 1171.1L1336.3 1171.9L1336.9 1172.4M1354.2 1172.2L1354.8 1171.6L1355.4 1170.8L1356 1169.5L1356.6 1169.4L1357.2 1169.5L1357.8 1170.3L1358.4 1171.2L1359 1172L1359.6 1172.4M1367.3 1172.3L1367.9 1171.2L1368.5 1168.9L1369.1 1164.5L1369.7 1157.9L1370.3 1152L1370.9 1151.2L1371.5 1153.9L1372.1 1159.4L1372.7 1166L1373.2 1169.6L1373.8 1171.6L1374.4 1172.4M1411.4 1172.5L1411.9 1171.6L1412.5 1168.6L1413.1 1161.7L1413.7 1146.5L1414.3 1127.7L1414.9 1112.5L1415.5 1099.7L1416.1 1105.8L1416.7 1128.1L1417.3 1146.2L1417.9 1160.8L1418.5 1168.2L1419.1 1171.4L1419.7 1172.4M1422.1 1172.4L1422.7 1171.9L1423.3 1170.8L1423.9 1169.7L1424.5 1168.5L1425 1168.6L1425.6 1169L1426.2 1170L1426.8 1171.2L1427.4 1172.1L1428 1172.5M1431.6 1172.2L1432.2 1170.9L1432.8 1167.5L1433.4 1162.5L1434 1155.9L1434.6 1150.9L1435.2 1148.9L1435.8 1151.1L1436.4 1158.5L1437 1165.3L1437.6 1169.3L1438.1 1171.5L1438.7 1172.4M1457.8 1172.5L1458.4 1171.7L1459 1169.4L1459.6 1163.1L1460.2 1150.5L1460.8 1129.3L1461.4 1115.1L1462 1099.1L1462.6 1106.6L1463.2 1123.4L1463.7 1145.5L1464.3 1159.7L1464.9 1167.8L1465.5 1171.3L1466.1 1172.3M1487 1172.1L1487.6 1171.2L1488.2 1169.6L1488.8 1166.6L1489.4 1165.1L1489.9 1164L1490.5 1165.1L1491.1 1167.1L1491.7 1169.5L1492.3 1171.3L1492.9 1172.2M1498.3 1172.3L1498.9 1170.9L1499.5 1167.2L1500.1 1159.1L1500.7 1147.1L1501.3 1131.7L1501.9 1120.5L1502.5 1119.4L1503 1132.6L1503.6 1144.4L1504.2 1158.3L1504.8 1166.9L1505.4 1170.8L1506 1172.2M1508.4 1172.3L1509 1171.4L1509.6 1169.2L1510.2 1165.8L1510.8 1159.7L1511.4 1156.9L1512 1153.4L1512.6 1156.6L1513.2 1162.3L1513.8 1166.8L1514.4 1170.3L1515 1171.8L1515.5 1172.5M1519.1 1172.3L1519.7 1171.6L1520.3 1170.1L1520.9 1166.7L1521.5 1163.2L1522.1 1160.7L1522.7 1160.8L1523.3 1163.4L1523.9 1162.5L1524.5 1154.8L1525.1 1143.5L1525.7 1139.8L1526.3 1140.7L1526.9 1149.3L1527.5 1157.9L1528.1 1166.1L1528.6 1170.3L1529.2 1171.9L1529.8 1172.5M1534.6 1172.3L1535.2 1171.5L1535.8 1169.3L1536.4 1165.1L1537 1159.8L1537.6 1156.9L1538.2 1155L1538.8 1158.5L1539.4 1162.5L1540 1167L1540.6 1170.4L1541.2 1171.2L1541.7 1169.4L1542.3 1167.1L1542.9 1164.9L1543.5 1163.3L1544.1 1164.3L1544.7 1166.8L1545.3 1169.3L1545.9 1171.2L1546.5 1172.1M1550.1 1172.4L1550.7 1171.8L1551.3 1170.6L1551.9 1168.6L1552.5 1166.8L1553.1 1165.5L1553.7 1165.7L1554.2 1167.1L1554.8 1169.4L1555.4 1171.2L1556 1172.1M1559.6 1172.4L1560.2 1172L1560.8 1171L1561.4 1169.8L1562 1168.5L1562.6 1168.4L1563.2 1168.6L1563.8 1170.1L1564.4 1171.3L1565 1172L1565.6 1172.5M1580.4 1172.2L1581 1171.4L1581.6 1169.4L1582.2 1166.3L1582.8 1163.4L1583.4 1161.8L1584 1161.3L1584.6 1163.5L1585.2 1167L1585.8 1170.1L1586.4 1171.6L1587 1172.4M1593 1172.5L1593.5 1172L1594.1 1170.3L1594.7 1166.1L1595.3 1158.5L1595.9 1146L1596.5 1133.7L1597.1 1130.6L1597.7 1132.5L1598.3 1146.6L1598.9 1157.2L1599.5 1155.9L1600.1 1150.8L1600.7 1148.2L1601.3 1153.3L1601.9 1159.8L1602.5 1166.1L1603.1 1169.5L1603.7 1170.3L1604.3 1165.6L1604.9 1154.4L1605.5 1139.1L1606 1124.2L1606.6 1106.2L1607.2 1111.8L1607.8 1127.5L1608.4 1143.8L1609 1159L1609.6 1161.2L1610.2 1146.3L1610.8 1129.5L1611.4 1114.3L1612 1107.4L1612.6 1115.1L1613.2 1133.8L1613.8 1152.4L1614.4 1159L1615 1155.4L1615.6 1155.3L1616.2 1158.1L1616.8 1164.3L1617.4 1168L1618 1170.8L1618.6 1172.1L1619.1 1172.4L1619.7 1171.3L1620.3 1168.9L1620.9 1163.2L1621.5 1154.9L1622.1 1146.2L1622.7 1139.9L1623.3 1140.6L1623.9 1148.7L1624.5 1158.4L1625.1 1165.4L1625.7 1170L1626.3 1171.8L1626.9 1171.8L1627.5 1169.8L1628.1 1165.8L1628.7 1160.5L1629.3 1152.9L1629.9 1148.6L1630.5 1149.7L1631.1 1154.7L1631.7 1161.3L1632.2 1167.6L1632.8 1165.8L1633.4 1157.3L1634 1149L1634.6 1140.1L1635.2 1134.8L1635.8 1141.4L1636.4 1151L1637 1160.5L1637.6 1167.1L1638.2 1170.9L1638.8 1172.2M1648.9 1172.4L1649.5 1171.8L1650.1 1170.4L1650.7 1168.6L1651.3 1166.5L1651.9 1165.6L1652.5 1165.5L1653.1 1167.6L1653.7 1169.5L1654.3 1171.2L1654.9 1172.1M1657.3 1172.3L1657.8 1171.4L1658.4 1169.4L1659 1166.5L1659.6 1163.3L1660.2 1160.8L1660.8 1161.8L1661.4 1163.3L1662 1166.9L1662.6 1169.9L1663.2 1171.6L1663.8 1172.4M1688.2 1172.3L1688.8 1171.5L1689.4 1169.7L1690 1167.4L1690.6 1165.2L1691.2 1163.9L1691.8 1164.1L1692.4 1166.8L1693 1162.9L1693.6 1148.4L1694.2 1129L1694.8 1110.1L1695.4 1097.2L1696 1099L1696.6 1116.6L1697.1 1140.5L1697.7 1156.2L1698.3 1159.3L1698.9 1157.2L1699.5 1159L1700.1 1163.6L1700.7 1167.7L1701.3 1170.5L1701.9 1171.9L1702.5 1172.5M1708.5 1172.3L1709.1 1171.3L1709.6 1168L1710.2 1161.5L1710.8 1149.2L1711.4 1133.1L1712 1122.1L1712.6 1119.8L1713.2 1132.8L1713.8 1145.6L1714.4 1158.9L1715 1167L1715.6 1170.6L1716.2 1171.2L1716.8 1169.2L1717.4 1166.5L1718 1163.3L1718.6 1161.4L1719.2 1161.4L1719.8 1164.8L1720.4 1167.8L1721 1170.3L1721.6 1171.7L1722.2 1172.4M1725.7 1172.1L1726.3 1170.6L1726.9 1166.5L1727.5 1160.2L1728.1 1150.2L1728.7 1140.5L1729.3 1136.2L1729.9 1137.9L1730.5 1150.5L1731.1 1159.8L1731.7 1166.5L1732.3 1166.1L1732.9 1157.7L1733.5 1145.5L1734.1 1130.6L1734.7 1123.4L1735.3 1126.3L1735.8 1136.2L1736.4 1151.1L1737 1162.7L1737.6 1168.8L1738.2 1171.5L1738.8 1172.4M1747.8 1172.3L1748.4 1171.1L1748.9 1167.5L1749.5 1158.8L1750.1 1146.6L1750.7 1130.1L1751.3 1115.3L1751.9 1113.7L1752.5 1130L1753.1 1142.6L1753.7 1156.9L1754.3 1166.3L1754.9 1170.7L1755.5 1171.3L1756.1 1168.6L1756.7 1162.1L1757.3 1151.1L1757.9 1137.6L1758.5 1127.8L1759.1 1123.4L1759.7 1130.9L1760.3 1145.1L1760.9 1159.2L1761.4 1167.3L1762 1170.8L1762.6 1172.2M1778.1 1172.2L1778.7 1171.2L1779.3 1169.7L1779.9 1167.1L1780.5 1164.1L1781.1 1162.8L1781.7 1162.5L1782.3 1165.2L1782.9 1168.7L1783.5 1170.6L1784.1 1172L1784.7 1172.5M1787.1 1172.5L1787.6 1171.8L1788.2 1170.5L1788.8 1167.7L1789.4 1164.4L1790 1161.7L1790.6 1161.6L1791.2 1162.6L1791.8 1165.9L1792.4 1169.2L1793 1171.1L1793.6 1172.2M1796 1172.5L1796.6 1171.7L1797.2 1169.7L1797.8 1165L1798.4 1157.8L1799 1151.2L1799.6 1147L1800.2 1147.4L1800.7 1151.1L1801.3 1159.7L1801.9 1166.2L1802.5 1167L1803.1 1163L1803.7 1157.5L1804.3 1154.8L1804.9 1156.7L1805.5 1160.7L1806.1 1165.8L1806.7 1169.2L1807.3 1171.4L1807.9 1172.3M1810.9 1172.3L1811.5 1171.6L1812.1 1170.3L1812.7 1168.7L1813.2 1167.4L1813.8 1167.2L1814.4 1167.4L1815 1169.4L1815.6 1170.8L1816.2 1171.9L1816.8 1172.4M1851.4 1172.4L1851.9 1171.5L1852.5 1169.2L1853.1 1163.7L1853.7 1157.3L1854.3 1148.2L1854.9 1145.2L1855.5 1146.2L1856.1 1150.9L1856.7 1159.7L1857.3 1166.7L1857.9 1170.2L1858.5 1172L1859.1 1172.5L1859.7 1171.8L1860.3 1169.9L1860.9 1165.2L1861.5 1157.4L1862.1 1144.6L1862.7 1138L1863.3 1134.3L1863.9 1141.1L1864.5 1149.6L1865 1160.7L1865.6 1167.8L1866.2 1170.2L1866.8 1167.3L1867.4 1163.5L1868 1159L1868.6 1158.2L1869.2 1159.2L1869.8 1163.2L1870.4 1167.5L1871 1170.4L1871.6 1171.8L1872.2 1172.4L1872.8 1171.4L1873.4 1168.9L1874 1162.6L1874.6 1151.2L1875.2 1135.1L1875.8 1124.5L1876.4 1124.5L1877 1128.9L1877.6 1144.5L1878.1 1157.6L1878.7 1165.7L1879.3 1170.4L1879.9 1172.1M1890.1 1172.3L1890.7 1171.7L1891.2 1170.2L1891.8 1168.2L1892.4 1166.6L1893 1165.2L1893.6 1165.7L1894.2 1167.5L1894.8 1169.8L1895.4 1171.4L1896 1172.2M1915.7 1172.3L1916.3 1171.8L1916.8 1170.8L1917.4 1169.4L1918 1168.5L1918.6 1168.1L1919.2 1168.9L1919.8 1170.3L1920.4 1171.5L1921 1172.2M1932.3 1172.3L1932.9 1171.5L1933.5 1170L1934.1 1168.3L1934.7 1165.8L1935.3 1165.7L1935.9 1165.9L1936.5 1168L1937.1 1170L1937.7 1171.5L1938.3 1172.2M1974 1172.4L1974.6 1171.7L1975.2 1169.9L1975.8 1166.4L1976.4 1162L1977 1158.5L1977.6 1155.9L1978.2 1158L1978.8 1162.9L1979.4 1167.3L1980 1170.3L1980.6 1171.8L1981.2 1172.4M1987.1 1172.5L1987.7 1172.1L1988.3 1171.2L1988.9 1170.2L1989.5 1169.1L1990.1 1168.1L1990.7 1168.8L1991.3 1169.7L1991.9 1170.9L1992.5 1171.9L1993.1 1172.4M1995.4 1172.4L1996 1171.7L1996.6 1170.2L1997.2 1167.9L1997.8 1165.2L1998.4 1164.5L1999 1164.3L1999.6 1166.1L2000.2 1168.8L2000.8 1170.8"/>
<path d="M214.6 1262.4L215.2 1258.9L215.8 1254.7L216.4 1254.7L217 1257.4L217.6 1261.5L218.2 1264.9L218.8 1265.6L219.4 1262.6L220 1260.7L220.6 1259.9L221.1 1261.7L221.7 1263.8L222.3 1266.3L222.9 1266.6L223.5 1263.5L224.1 1260.5L224.7 1257.7L225.3 1256.3L225.9 1258L226.5 1262.1L227.1 1265.4L227.7 1267.6L228.3 1267.1L228.9 1265.3L229.5 1263.3L230.1 1261.9L230.7 1261.9L231.3 1263.6L231.9 1266.1L232.5 1267.7L233.1 1268.2L233.7 1266.9L234.2 1264.2L234.8 1260.7L235.4 1259.2L236 1258.5L236.6 1260.8L237.2 1263.5L237.8 1266L238.4 1267.9L239 1268.8M296.8 1268.7L297.4 1267.7L298 1266.1L298.6 1263.7L299.1 1260.9L299.7 1259.5L300.3 1260.7L300.9 1263.4L301.5 1265.6L302.1 1267.6L302.7 1268.6M306.3 1268.8L306.9 1267.8L307.5 1265.2L308.1 1259.5L308.7 1251.4L309.3 1242.5L309.9 1239.3L310.5 1240.3L311.1 1246.8L311.7 1256.2L312.2 1260L312.8 1256.5L313.4 1254.6L314 1256.3L314.6 1259.6L315.2 1264.2L315.8 1266.9L316.4 1268.4L317 1269M334.3 1268.8L334.9 1267.9L335.5 1266L336.1 1261.7L336.7 1257L337.3 1252.7L337.8 1250.3L338.4 1253.3L339 1259.3L339.6 1263.7L340.2 1266.6L340.8 1268.3L341.4 1269M347.4 1268.6L348 1267.8L348.6 1266.6L349.2 1266L349.8 1265.5L350.4 1266.1L350.9 1266.9L351.5 1267.9L352.1 1268.7M409.3 1268.7L409.9 1267.7L410.5 1265.6L411.1 1262.6L411.7 1259.7L412.3 1257.6L412.9 1259.4L413.5 1261.3L414.1 1264.9L414.7 1267L415.2 1266.9L415.8 1263.4L416.4 1258.8L417 1251.6L417.6 1247.4L418.2 1247.4L418.8 1251.6L419.4 1258.8L420 1259.1L420.6 1248.6L421.2 1236L421.8 1226.5L422.4 1227.6L423 1232.5L423.6 1242.7L424.2 1227.2L424.8 1216.3L425.4 1212.6L426 1221.5L426.6 1237.7L427.2 1228.8L427.8 1224.1L428.3 1227.1L428.9 1239.6L429.5 1249.5L430.1 1243.4L430.7 1240.8L431.3 1242.6L431.9 1251.3L432.5 1258.5L433.1 1257L433.7 1247.1L434.3 1239.3L434.9 1234L435.5 1236.5L436.1 1245L436.7 1255.3L437.3 1262.7L437.9 1262.9L438.5 1260.5L439.1 1258.7L439.7 1258.7L440.3 1261.3L440.9 1264.7L441.4 1266.8L442 1268.4L442.6 1268.9M447.4 1268.9L448 1268.2L448.6 1266.8L449.2 1264.2L449.8 1260.8L450.4 1259L451 1257.7L451.6 1260.9L452.2 1263.7L452.8 1266L453.4 1268L454 1268.8M486.1 1268.4L486.7 1267.6L487.3 1266.4L487.9 1265.7L488.5 1265.6L489.1 1266.2L489.7 1267.2L490.3 1268.2L490.9 1268.8M499.8 1268.8L500.4 1267.8L501 1265.7L501.6 1262.4L502.2 1257L502.8 1253L503.4 1252L504 1255.9L504.6 1260.4L505.2 1264.3L505.8 1263.4L506.3 1260L506.9 1255.4L507.5 1255.2L508.1 1257L508.7 1260.4L509.3 1264.5L509.9 1267L510.5 1268.5M513.5 1268.9L514.1 1268.1L514.7 1265.8L515.3 1261.7L515.9 1253.8L516.5 1245.5L517.1 1242.2L517.7 1241.5L518.3 1248.1L518.8 1256.5L519.4 1261.3L520 1257.1L520.6 1252.4L521.2 1250L521.8 1252.9L522.4 1258.4L523 1256.7L523.6 1250.3L524.2 1245.4L524.8 1245L525.4 1249.8L526 1256.5L526.6 1262.4L527.2 1256.9L527.8 1250L528.4 1241.7L529 1241.2L529.6 1245.3L530.2 1253.9L530.8 1261.1L531.4 1257.5L531.9 1254.3L532.5 1255.2L533.1 1257.7L533.7 1262.6L534.3 1262.2L534.9 1254.4L535.5 1246.9L536.1 1239.9L536.7 1239L537.3 1244.9L537.9 1253.1L538.5 1260.6L539.1 1266L539.7 1261.4L540.3 1256L540.9 1248.6L541.5 1245.7L542.1 1247.5L542.7 1252.6L543.3 1260.2L543.9 1264.9L544.5 1267.5L545 1268.7M586.1 1268.8L586.7 1267.8L587.3 1265.1L587.9 1260.5L588.5 1252.4L589.1 1246.1L589.7 1241.9L590.3 1246.2L590.9 1251.5L591.5 1259.5L592.1 1262.7L592.7 1257.4L593.3 1251.3L593.9 1248.2L594.5 1249.2L595.1 1254.2L595.7 1259.7L596.3 1264.5L596.8 1263.6L597.4 1264.2L598 1265.1L598.6 1266.9L599.2 1268L599.8 1268.7M611.7 1268.5L612.3 1267L612.9 1264L613.5 1259.6L614.1 1255.3L614.7 1252L615.3 1251.3L615.9 1255.9L616.5 1260.9L617.1 1264.9L617.7 1261.9L618.3 1258L618.9 1255.1L619.5 1255.3L620.1 1257.5L620.7 1262.3L621.3 1261.4L621.9 1256.7L622.4 1254L623 1255L623.6 1258.7L624.2 1263L624.8 1262.1L625.4 1259.5L626 1258.5L626.6 1258.8L627.2 1262L627.8 1262.2L628.4 1259.4L629 1258.6L629.6 1259.7L630.2 1262.1L630.8 1259.9L631.4 1253.2L632 1248.6L632.6 1248.4L633.2 1251.5L633.8 1256.2L634.4 1253.5L635 1251.1L635.5 1253.6L636.1 1250.4L636.7 1240.5L637.3 1235.9L637.9 1239.9L638.5 1244.8L639.1 1254.7L639.7 1250.4L640.3 1243.5L640.9 1241L641.5 1242.2L642.1 1249.2L642.7 1258.4L643.3 1263.9L643.9 1267.3L644.5 1268.6M668.9 1268.7L669.5 1268L670.1 1266.8L670.7 1264.9L671.3 1264L671.9 1263.6L672.5 1264.7L673.1 1266.2L673.7 1267.7L674.2 1268.6M702.2 1268.9L702.8 1268.1L703.4 1265.9L704 1262.5L704.6 1256.4L705.2 1251.7L705.8 1250.3L706.4 1253.9L707 1258.2L707.6 1262.6L708.2 1266.5L708.8 1266.7L709.4 1263L710 1257.7L710.6 1253.1L711.2 1248.4L711.8 1249.9L712.4 1255.7L712.9 1260.5L713.5 1265.3L714.1 1267.6L714.7 1268.7M718.9 1268.7L719.5 1267.9L720.1 1266.3L720.7 1263.9L721.3 1261.3L721.9 1259.8L722.5 1260.8L723.1 1263.3L723.7 1265.6L724.3 1267.5L724.9 1268.6M743.3 1268.9L743.9 1268.3L744.5 1266.6L745.1 1263.5L745.7 1258.9L746.3 1254.6L746.9 1253L747.5 1254.4L748.1 1258L748.7 1263.1L749.3 1266.4L749.9 1268.1L750.5 1268.9M754.6 1268.8L755.2 1267.5L755.8 1264.3L756.4 1257.4L757 1246.8L757.6 1235.6L758.2 1225.3L758.8 1227.2L759.4 1237.7L760 1249.8L760.6 1257.1L761.2 1242.8L761.8 1230.4L762.4 1220.7L763 1219.4L763.6 1229L764.2 1242.5L764.7 1240.1L765.3 1225.1L765.9 1215.3L766.5 1218.4L767.1 1230.8L767.7 1248.7L768.3 1245L768.9 1241.8L769.5 1241.5L770.1 1248.8L770.7 1257L771.3 1262.8L771.9 1266.9L772.5 1266.5L773.1 1263.8L773.7 1260.7L774.3 1259.2L774.9 1258.8L775.5 1260.1L776.1 1263.4L776.7 1266.2L777.3 1267.9L777.8 1268.8M780.2 1269L780.8 1268.4L781.4 1266.5L782 1263.4L782.6 1258L783.2 1251.7L783.8 1248.2L784.4 1247.9L785 1252.2L785.6 1259.5L786.2 1264.1L786.8 1267.4L787.4 1268.7M788.6 1268.7L789.2 1267.7L789.8 1266L790.4 1263.3L790.9 1260.2L791.5 1258.3L792.1 1258.7L792.7 1261.6L793.3 1264.5L793.9 1266.6L794.5 1264.4L795.1 1261.9L795.7 1260.4L796.3 1260.6L796.9 1262.2L797.5 1264.9L798.1 1266.7L798.7 1264.3L799.3 1261.1L799.9 1258.6L800.5 1257.8L801.1 1260.5L801.7 1263.6L802.3 1266.3L802.9 1263.7L803.5 1260L804 1257L804.6 1256.6L805.2 1258.3L805.8 1262.4L806.4 1265.3L807 1267.7L807.6 1268.7M821.9 1268.9L822.5 1268.4L823.1 1267.3L823.7 1265.7L824.3 1264.6L824.9 1263.7L825.5 1264.4L826.1 1265.4L826.7 1267.2L827.3 1268.2L827.9 1268.8M847.5 1268.9L848.1 1267.9L848.7 1265.1L849.3 1259.7L849.9 1250.2L850.5 1237.4L851.1 1232L851.7 1232.3L852.3 1237.6L852.9 1250.2L853.5 1259.6L854.1 1264.2L854.7 1261.5L855.3 1258.2L855.8 1258L856.4 1260L857 1263.1L857.6 1265.9L858.2 1261.7L858.8 1256.9L859.4 1251.6L860 1251.6L860.6 1253.7L861.2 1258.5L861.8 1263.4L862.4 1259.9L863 1253.1L863.6 1245.3L864.2 1244.2L864.8 1245.1L865.4 1252.5L866 1259.9L866.6 1258.2L867.2 1255L867.8 1254.5L868.3 1257.3L868.9 1260.9L869.5 1265L870.1 1262.2L870.7 1253L871.3 1237.5L871.9 1220.3L872.5 1213.6L873.1 1216.5L873.7 1225L874.3 1241.8L874.9 1240.7L875.5 1226.3L876.1 1221.1L876.7 1225.1L877.3 1237.3L877.9 1246.7L878.5 1237.7L879.1 1233.4L879.7 1236.8L880.3 1246.5L880.9 1255.5L881.4 1257.4L882 1245.2L882.6 1233.6L883.2 1227L883.8 1231.9L884.4 1240.6L885 1251.7L885.6 1260.6L886.2 1258.6L886.8 1259.1L887.4 1261.2L888 1264.3L888.6 1266.9L889.2 1268.4L889.8 1267.8L890.4 1265.3L891 1261.1L891.6 1254.3L892.2 1248.2L892.8 1246.9L893.4 1248.4L894 1255.5L894.5 1260.6L895.1 1265.6L895.7 1267.9L896.3 1268.8M906.5 1268.9L907.1 1268.3L907.6 1266.8L908.2 1264.1L908.8 1261.3L909.4 1258.4L910 1258.7L910.6 1260.6L911.2 1263.3L911.8 1266.3L912.4 1268L913 1268.8M915.4 1268.4L916 1266.7L916.6 1263.1L917.2 1255.5L917.8 1247.3L918.4 1241.7L919 1240.1L919.6 1245.5L920.1 1253.5L920.7 1260.9L921.3 1265.7L921.9 1268.1L922.5 1268.9M925.5 1268.9L926.1 1268.2L926.7 1266.4L927.3 1263.3L927.9 1259.5L928.5 1256.3L929.1 1254L929.7 1256.8L930.3 1260L930.9 1264.2L931.5 1267.1L932.1 1268.5M955.3 1268.8L955.9 1267.9L956.5 1265.6L957.1 1261.6L957.7 1255.9L958.3 1249.1L958.9 1248.3L959.4 1248.8L960 1254.7L960.6 1261.1L961.2 1265.6L961.8 1268L962.4 1268.8L963 1268.6L963.6 1267.3L964.2 1263.6L964.8 1256.9L965.4 1248.4L966 1240.4L966.6 1240.5L967.2 1243.1L967.8 1251L968.4 1258.7L969 1264.9L969.6 1267.6L970.2 1267.4L970.8 1264.2L971.4 1259.6L971.9 1252.9L972.5 1248.2L973.1 1246.6L973.7 1251.8L974.3 1258.3L974.9 1263.1L975.5 1266.7L976.1 1267.8L976.7 1264.5L977.3 1258.7L977.9 1248.3L978.5 1239.4L979.1 1229.8L979.7 1229.7L980.3 1242L980.9 1251.9L981.5 1260.8L982.1 1265.7L982.7 1262.8L983.3 1255.6L983.9 1245.2L984.5 1240.4L985 1237.2L985.6 1241.8L986.2 1252.4L986.8 1260.3L987.4 1265.4L988 1262.4L988.6 1257.8L989.2 1251.9L989.8 1248.6L990.4 1249.8L991 1253.2L991.6 1260.1L992.2 1263.3L992.8 1258.4L993.4 1252.2L994 1247.6L994.6 1248.1L995.2 1253.6L995.8 1258.9L996.4 1264L997 1267L997.6 1268.5M998.7 1269L999.3 1268.4L999.9 1266.6L1000.5 1262.1L1001.1 1254.5L1001.7 1243.4L1002.3 1235.8L1002.9 1234.3L1003.5 1240.1L1004.1 1248.5L1004.7 1257.4L1005.3 1263.6L1005.9 1259.7L1006.5 1255.2L1007.1 1254.2L1007.7 1256.2L1008.3 1259.6L1008.9 1264.1L1009.5 1267.1L1010.1 1268.4M1012.4 1268.7L1013 1267.9L1013.6 1266.1L1014.2 1262.9L1014.8 1259.8L1015.4 1258.8L1016 1259.3L1016.6 1261.6L1017.2 1264.8L1017.8 1266.9L1018.4 1268.4L1019 1267.4L1019.6 1265.8L1020.2 1263.3L1020.8 1261.7L1021.4 1261.7L1022 1263.4L1022.6 1265.6L1023.2 1267.4L1023.7 1268.4L1024.3 1268.9L1024.9 1268.5L1025.5 1266.9L1026.1 1263.5L1026.7 1257.6L1027.3 1248.1L1027.9 1241.7L1028.5 1241.9L1029.1 1245.3L1029.7 1253.8L1030.3 1260L1030.9 1259.1L1031.5 1251.4L1032.1 1244.7L1032.7 1240.6L1033.3 1244.8L1033.9 1253.4L1034.5 1259.8L1035.1 1265.3L1035.7 1267.7L1036.3 1267.6L1036.8 1265.2L1037.4 1260.6L1038 1256.4L1038.6 1251L1039.2 1250.4L1039.8 1253.8L1040.4 1259.3L1041 1263.8L1041.6 1266.9L1042.2 1268.5L1042.8 1268.8L1043.4 1268.2L1044 1267.2L1044.6 1266.3L1045.2 1265.7L1045.8 1265.6L1046.4 1266.4L1047 1267.4L1047.6 1268.3L1048.2 1268.9M1072.6 1268.5L1073.2 1267.4L1073.8 1265.5L1074.4 1263.6L1075 1262.4L1075.5 1262.3L1076.1 1263.3L1076.7 1265.5L1077.3 1267.2L1077.9 1268.4M1085.1 1268.7L1085.7 1267.7L1086.3 1265.8L1086.9 1263.8L1087.5 1261.5L1088.1 1259.7L1088.6 1261L1089.2 1263.3L1089.8 1265.7L1090.4 1267.8L1091 1268.7M1105.3 1268.6L1105.9 1267.7L1106.5 1266L1107.1 1264.1L1107.7 1261.9L1108.3 1262.2L1108.9 1263.3L1109.5 1265.3L1110.1 1267.2L1110.7 1268.3L1111.3 1268.9M1126.2 1268.9L1126.8 1268.3L1127.3 1266.9L1127.9 1264.8L1128.5 1262.4L1129.1 1260.3L1129.7 1259.9L1130.3 1262L1130.9 1264.6L1131.5 1266.8L1132.1 1268.3L1132.7 1268.9M1144.6 1268.6L1145.2 1267.5L1145.8 1265.1L1146.4 1261.5L1147 1257L1147.6 1255.1L1148.2 1256.1L1148.8 1259.3L1149.4 1256L1150 1249.6L1150.6 1243L1151.2 1247L1151.8 1251.2L1152.4 1258.1L1153 1264.3L1153.5 1267.2L1154.1 1265.7L1154.7 1262.1L1155.3 1258L1155.9 1254.6L1156.5 1254L1157.1 1257.9L1157.7 1261.8L1158.3 1265.1L1158.9 1267.6L1159.5 1268.7M1164.9 1268.8L1165.5 1268L1166 1266.4L1166.6 1264.2L1167.2 1262.3L1167.8 1261.5L1168.4 1262.8L1169 1264.7L1169.6 1266.6L1170.2 1268L1170.8 1268.8M1193.4 1268.8L1194 1268.1L1194.6 1266.3L1195.2 1263.6L1195.8 1260.4L1196.4 1256.7L1197 1256.3L1197.6 1258.9L1198.2 1262.2L1198.8 1255.9L1199.4 1248.3L1200 1243.7L1200.6 1246.8L1201.2 1250.4L1201.8 1257.1L1202.4 1263.6L1203 1266.9L1203.6 1265.9L1204.2 1263.1L1204.8 1261.4L1205.3 1259.7L1205.9 1260.6L1206.5 1263.8L1207.1 1264.6L1207.7 1258.6L1208.3 1251.3L1208.9 1242.3L1209.5 1238.7L1210.1 1240.4L1210.7 1247L1211.3 1256.8L1211.9 1263.7L1212.5 1267.1L1213.1 1264.4L1213.7 1261.4L1214.3 1259L1214.9 1258.1L1215.5 1260L1216.1 1263L1216.7 1265.8L1217.3 1267.8L1217.8 1268.7L1218.4 1269L1219 1268.3L1219.6 1266.3L1220.2 1262L1220.8 1253.7L1221.4 1244.6L1222 1239.5L1222.6 1236.9L1223.2 1243.6L1223.8 1252.1L1224.4 1260.9L1225 1265.4L1225.6 1268L1226.2 1268.9L1226.8 1267.8L1227.4 1265.1L1228 1258L1228.6 1248.9L1229.2 1235.7L1229.8 1225.9L1230.4 1226.3L1230.9 1237L1231.5 1249.2L1232.1 1258.9L1232.7 1261.9L1233.3 1262.1L1233.9 1263.7L1234.5 1265.7L1235.1 1267.3L1235.7 1268.5M1262.5 1268.6L1263.1 1267.8L1263.7 1266.6L1264.3 1265.3L1264.9 1265.1L1265.5 1265.2L1266.1 1266.1L1266.7 1267.4L1267.3 1268.3L1267.9 1268.8M1338.1 1268.5L1338.7 1267.2L1339.3 1265.2L1339.9 1262.8L1340.5 1261.2L1341.1 1260.2L1341.7 1261.5L1342.3 1264.1L1342.9 1266.4L1343.5 1268.1L1344.1 1268.8M1364.9 1268.6L1365.5 1267.4L1366.1 1264.5L1366.7 1260L1367.3 1254L1367.9 1249.3L1368.5 1250.2L1369.1 1254L1369.7 1259.1L1370.3 1258.9L1370.9 1254.9L1371.5 1251.4L1372.1 1250.9L1372.7 1256.3L1373.2 1260.9L1373.8 1262.5L1374.4 1259.6L1375 1258L1375.6 1259.1L1376.2 1261.8L1376.8 1265L1377.4 1267.4L1378 1268.6M1379.2 1268.8L1379.8 1268L1380.4 1266.4L1381 1264L1381.6 1261.2L1382.2 1259.9L1382.8 1260.6L1383.4 1263L1384 1265.5L1384.6 1267.5L1385.2 1268.5M1396.5 1268.9L1397.1 1268.4L1397.7 1267.5L1398.3 1266.2L1398.9 1265.4L1399.4 1264.7L1400 1265.2L1400.6 1266.4L1401.2 1267.8L1401.8 1268.6M1415.5 1268.9L1416.1 1268.4L1416.7 1267.3L1417.3 1265.8L1417.9 1264.6L1418.5 1263.9L1419.1 1264.5L1419.7 1265.6L1420.3 1267.1L1420.9 1268.3L1421.5 1268.8L1422.1 1268.8L1422.7 1268.1L1423.3 1266.4L1423.9 1263.7L1424.5 1260.7L1425 1259L1425.6 1257.8L1426.2 1258.5L1426.8 1261.6L1427.4 1264.5L1428 1266.9L1428.6 1268.3L1429.2 1268.9M1454.2 1268.8L1454.8 1267.9L1455.4 1265.6L1456 1260.7L1456.6 1253.4L1457.2 1247.3L1457.8 1243.2L1458.4 1247.6L1459 1252.6L1459.6 1259.7L1460.2 1265.1L1460.8 1267.5L1461.4 1268.7M1500.7 1268.4L1501.3 1267.3L1501.9 1264.9L1502.5 1262.7L1503 1260.9L1503.6 1260L1504.2 1261.4L1504.8 1264L1505.4 1266.8L1506 1268.2L1506.6 1266.4L1507.2 1263.8L1507.8 1259.5L1508.4 1255.2L1509 1255.4L1509.6 1255.8L1510.2 1260.8L1510.8 1264.2L1511.4 1261.7L1512 1250.5L1512.6 1234.6L1513.2 1217.9L1513.8 1207.7L1514.4 1207.5L1515 1219L1515.5 1239.3L1516.1 1239.5L1516.7 1232.4L1517.3 1233.9L1517.9 1237.2L1518.5 1216L1519.1 1200.6L1519.7 1199.7L1520.3 1213.1L1520.9 1233.9L1521.5 1222.4L1522.1 1206.7L1522.7 1208.8L1523.3 1218.2L1523.9 1236.6L1524.5 1254.1L1525.1 1255.3L1525.7 1246.5L1526.3 1241.8L1526.9 1239.9L1527.5 1245L1528.1 1253.6L1528.6 1260.5L1529.2 1264.4L1529.8 1257.4L1530.4 1247.9L1531 1240.3L1531.6 1234.8L1532.2 1237.1L1532.8 1244.4L1533.4 1254.8L1534 1262.8L1534.6 1266.7L1535.2 1268.5M1549.5 1268.7L1550.1 1268.1L1550.7 1267.2L1551.3 1266.1L1551.9 1265.4L1552.5 1265.7L1553.1 1266.7L1553.7 1267.8L1554.2 1268.5L1554.8 1268.9L1555.4 1268.1L1556 1266.6L1556.6 1263.5L1557.2 1258.6L1557.8 1256.3L1558.4 1254.1L1559 1257.2L1559.6 1259.5L1560.2 1251.6L1560.8 1239.6L1561.4 1232L1562 1234.2L1562.6 1240.2L1563.2 1252.1L1563.8 1246L1564.4 1241L1565 1242.1L1565.6 1246L1566.2 1255L1566.8 1243.9L1567.3 1229.2L1567.9 1225.9L1568.5 1227.4L1569.1 1238.4L1569.7 1251L1570.3 1261.2L1570.9 1263.2L1571.5 1257.8L1572.1 1250.4L1572.7 1245L1573.3 1245.2L1573.9 1248.6L1574.5 1256L1575.1 1262.2L1575.7 1266.1L1576.3 1268.3L1576.9 1268.9M1584.6 1268.6L1585.2 1267.3L1585.8 1264.4L1586.4 1259.8L1587 1255.3L1587.6 1252.1L1588.2 1251.5L1588.8 1255.8L1589.4 1260.2L1590 1258.1L1590.6 1253.1L1591.2 1250.2L1591.8 1252.7L1592.4 1257.6L1593 1262.5L1593.5 1265.7L1594.1 1267.9L1594.7 1268.9M1608.4 1268.8L1609 1268.3L1609.6 1267.4L1610.2 1266.2L1610.8 1265.6L1611.4 1265.7L1612 1266.5L1612.6 1267.5L1613.2 1268.3L1613.8 1268.8M1658.4 1268.8L1659 1268L1659.6 1266.3L1660.2 1263.3L1660.8 1259.9L1661.4 1256.5L1662 1256.5L1662.6 1259.4L1663.2 1262.8L1663.8 1265.9L1664.4 1267.8L1665 1268.8M1668.6 1269L1669.2 1268.4L1669.8 1266.9L1670.4 1263.5L1670.9 1258.6L1671.5 1254.8L1672.1 1251.2L1672.7 1252.9L1673.3 1256.9L1673.9 1261.8L1674.5 1263.4L1675.1 1257.3L1675.7 1250.6L1676.3 1247.9L1676.9 1247.7L1677.5 1252.7L1678.1 1256.3L1678.7 1247.3L1679.3 1238.6L1679.9 1231.5L1680.5 1237.2L1681.1 1246.7L1681.7 1245.8L1682.3 1235.8L1682.9 1232.1L1683.5 1235.6L1684 1238.6L1684.6 1214L1685.2 1193.2L1685.8 1189.8L1686.4 1190.1L1687 1214.9L1687.6 1239.8L1688.2 1242.9L1688.8 1236.3L1689.4 1233.9L1690 1238L1690.6 1248.7L1691.2 1240.4L1691.8 1225.1L1692.4 1216.3L1693 1220.8L1693.6 1232.5L1694.2 1246.4L1694.8 1247.6L1695.4 1242.5L1696 1244L1696.6 1250L1697.1 1257.7L1697.7 1259.6L1698.3 1249.5L1698.9 1241.1L1699.5 1234.4L1700.1 1234.1L1700.7 1242.7L1701.3 1252.1L1701.9 1261.4L1702.5 1260.1L1703.1 1255.3L1703.7 1251.8L1704.3 1250.4L1704.9 1256L1705.5 1260.2L1706.1 1256.6L1706.7 1243.1L1707.3 1230.7L1707.9 1222.2L1708.5 1218.2L1709.1 1230.4L1709.6 1243.6L1710.2 1251.6L1710.8 1237L1711.4 1215.3L1712 1196L1712.6 1198.1L1713.2 1205.6L1713.8 1229.8L1714.4 1227.6L1715 1207.2L1715.6 1198.4L1716.2 1201.6L1716.8 1216.6L1717.4 1235.7L1718 1239.7L1718.6 1231L1719.2 1234.2L1719.8 1244.2L1720.4 1253.3L1721 1261.8L1721.6 1266.3L1722.2 1268.3L1722.7 1269M1748.9 1268.7L1749.5 1267.9L1750.1 1266.7L1750.7 1264.9L1751.3 1264.1L1751.9 1264L1752.5 1264.7L1753.1 1266.3L1753.7 1267.7L1754.3 1268.6M1778.7 1268.9L1779.3 1268.2L1779.9 1266.7L1780.5 1264.2L1781.1 1261.5L1781.7 1258.4L1782.3 1258.2L1782.9 1260L1783.5 1263.8L1784.1 1266.4L1784.7 1267.9L1785.3 1268.8M1794.2 1268.9L1794.8 1268L1795.4 1265.7L1796 1260.2L1796.6 1252.2L1797.2 1240.9L1797.8 1234.3L1798.4 1233L1799 1239.7L1799.6 1248.9L1800.2 1259L1800.7 1262.8L1801.3 1258.3L1801.9 1254.6L1802.5 1253.9L1803.1 1256.8L1803.7 1261.5L1804.3 1265.2L1804.9 1267.5L1805.5 1268.6M1811.5 1268.5L1812.1 1267.7L1812.7 1266.7L1813.2 1265.6L1813.8 1265.8L1814.4 1266.3L1815 1267.2L1815.6 1268.1L1816.2 1268.7M1849.6 1269.1L1850.2 1268L1850.8 1259.4L1851.4 1240.6L1851.9 1234.6L1852.5 1254.2L1853.1 1267L1853.7 1269.1M1903.2 1268.9L1903.7 1268.2L1904.3 1266.4L1904.9 1263.5L1905.5 1258.8L1906.1 1255.8L1906.7 1254.3L1907.3 1256.5L1907.9 1260.3L1908.5 1264.5L1909.1 1267.1L1909.7 1268.5L1910.3 1268L1910.9 1266.5L1911.5 1263.9L1912.1 1260.3L1912.7 1258.6L1913.3 1258.9L1913.9 1261.3L1914.5 1264.2L1915.1 1266.5L1915.7 1268.1L1916.3 1268.9M1918.6 1268.8L1919.2 1267.7L1919.8 1264.9L1920.4 1259.3L1921 1251.6L1921.6 1244.2L1922.2 1241L1922.8 1245L1923.4 1251.4L1924 1258.4L1924.6 1256.3L1925.2 1252L1925.8 1251.4L1926.4 1254.3L1927 1259.3L1927.6 1263.8L1928.2 1266.8L1928.8 1268.5"/>
</g>
<g stroke="#000" stroke-width="4.4" fill="none">
<path d="M214.9 457.5 V664.8 H2000.3"/>
<path d="M214.9 467.5 H232.5"/>
<path d="M214.9 516.9 H232.5"/>
<path d="M214.9 566 H232.5"/>
<path d="M214.9 615.4 H232.5"/>
<path d="M214.9 679 V884 H2000.3"/>
<path d="M214.9 706 H232.5"/>
<path d="M214.9 750.5 H232.5"/>
<path d="M214.9 795 H232.5"/>
<path d="M214.9 839.5 H232.5"/>
<path d="M214.9 890.8 V980.4 H2000.3"/>
<path d="M214.9 907 H232.5"/>
<path d="M214.9 925.5 H232.5"/>
<path d="M214.9 944 H232.5"/>
<path d="M214.9 962.6 H232.5"/>
<path d="M214.9 988 V1076.7 H2000.3"/>
<path d="M214.9 995 H232.5"/>
<path d="M214.9 1008.4 H232.5"/>
<path d="M214.9 1022 H232.5"/>
<path d="M214.9 1036 H232.5"/>
<path d="M214.9 1049.3 H232.5"/>
<path d="M214.9 1062.8 H232.5"/>
<path d="M214.9 1084 V1172.7 H2000.3"/>
<path d="M214.9 1094.5 H232.5"/>
<path d="M214.9 1110 H232.5"/>
<path d="M214.9 1126.2 H232.5"/>
<path d="M214.9 1141.9 H232.5"/>
<path d="M214.9 1157.7 H232.5"/>
<path d="M214.9 1180 V1269.2 H2000.3"/>
<path d="M214.9 1191.7 H232.5"/>
<path d="M214.9 1210.9 H232.5"/>
<path d="M214.9 1230.5 H232.5"/>
<path d="M214.9 1250.2 H232.5"/>
</g>
<g fill="none" stroke="#ff0000" stroke-width="1.7">
<circle cx="221.7" cy="881.9" r="5"/>
<circle cx="226.9" cy="874.2" r="5"/>
<circle cx="232.4" cy="859.7" r="5"/>
<circle cx="240.1" cy="877.6" r="5"/>
<circle cx="240.9" cy="826.4" r="5"/>
<circle cx="246.1" cy="829.4" r="5"/>
<circle cx="243.9" cy="854.2" r="5"/>
<circle cx="249.5" cy="878.5" r="5"/>
<circle cx="254.6" cy="877.6" r="5"/>
<circle cx="347.5" cy="877.6" r="5"/>
<circle cx="363.8" cy="867.8" r="5"/>
<circle cx="420" cy="871.2" r="5"/>
<circle cx="447.8" cy="861.8" r="5"/>
<circle cx="446.5" cy="872.5" r="5"/>
<circle cx="455.4" cy="878.5" r="5"/>
<circle cx="461.8" cy="862.7" r="5"/>
<circle cx="467.8" cy="871.2" r="5"/>
<circle cx="486.1" cy="871.2" r="5"/>
<circle cx="488.3" cy="865.7" r="5"/>
<circle cx="530.9" cy="867.8" r="5"/>
<circle cx="534.3" cy="858.4" r="5"/>
<circle cx="540.3" cy="884" r="5"/>
<circle cx="541.6" cy="867" r="5"/>
<circle cx="548" cy="864" r="5"/>
<circle cx="553.1" cy="864" r="5"/>
<circle cx="556.5" cy="861.8" r="5"/>
<circle cx="560.8" cy="854.2" r="5"/>
<circle cx="567.2" cy="879.7" r="5"/>
<circle cx="569.3" cy="864.8" r="5"/>
<circle cx="577.8" cy="869.1" r="5"/>
<circle cx="579.1" cy="831.6" r="5"/>
<circle cx="582.1" cy="860.6" r="5"/>
<circle cx="586.4" cy="858.4" r="5"/>
<circle cx="590.6" cy="862.7" r="5"/>
<circle cx="592.8" cy="851.2" r="5"/>
<circle cx="594.9" cy="826.4" r="5"/>
<circle cx="599.1" cy="871.2" r="5"/>
<circle cx="606.8" cy="871.2" r="5"/>
<circle cx="616.2" cy="874.2" r="5"/>
<circle cx="635.4" cy="875.5" r="5"/>
<circle cx="664.4" cy="881.9" r="5"/>
<circle cx="688.7" cy="875.5" r="5"/>
<circle cx="693.6" cy="869.1" r="5"/>
<circle cx="718.3" cy="869.1" r="5"/>
<circle cx="751.2" cy="884" r="5"/>
<circle cx="758.4" cy="884" r="5"/>
<circle cx="762.7" cy="882.7" r="5"/>
<circle cx="799.4" cy="877.6" r="5"/>
<circle cx="802.3" cy="876.8" r="5"/>
<circle cx="810" cy="875.5" r="5"/>
<circle cx="863.3" cy="881.9" r="5"/>
<circle cx="933.3" cy="878.9" r="5"/>
<circle cx="1029.6" cy="878.5" r="5"/>
<circle cx="1031.3" cy="843.5" r="5"/>
<circle cx="1034.8" cy="859.7" r="5"/>
<circle cx="1041.2" cy="869.1" r="5"/>
<circle cx="1047.5" cy="871.2" r="5"/>
<circle cx="1061.2" cy="883.2" r="5"/>
<circle cx="1062.5" cy="837.1" r="5"/>
<circle cx="1064.6" cy="845.6" r="5"/>
<circle cx="1068" cy="835" r="5"/>
<circle cx="1071" cy="841.4" r="5"/>
<circle cx="1075.3" cy="842.6" r="5"/>
<circle cx="1077.4" cy="846.9" r="5"/>
<circle cx="1082.5" cy="869.1" r="5"/>
<circle cx="1085.9" cy="858.4" r="5"/>
<circle cx="1086.8" cy="849.9" r="5"/>
<circle cx="1088.9" cy="815.8" r="5"/>
<circle cx="1095.3" cy="870.4" r="5"/>
<circle cx="1098.7" cy="811.5" r="5"/>
<circle cx="1099.6" cy="843.5" r="5"/>
<circle cx="1103" cy="861.8" r="5"/>
<circle cx="1108.1" cy="859.7" r="5"/>
<circle cx="1109.4" cy="785.9" r="5"/>
<circle cx="1111.5" cy="819.2" r="5"/>
<circle cx="1112.4" cy="852" r="5"/>
<circle cx="1114.9" cy="765.5" r="5"/>
<circle cx="1125.6" cy="879.7" r="5"/>
<circle cx="1127.7" cy="812.4" r="5"/>
<circle cx="1129.9" cy="822.2" r="5"/>
<circle cx="1131.6" cy="851.2" r="5"/>
<circle cx="1135" cy="854.2" r="5"/>
<circle cx="1138.4" cy="857.1" r="5"/>
<circle cx="1141.4" cy="810.2" r="5"/>
<circle cx="1142.6" cy="858.4" r="5"/>
<circle cx="1145.6" cy="862.7" r="5"/>
<circle cx="1147.8" cy="859.7" r="5"/>
<circle cx="1151.2" cy="881" r="5"/>
<circle cx="1156.3" cy="871.2" r="5"/>
<circle cx="1160.6" cy="858.4" r="5"/>
<circle cx="1164" cy="835.8" r="5"/>
<circle cx="1171.2" cy="869.1" r="5"/>
<circle cx="1175.5" cy="854.2" r="5"/>
<circle cx="1179.7" cy="845.6" r="5"/>
<circle cx="1186.1" cy="859.7" r="5"/>
<circle cx="1190.4" cy="841.4" r="5"/>
<circle cx="1192.5" cy="854.2" r="5"/>
<circle cx="1195.9" cy="840.1" r="5"/>
<circle cx="1197.7" cy="789.3" r="5"/>
<circle cx="1198.9" cy="825.6" r="5"/>
<circle cx="1201.9" cy="814.9" r="5"/>
<circle cx="1253.5" cy="881.9" r="5"/>
<circle cx="1254.4" cy="867" r="5"/>
<circle cx="1257.4" cy="864.8" r="5"/>
<circle cx="1275.7" cy="858.4" r="5"/>
<circle cx="1279.1" cy="872.5" r="5"/>
<circle cx="1282.1" cy="841.4" r="5"/>
<circle cx="1283.4" cy="852" r="5"/>
<circle cx="1286.4" cy="875.5" r="5"/>
<circle cx="1312.8" cy="876.3" r="5"/>
<circle cx="1316.2" cy="859.7" r="5"/>
<circle cx="1322.6" cy="871.2" r="5"/>
<circle cx="1326.9" cy="877.6" r="5"/>
<circle cx="1327.7" cy="845.6" r="5"/>
<circle cx="1329" cy="862.7" r="5"/>
<circle cx="1332.4" cy="859.7" r="5"/>
<circle cx="1334.1" cy="835" r="5"/>
<circle cx="1335.4" cy="816.6" r="5"/>
<circle cx="1337.5" cy="794.5" r="5"/>
<circle cx="1338.8" cy="800" r="5"/>
<circle cx="1343.1" cy="840.1" r="5"/>
<circle cx="1346.1" cy="869.1" r="5"/>
<circle cx="1349.5" cy="856.3" r="5"/>
<circle cx="1354.6" cy="864.8" r="5"/>
<circle cx="1359.7" cy="872.5" r="5"/>
<circle cx="1362.3" cy="861.8" r="5"/>
<circle cx="1369.5" cy="864.8" r="5"/>
<circle cx="1372.5" cy="868.2" r="5"/>
<circle cx="1383.6" cy="871.2" r="5"/>
<circle cx="1386.6" cy="854.2" r="5"/>
<circle cx="1435" cy="884.2" r="5"/>
<circle cx="1462.1" cy="874.1" r="5"/>
<circle cx="1476.4" cy="881.3" r="5"/>
<circle cx="1487" cy="880" r="5"/>
<circle cx="1526.7" cy="881.3" r="5"/>
<circle cx="1533" cy="872.8" r="5"/>
<circle cx="1660.5" cy="879.2" r="5"/>
<circle cx="1747" cy="880.4" r="5"/>
<circle cx="1780.4" cy="873.7" r="5"/>
<circle cx="1796.8" cy="875.8" r="5"/>
<circle cx="1805.3" cy="869.5" r="5"/>
<circle cx="1811.6" cy="858.1" r="5"/>
<circle cx="1816.7" cy="861" r="5"/>
<circle cx="1850.5" cy="882.1" r="5"/>
<circle cx="1853" cy="867.3" r="5"/>
<circle cx="1855.9" cy="869.5" r="5"/>
<circle cx="1860.2" cy="858.9" r="5"/>
<circle cx="1864.4" cy="884.2" r="5"/>
<circle cx="1866.5" cy="863.1" r="5"/>
<circle cx="1869.9" cy="860.2" r="5"/>
<circle cx="1871.6" cy="874.1" r="5"/>
<circle cx="1873.3" cy="839.9" r="5"/>
<circle cx="1885.5" cy="867.8" r="5"/>
<circle cx="1887.6" cy="845.4" r="5"/>
<circle cx="1891.8" cy="836.1" r="5"/>
<circle cx="1894.8" cy="864.4" r="5"/>
<circle cx="1896.9" cy="874.1" r="5"/>
<circle cx="1898.2" cy="861" r="5"/>
<circle cx="1899" cy="793.5" r="5"/>
<circle cx="1901.1" cy="866.5" r="5"/>
<circle cx="1931.1" cy="877.1" r="5"/>
<circle cx="1934" cy="864.4" r="5"/>
<circle cx="1937" cy="862.3" r="5"/>
<circle cx="1941.2" cy="864.4" r="5"/>
<circle cx="1944.6" cy="870.7" r="5"/>
<circle cx="1953" cy="872" r="5"/>
<circle cx="1959" cy="847.5" r="5"/>
<circle cx="1961.5" cy="867.8" r="5"/>
<circle cx="1971.2" cy="877.9" r="5"/>
<circle cx="1976.3" cy="864.4" r="5"/>
<circle cx="1983.9" cy="878.3" r="5"/>
<circle cx="1988.1" cy="843.3" r="5"/>
<circle cx="1990.2" cy="869.5" r="5"/>
<circle cx="1993.2" cy="856.8" r="5"/>
</g>
<g stroke="#000" stroke-width="2.5">
<line x1="512.3" y1="1270" x2="512.3" y2="1276" />
<line x1="810" y1="1270" x2="810" y2="1276" />
<line x1="1107.7" y1="1270" x2="1107.7" y2="1276" />
<line x1="1405.4" y1="1270" x2="1405.4" y2="1276" />
<line x1="1703.1" y1="1270" x2="1703.1" y2="1276" />
<line x1="2000.8" y1="1270" x2="2000.8" y2="1276" />
</g>
<rect x="487.5" y="802" width="7" height="276.8" fill="#f03030" fill-opacity="0.55"/>
<rect x="688.2" y="825" width="7" height="253.8" fill="#f03030" fill-opacity="0.55"/>
<rect x="1027.6" y="775" width="10" height="496.3" fill="#f03030" fill-opacity="0.55"/>
<rect x="1064.5" y="757" width="7" height="321.8" fill="#f03030" fill-opacity="0.55"/>
<rect x="1125.8" y="680.6" width="5.5" height="398.2" fill="#f03030" fill-opacity="0.55"/>
<rect x="1383.8" y="775" width="6" height="303.8" fill="#f03030" fill-opacity="0.55"/>
<rect x="1433.8" y="825" width="3.5" height="349.8" fill="#f03030" fill-opacity="0.55"/>
<rect x="1460.3" y="834" width="4" height="437.3" fill="#f03030" fill-opacity="0.55"/>
<rect x="1796.1" y="814" width="7" height="457.3" fill="#f03030" fill-opacity="0.55"/>
<g fill="none" stroke="#ff8c8c" stroke-width="3.8" stroke-dasharray="3.8 7.6">
<path d="M491 1276 V1320 L275 1372"/>
<path d="M1032.6 1276 V1320 L557 1372"/>
<path d="M1128.6 1276 V1320 L839 1372"/>
<path d="M1386.8 1276 V1320 L1121 1372"/>
<path d="M1435.6 1276 V1320 L1403 1372"/>
<path d="M1462.3 1276 V1320 L1685 1372"/>
<path d="M1799.6 1276 V1320 L1967 1372"/>
</g>
<text x="206" y="475.9" font-size="23.5" text-anchor="end" letter-spacing="0.6">0.20</text>
<text x="206" y="525.3" font-size="23.5" text-anchor="end" letter-spacing="0.6">0.15</text>
<text x="206" y="574.4" font-size="23.5" text-anchor="end" letter-spacing="0.6">0.10</text>
<text x="206" y="623.8" font-size="23.5" text-anchor="end" letter-spacing="0.6">0.05</text>
<text x="201" y="663.3" font-size="23.5" text-anchor="end">0</text>
<text x="206" y="714.4" font-size="23.5" text-anchor="end">8</text>
<text x="206" y="758.9" font-size="23.5" text-anchor="end">6</text>
<text x="206" y="803.4" font-size="23.5" text-anchor="end">4</text>
<text x="206" y="847.9" font-size="23.5" text-anchor="end">2</text>
<text x="206" y="882.4" font-size="23.5" text-anchor="end">0</text>
<text x="207.5" y="933.9" font-size="23.5" text-anchor="end" letter-spacing="0.6">0.12</text>
<text x="207.5" y="980.4" font-size="23.5" text-anchor="end" letter-spacing="0.6">0</text>
<text x="207.5" y="1030.4" font-size="23.5" text-anchor="end" letter-spacing="0.6">0.2</text>
<text x="207.5" y="1076.9" font-size="23.5" text-anchor="end" letter-spacing="0.6">0</text>
<text x="207.5" y="1118.4" font-size="23.5" text-anchor="end" letter-spacing="0.6">0.2</text>
<text x="207.5" y="1173.4" font-size="23.5" text-anchor="end" letter-spacing="0.6">0</text>
<text x="207.5" y="1219.3" font-size="23.5" text-anchor="end" letter-spacing="0.6">0.15</text>
<text x="207.5" y="1269.4" font-size="23.5" text-anchor="end" letter-spacing="0.6">0</text>
<text transform="translate(85.3 557) rotate(-90)" font-size="38.4" text-anchor="middle">Cortical</text>
<text transform="translate(128 562) rotate(-90)" font-size="38.4" text-anchor="middle">activity</text>
<text transform="translate(88 782.7) rotate(-90)" font-size="38.4" text-anchor="middle">Motor</text>
<text transform="translate(131 773) rotate(-90)" font-size="38.4" text-anchor="middle">activity</text>
<text x="93.7" y="945.2" font-size="36" text-anchor="middle">M1,M2</text>
<text x="92" y="1048.2" font-size="36" text-anchor="middle">HL,FL,T</text>
<text x="93.6" y="1137.3" font-size="36" text-anchor="middle">barrel</text>
<text x="93.1" y="1231" font-size="36" text-anchor="middle">V1,V2</text>
<text x="214.6" y="1306.2" font-size="35.7" text-anchor="middle">0</text>
<text x="512.3" y="1306.2" font-size="35.7" text-anchor="middle">100</text>
<text x="810" y="1306.2" font-size="35.7" text-anchor="middle">200</text>
<text x="1107.7" y="1306.2" font-size="35.7" text-anchor="middle">300</text>
<text x="1405.4" y="1306.2" font-size="35.7" text-anchor="middle">400</text>
<text x="1703.1" y="1306.2" font-size="35.7" text-anchor="middle">500</text>
<text x="2000.8" y="1306.2" font-size="35.7" text-anchor="middle">600</text>
<text x="1108.6" y="1353.5" font-size="35.7" text-anchor="middle" letter-spacing="0.85">Time (s)</text>
<text x="1091" y="487.4" font-size="35.4" font-weight="bold" fill="#231f20">active motor state</text>
<text x="1472.6" y="486.8" font-size="35.4" font-weight="bold" fill="#231f20">quiet motor state</text></g>
<g id="panel_d"><defs><g id="hemiS" fill="none" stroke="#fff"><path vector-effect="non-scaling-stroke" stroke-width="1.25" stroke-dasharray="4.4 2.4" d="M1190 145 L1100 110 L960 72 L840 95 L740 110 L690 150 L600 215 L520 260 L440 310 L400 370 L340 470 L290 570 L240 670 L200 770 L160 870 L120 960 L90 1080 L80 1200 L95 1320 L105 1420 L140 1490 L190 1590 L250 1700 L290 1760 L370 1790 L470 1810 L600 1855 L700 1820 L800 1770 L960 1690 L1040 1650 L1160 1565 L1185 1540 M490 320 L540 380 L600 440 L650 490 L700 545 L760 605 L810 660 L860 715 L910 770 L950 850 L980 920 L1000 1000 L960 1060 L920 1120 L850 1135 L760 1135 L700 1090 L690 1000 L690 910 M430 610 L425 560 L420 500 L545 500 L575 560 L580 660 L580 760 L520 720 L470 660 L430 610 M340 1090 L310 1100 L285 1060 L290 900 L290 690 L310 630 L360 595 L400 640 L450 700 L500 770 L540 830 L580 900 L600 940 M610 600 L660 640 L720 700 L770 760 L760 800 L730 840 L680 860 L630 830 L615 800 L610 600 M830 800 L880 830 L930 880 L940 930 L890 980 L800 1000 L750 950 L745 900 L790 840 L830 800 M350 1010 L370 940 L430 895 L510 870 L570 900 L600 940 L625 1000 L625 1110 L600 1190 L560 1250 L480 1300 L400 1290 L360 1200 L330 1130 L340 1050 L350 1010 M610 1180 L1000 1180 M600 1185 L540 1250 M385 1310 L385 1500 L360 1580 L355 1790 M975 1310 L985 1530 L1010 1570 L1080 1590 L1160 1560 M135 1230 L180 1190 L240 1175 L280 1240 L330 1310 L370 1380 L300 1440 L240 1490 L170 1500 L135 1440 L135 1230 M1040 1100 L1010 1190 L995 1250 L970 1300"/><path vector-effect="non-scaling-stroke" stroke-width="1.0" stroke-dasharray="2.8 2.0" d="M1160 145 L1160 1560 M1184 145 L1184 1560 M740 180 L820 255 L880 300 L940 350 L1000 405 L1020 480 L1030 560 L1040 640 L1055 720 L1075 800 L1100 870 L1120 940 M1150 920 L1110 960 L1070 1020 L1030 1060 M740 1310 L640 1360 L590 1410 L550 1480 L500 1600 L480 1760 M770 1370 L810 1450 L840 1510 L880 1580 L920 1700"/><path vector-effect="non-scaling-stroke" stroke-width="1.9" stroke-dasharray="4.4 2.4" d="M400 1300 L980 1300"/></g><g id="atlasS"><use href="#hemiS" transform="translate(6.4 2.6) scale(0.1046)"/><use href="#hemiS" transform="translate(270 2.6) scale(-0.1046 0.1046)"/></g></defs>
<g transform="translate(137 1371.8)">
<rect x="0" y="0" width="276.3" height="203.2" fill="#000"/>
<use href="#atlasS"/>
<g fill="#fff"><ellipse cx="96.1" cy="88.4" rx="7.7" ry="6.2" transform="rotate(10 96.1 88.4)"/><ellipse cx="181.7" cy="104.3" rx="6" ry="6"/><ellipse cx="240.1" cy="76.8" rx="4.3" ry="7.2" transform="rotate(-35 240.1 76.8)"/></g>
<text x="14.3" y="186.3" font-size="37.3" fill="#fff">fr 460</text>
</g>
<g transform="translate(419 1371.8)">
<rect x="0" y="0" width="276.3" height="203.2" fill="#000"/>
<use href="#atlasS"/>
<g fill="#fff"><ellipse cx="79.6" cy="79.9" rx="9.2" ry="8.8"/><ellipse cx="74" cy="73" rx="5" ry="5"/><ellipse cx="91.2" cy="101.2" rx="4.2" ry="6.5" transform="rotate(-30 91.2 101.2)"/><ellipse cx="207.8" cy="170.2" rx="11" ry="11"/><ellipse cx="205" cy="163" rx="7" ry="8"/><ellipse cx="213" cy="176" rx="7" ry="6"/></g>
<text x="14.5" y="183.2" font-size="37.3" fill="#fff">fr 1380</text>
</g>
<g transform="translate(701.2 1371.8)">
<rect x="0" y="0" width="276.3" height="203.2" fill="#000"/>
<use href="#atlasS"/>
<g fill="#fff"><ellipse cx="83" cy="105.2" rx="4.8" ry="6.2" transform="rotate(20 83 105.2)"/><ellipse cx="185.7" cy="104.6" rx="6.3" ry="4.6" transform="rotate(-20 185.7 104.6)"/></g>
<text x="15.2" y="187.2" font-size="37.3" fill="#fff">fr 1536</text>
</g>
<g transform="translate(983.2 1371.8)">
<rect x="0" y="0" width="276.3" height="203.2" fill="#000"/>
<use href="#atlasS"/>
<g fill="#fff"><ellipse cx="103.6" cy="105.2" rx="5.6" ry="7.2" transform="rotate(-30 103.6 105.2)"/><polygon points="146.6,126.6 154.9,127 159.5,139.2 161.6,151.4 159.5,161 154.4,163.1 146.6,156.4" stroke="#fff" stroke-width="2" stroke-linejoin="round"/><ellipse cx="203" cy="150.8" rx="3.4" ry="4.6" transform="rotate(20 203 150.8)"/></g>
<text x="14.3" y="184.8" font-size="37.3" fill="#fff">fr 1966</text>
</g>
<g transform="translate(1264.4 1371.8)">
<rect x="0" y="0" width="276.3" height="203.2" fill="#000"/>
<use href="#atlasS"/>
<g fill="#fff"><ellipse cx="25.8" cy="102.1" rx="3.4" ry="10.6" transform="rotate(5 25.8 102.1)"/><ellipse cx="48" cy="101.2" rx="4.6" ry="3.8"/><ellipse cx="56.5" cy="126.4" rx="9" ry="6.7" transform="rotate(-10 56.5 126.4)"/></g>
<text x="13.4" y="186.9" font-size="37.3" fill="#fff">fr 2051</text>
</g>
<g transform="translate(1546.2 1371.8)">
<rect x="0" y="0" width="276.3" height="203.2" fill="#000"/>
<use href="#atlasS"/>
<g fill="#fff"><ellipse cx="57.1" cy="110.3" rx="4.6" ry="5"/><ellipse cx="100.3" cy="112.4" rx="7.2" ry="6.5" transform="rotate(20 100.3 112.4)"/><ellipse cx="55.6" cy="127" rx="4.4" ry="3.6" transform="rotate(-20 55.6 127)"/><ellipse cx="218.2" cy="122.2" rx="4.4" ry="4.6"/><ellipse cx="81.1" cy="169" rx="5.5" ry="5.8"/></g>
<text x="13.4" y="42" font-size="37.3" fill="#fff">fr 2098</text>
</g>
<g transform="translate(1827.6 1371.8)">
<rect x="0" y="0" width="276.3" height="203.2" fill="#000"/>
<use href="#atlasS"/>
<g fill="#fff"><polygon points="31.1,82.5 36.5,70.3 42.2,68.2 48.2,74.8 44.8,80.3 35.2,83" stroke="#fff" stroke-width="2" stroke-linejoin="round"/><ellipse cx="100.6" cy="95.7" rx="6.7" ry="9.7"/><ellipse cx="178.4" cy="98.2" rx="4.8" ry="10.6"/><ellipse cx="178.4" cy="92" rx="5.2" ry="5"/><ellipse cx="233.7" cy="77.5" rx="6.7" ry="3.8" transform="rotate(-20 233.7 77.5)"/><polygon points="37.2,142.7 42.7,135.6 49.8,133.5 54.9,139.7 58,154.4 64,163.5 64,170.6 57.4,172.3 48.8,167.6 42.7,161.5 35.7,155.4 35,148.3" stroke="#fff" stroke-width="2" stroke-linejoin="round"/><polygon points="117.2,132.1 122.8,128 126.4,132.1 127,142.2 123.3,151.4 121.8,158.5 116.7,162.5 111.6,160 110.1,148.3 113.2,139.2" stroke="#fff" stroke-width="2" stroke-linejoin="round"/><ellipse cx="85.7" cy="142.2" rx="3.7" ry="4.5"/><ellipse cx="109.7" cy="170.5" rx="7.6" ry="3" transform="rotate(-10 109.7 170.5)"/></g>
<text x="14.6" y="42" font-size="37.3" fill="#fff">fr 2661</text>
</g></g>
<g id="panel_e"><path d="M184.2 1717.9 V1937.3 M220.5 1717.9 V1937.3 M256.9 1717.9 V1937.3 M293.2 1717.9 V1937.3 M329.6 1717.9 V1937.3 M147 1893.4 H366.8 M147 1849.5 H366.8 M147 1805.7 H366.8 M147 1761.8 H366.8" stroke="#777" stroke-width="1.1" stroke-dasharray="1.1 4.2" fill="none"/>
<path d="M414.2 1717.9 V1937.3 M450.5 1717.9 V1937.3 M486.9 1717.9 V1937.3 M523.2 1717.9 V1937.3 M559.6 1717.9 V1937.3 M377 1893.4 H596.7 M377 1849.5 H596.7 M377 1805.7 H596.7 M377 1761.8 H596.7" stroke="#777" stroke-width="1.1" stroke-dasharray="1.1 4.2" fill="none"/>
<path d="M184.7 1963.6 V2182.3 M221 1963.6 V2182.3 M257.4 1963.6 V2182.3 M293.7 1963.6 V2182.3 M330.1 1963.6 V2182.3 M147.3 2138.6 H367.4 M147.3 2094.8 H367.4 M147.3 2051.1 H367.4 M147.3 2007.3 H367.4" stroke="#777" stroke-width="1.1" stroke-dasharray="1.1 4.2" fill="none"/>
<path d="M414.2 1963.6 V2182.3 M450.5 1963.6 V2182.3 M486.9 1963.6 V2182.3 M523.2 1963.6 V2182.3 M559.6 1963.6 V2182.3 M377 2138.6 H596.7 M377 2094.8 H596.7 M377 2051.1 H596.7 M377 2007.3 H596.7" stroke="#777" stroke-width="1.1" stroke-dasharray="1.1 4.2" fill="none"/>
<polygon points="377,1936.6 378.4,1934.4 379.7,1933.7 381.1,1932.2 382.5,1932 383.9,1929.6 385.2,1928.6 386.6,1927.9 388,1927.1 389.4,1924.9 390.7,1925.1 392.1,1922.5 393.5,1922.5 394.9,1921.6 396.2,1919.8 397.6,1919 399,1917.9 400.3,1916.6 401.7,1914.6 403.1,1913.7 404.5,1912 405.8,1912.3 407.2,1910.2 408.6,1908.7 410,1907.7 411.3,1907.4 412.7,1905.3 414.1,1904.8 415.4,1904.4 416.8,1902.1 418.2,1901.9 419.6,1900 420.9,1899.4 422.3,1898 423.7,1896.9 425.1,1895.8 426.4,1895.4 427.8,1892.8 429.2,1892.6 430.6,1891.3 431.9,1889.8 433.3,1888.6 434.7,1888 436,1886.8 437.4,1886.2 438.8,1884 440.2,1883.2 441.5,1881.9 442.9,1881 444.3,1880.3 445.7,1880 447,1878.1 448.4,1877.1 449.8,1876.3 451.1,1874.9 452.5,1873.7 453.9,1873.6 455.3,1872.3 456.6,1870.2 458,1869.2 459.4,1869 460.8,1867.3 462.1,1867.3 463.5,1865.1 464.9,1865.1 466.3,1863.7 467.6,1862.9 469,1861.9 470.4,1860 471.7,1859.6 473.1,1859 474.5,1857.4 475.9,1856.9 477.2,1855.2 478.6,1854 480,1854 481.4,1852.8 482.7,1851.7 484.1,1849.9 485.5,1849.7 486.9,1847.7 488.2,1849.7 489.6,1850.4 491,1851.5 492.3,1852.9 493.7,1852.5 495.1,1854.5 496.5,1855.5 497.8,1855.8 499.2,1857.6 500.6,1857.7 502,1858.8 503.3,1860.2 504.7,1860.8 506.1,1862 507.4,1863.6 508.8,1864.9 510.2,1865.6 511.6,1867.2 512.9,1867.9 514.3,1868.9 515.7,1869 517.1,1871.2 518.4,1871 519.8,1873.1 521.2,1873.6 522.6,1874.3 523.9,1875.5 525.3,1877.2 526.7,1878.6 528,1880 529.4,1879.7 530.8,1881 532.2,1882 533.5,1883.9 534.9,1884.1 536.3,1885.1 537.7,1887.5 539,1888.7 540.4,1889.8 541.8,1889.8 543.1,1891.6 544.5,1892 545.9,1893.5 547.3,1895.4 548.6,1895.2 550,1896.2 551.4,1898.4 552.8,1898.6 554.1,1900 555.5,1902 556.9,1903.3 558.3,1902.9 559.6,1905.4 561,1906.4 562.4,1907.7 563.7,1908.4 565.1,1908.7 566.5,1910.9 567.9,1912.3 569.2,1913.5 570.6,1913.2 572,1914.9 573.4,1916.6 574.7,1916.7 576.1,1917.8 577.5,1920.2 578.8,1920.1 580.2,1921.7 581.6,1923.6 583,1924.6 584.3,1926.2 585.7,1925.9 587.1,1927.6 588.5,1928.3 589.8,1930.5 591.2,1931.6 592.6,1931.9 594,1933.9 595.3,1934.7 596.7,1936.4 596.7,1937.3 595.3,1937.3 594,1936.6 592.6,1935.2 591.2,1935 589.8,1933.1 588.5,1932.2 587.1,1931.6 585.7,1930.2 584.3,1928.9 583,1927.8 581.6,1927.2 580.2,1926.4 578.8,1925.2 577.5,1924.2 576.1,1922.4 574.7,1922.7 573.4,1920.2 572,1919.8 570.6,1918.5 569.2,1917 567.9,1917 566.5,1915.7 565.1,1914.4 563.7,1914.4 562.4,1913.3 561,1912 559.6,1910.1 558.3,1909.4 556.9,1908.1 555.5,1908.1 554.1,1905.8 552.8,1904.7 551.4,1904.9 550,1903.4 548.6,1902.5 547.3,1901 545.9,1900 544.5,1899.2 543.1,1898.6 541.8,1897.9 540.4,1897 539,1894.6 537.7,1894.5 536.3,1894 534.9,1892.5 533.5,1891.1 532.2,1890.2 530.8,1889.6 529.4,1888 528,1886.9 526.7,1886.8 525.3,1886.3 523.9,1884.8 522.6,1883.3 521.2,1883.1 519.8,1881.2 518.4,1881.1 517.1,1879.4 515.7,1878 514.3,1878.4 512.9,1876.8 511.6,1876.1 510.2,1874.4 508.8,1874.3 507.4,1872.8 506.1,1872.1 504.7,1871.9 503.3,1869.7 502,1870.1 500.6,1867.7 499.2,1866.7 497.8,1866.4 496.5,1866.3 495.1,1865.3 493.7,1864.4 492.3,1862.6 491,1862.2 489.6,1861.2 488.2,1860.5 486.9,1859.3 485.5,1861 484.1,1861.2 482.7,1862.3 481.4,1863.3 480,1863 478.6,1865.2 477.2,1865.2 475.9,1867.2 474.5,1867 473.1,1868.2 471.7,1869.3 470.4,1870.2 469,1870.8 467.6,1872.2 466.3,1872.4 464.9,1874.2 463.5,1874.5 462.1,1875.1 460.8,1876.2 459.4,1878.3 458,1879.2 456.6,1880.2 455.3,1880.8 453.9,1881.2 452.5,1882.5 451.1,1883.7 449.8,1884.3 448.4,1885.5 447,1886 445.7,1888 444.3,1888.3 442.9,1889.4 441.5,1890.8 440.2,1891.9 438.8,1891.6 437.4,1893.5 436,1894.3 434.7,1896.1 433.3,1895.9 431.9,1897.4 430.6,1899.1 429.2,1898.9 427.8,1900.5 426.4,1901.7 425.1,1901.7 423.7,1903.3 422.3,1904.9 420.9,1905.4 419.6,1906.8 418.2,1907.6 416.8,1908.4 415.4,1909.2 414.1,1910.7 412.7,1912.2 411.3,1912.8 410,1913.9 408.6,1914.6 407.2,1916.1 405.8,1916.5 404.5,1918.4 403.1,1918.3 401.7,1920 400.3,1920.2 399,1921.9 397.6,1922.6 396.2,1924 394.9,1924.6 393.5,1926 392.1,1927 390.7,1928.3 389.4,1928.5 388,1931 386.6,1931.7 385.2,1931.6 383.9,1933.3 382.5,1933.7 381.1,1935.9 379.7,1936.4 378.4,1937.2 377,1937.3" fill="#0b7dff"/>
<polygon points="147.3,2179.9 148.7,2180.4 150.1,2178.3 151.4,2177.7 152.8,2176.9 154.2,2176.1 155.6,2175.4 156.9,2174.1 158.3,2172.9 159.7,2172.8 161.1,2172.6 162.4,2171 163.8,2170.3 165.2,2169.2 166.6,2168.8 167.9,2167.8 169.3,2166.7 170.7,2165.6 172.1,2164.4 173.4,2163.8 174.8,2162.9 176.2,2162.8 177.6,2161 178.9,2160.5 180.3,2160.1 181.7,2159.3 183.1,2158.4 184.4,2157.8 185.8,2156.2 187.2,2155.9 188.6,2154.9 189.9,2154.9 191.3,2153.3 192.7,2152.2 194.1,2151.4 195.4,2150.6 196.8,2150.5 198.2,2149.5 199.6,2149.3 200.9,2148.3 202.3,2147.3 203.7,2146.3 205.1,2145.4 206.5,2144.9 207.8,2144.4 209.2,2144.3 210.6,2143.8 212,2141.9 213.3,2142.2 214.7,2141.2 216.1,2141.1 217.5,2140.2 218.8,2139.7 220.2,2139.1 221.6,2138.5 223,2136.6 224.3,2136.9 225.7,2136 227.1,2134.4 228.5,2135.3 229.8,2133.7 231.2,2133.9 232.6,2133.5 234,2131.7 235.3,2130.9 236.7,2130.4 238.1,2130.4 239.5,2129.6 240.8,2129.9 242.2,2128.1 243.6,2128 245,2127.6 246.3,2126.4 247.7,2126.4 249.1,2126.9 250.5,2126.2 251.8,2125.8 253.2,2125.3 254.6,2124.1 256,2123 257.4,2123.6 258.7,2124.1 260.1,2123.9 261.5,2124.3 262.9,2125.2 264.2,2126.4 265.6,2126.2 267,2126.2 268.4,2127.8 269.7,2128.1 271.1,2128.2 272.5,2129 273.9,2129.7 275.2,2129.1 276.6,2130.5 278,2130.8 279.4,2131.7 280.7,2132.6 282.1,2132.2 283.5,2133.3 284.9,2133.8 286.2,2133.8 287.6,2135.9 289,2136.4 290.4,2135.9 291.7,2137.9 293.1,2137.9 294.5,2138.9 295.9,2139.7 297.2,2139.9 298.6,2141.1 300,2141.6 301.4,2141.9 302.7,2142.1 304.1,2143.8 305.5,2144.6 306.9,2144.4 308.2,2145 309.6,2145.8 311,2146.4 312.4,2147.8 313.8,2147.8 315.1,2149 316.5,2149 317.9,2149.8 319.3,2151.6 320.6,2152.1 322,2153 323.4,2153 324.8,2153.9 326.1,2155.4 327.5,2156.6 328.9,2157.5 330.3,2157 331.6,2158.2 333,2159.6 334.4,2159.8 335.8,2161 337.1,2162.3 338.5,2161.8 339.9,2164 341.3,2163.9 342.6,2164.4 344,2165.6 345.4,2165.9 346.8,2167.5 348.1,2168.5 349.5,2169.1 350.9,2170.6 352.3,2171 353.6,2171.5 355,2172.4 356.4,2172.8 357.8,2174.1 359.1,2174.9 360.5,2176.6 361.9,2177.2 363.3,2177.2 364.6,2179.6 366,2179.4 367.4,2180.4 367.4,2182.3 366,2182.3 364.6,2182.3 363.3,2182.3 361.9,2181.7 360.5,2181 359.1,2180.7 357.8,2179.7 356.4,2178.5 355,2178.1 353.6,2178.2 352.3,2176.7 350.9,2176.2 349.5,2176.2 348.1,2174.2 346.8,2173.7 345.4,2174.1 344,2172.8 342.6,2172.3 341.3,2171.3 339.9,2171.1 338.5,2170.8 337.1,2169.9 335.8,2169.2 334.4,2168.8 333,2167.5 331.6,2166.7 330.3,2167.5 328.9,2165.4 327.5,2165.3 326.1,2165.6 324.8,2163.6 323.4,2163.8 322,2163.3 320.6,2162.1 319.3,2161.4 317.9,2161.8 316.5,2161.2 315.1,2160.1 313.8,2159.2 312.4,2159 311,2158.5 309.6,2158.4 308.2,2156.6 306.9,2157.6 305.5,2156.9 304.1,2155.2 302.7,2155.1 301.4,2154.7 300,2154.3 298.6,2154.1 297.2,2153.9 295.9,2152.4 294.5,2152.4 293.1,2151.7 291.7,2151.2 290.4,2151.1 289,2150.1 287.6,2150.2 286.2,2149.3 284.9,2148.7 283.5,2149.3 282.1,2148 280.7,2147.1 279.4,2147.4 278,2146.2 276.6,2146.6 275.2,2146.5 273.9,2146.4 272.5,2145.6 271.1,2145 269.7,2144.2 268.4,2143.8 267,2143.6 265.6,2143 264.2,2142.6 262.9,2143.1 261.5,2142.3 260.1,2142.9 258.7,2142.2 257.4,2141.7 256,2142.9 254.6,2143.2 253.2,2142.9 251.8,2142.5 250.5,2142.6 249.1,2143.8 247.7,2143.9 246.3,2144 245,2144.1 243.6,2144.9 242.2,2144.8 240.8,2145.7 239.5,2145.9 238.1,2146.1 236.7,2147.3 235.3,2147.8 234,2148.2 232.6,2148.1 231.2,2148.3 229.8,2149.4 228.5,2149.2 227.1,2149.4 225.7,2149.6 224.3,2151.1 223,2150.8 221.6,2151.4 220.2,2152.6 218.8,2153.5 217.5,2153.5 216.1,2153.5 214.7,2154.6 213.3,2155.3 212,2154.8 210.6,2155.8 209.2,2156.9 207.8,2156.5 206.5,2156.7 205.1,2157.4 203.7,2158.8 202.3,2158.3 200.9,2160.3 199.6,2159.7 198.2,2160.9 196.8,2161.3 195.4,2162.2 194.1,2162.2 192.7,2162.7 191.3,2163.1 189.9,2164 188.6,2164.8 187.2,2166.1 185.8,2166 184.4,2167.3 183.1,2167.8 181.7,2168.6 180.3,2168.6 178.9,2169.5 177.6,2169.2 176.2,2171.2 174.8,2171.5 173.4,2172.3 172.1,2172.8 170.7,2172.5 169.3,2174.4 167.9,2173.7 166.6,2174.1 165.2,2175.7 163.8,2176.8 162.4,2176.6 161.1,2176.7 159.7,2177.8 158.3,2178.9 156.9,2180.3 155.6,2179.9 154.2,2180.2 152.8,2181.6 151.4,2181.7 150.1,2182.3 148.7,2182.3 147.3,2182.3" fill="#0b7dff"/>
<polygon points="377,2181.1 378.4,2179.9 379.7,2178.6 381.1,2178.7 382.5,2177.5 383.9,2175.4 385.2,2174.8 386.6,2174.2 388,2173.4 389.4,2172.7 390.7,2171.6 392.1,2170.6 393.5,2170.4 394.9,2168.7 396.2,2168.1 397.6,2167.2 399,2166.9 400.3,2166 401.7,2164.4 403.1,2164.8 404.5,2162.6 405.8,2162.3 407.2,2161.7 408.6,2161.1 410,2159.9 411.3,2158.9 412.7,2157.9 414.1,2157.3 415.4,2156.2 416.8,2155.4 418.2,2154.9 419.6,2153.9 420.9,2154 422.3,2152.3 423.7,2152.7 425.1,2151.4 426.4,2150.9 427.8,2149.2 429.2,2148.8 430.6,2147.9 431.9,2146.9 433.3,2146.8 434.7,2146.4 436,2145.2 437.4,2145.1 438.8,2143.7 440.2,2143.9 441.5,2142.8 442.9,2141.1 444.3,2141.1 445.7,2140.2 447,2139.6 448.4,2138.3 449.8,2138.5 451.1,2138.1 452.5,2136.3 453.9,2136.4 455.3,2135.9 456.6,2135.9 458,2134.3 459.4,2133.7 460.8,2133 462.1,2132.4 463.5,2132.9 464.9,2131.3 466.3,2131.4 467.6,2130.2 469,2130 470.4,2129.5 471.7,2129 473.1,2127.7 474.5,2127.5 475.9,2127.4 477.2,2126.1 478.6,2126.6 480,2125.3 481.4,2125.4 482.7,2124.1 484.1,2123.6 485.5,2123.9 486.9,2122.6 488.2,2124.1 489.6,2124.1 491,2124.1 492.3,2125.6 493.7,2125.1 495.1,2125.6 496.5,2127.2 497.8,2126.7 499.2,2127.9 500.6,2128.3 502,2128.1 503.3,2130.1 504.7,2129.2 506.1,2130.5 507.4,2130.3 508.8,2131.2 510.2,2131.9 511.6,2133.1 512.9,2133.8 514.3,2133.8 515.7,2134.1 517.1,2134.5 518.4,2135.1 519.8,2135.8 521.2,2137.9 522.6,2138.3 523.9,2138.1 525.3,2139.2 526.7,2139.5 528,2140.8 529.4,2141.1 530.8,2142 532.2,2142.4 533.5,2143.7 534.9,2143.2 536.3,2144.1 537.7,2145.1 539,2146.8 540.4,2147.2 541.8,2147.6 543.1,2147.8 544.5,2149.7 545.9,2150.4 547.3,2149.8 548.6,2152 550,2152.4 551.4,2153.1 552.8,2153.5 554.1,2154.9 555.5,2155.8 556.9,2155.7 558.3,2157.5 559.6,2157.8 561,2158 562.4,2158.8 563.7,2160.2 565.1,2160.9 566.5,2161.8 567.9,2162.6 569.2,2163.3 570.6,2164.9 572,2165.2 573.4,2165.2 574.7,2166.1 576.1,2167.9 577.5,2169 578.8,2169 580.2,2169.7 581.6,2170.6 583,2172.5 584.3,2173.5 585.7,2173.1 587.1,2175.1 588.5,2174.7 589.8,2177 591.2,2177.7 592.6,2177.7 594,2178.1 595.3,2179.3 596.7,2180.2 596.7,2182.3 595.3,2182.3 594,2182.3 592.6,2182.3 591.2,2182 589.8,2181.3 588.5,2179.6 587.1,2178.8 585.7,2178.1 584.3,2177.6 583,2177.6 581.6,2177 580.2,2176.5 578.8,2176.2 577.5,2175.4 576.1,2174.2 574.7,2174.1 573.4,2172.8 572,2172.9 570.6,2171.6 569.2,2171.4 567.9,2170 566.5,2170.1 565.1,2169.5 563.7,2168.3 562.4,2168.1 561,2167.1 559.6,2166.8 558.3,2165.5 556.9,2165.3 555.5,2164.9 554.1,2164 552.8,2163.4 551.4,2163.3 550,2162.2 548.6,2161.9 547.3,2161.9 545.9,2160 544.5,2159.6 543.1,2158.8 541.8,2159 540.4,2158.5 539,2157.6 537.7,2158 536.3,2156 534.9,2156.8 533.5,2156.2 532.2,2155.8 530.8,2154.3 529.4,2154.7 528,2154.3 526.7,2153 525.3,2153.4 523.9,2152.3 522.6,2151.5 521.2,2151.7 519.8,2151 518.4,2151 517.1,2150.2 515.7,2148.8 514.3,2148.7 512.9,2147.9 511.6,2147.9 510.2,2147.8 508.8,2147.9 507.4,2146.5 506.1,2147.3 504.7,2147 503.3,2146.5 502,2144.9 500.6,2144.9 499.2,2144.6 497.8,2144 496.5,2143.7 495.1,2143.4 493.7,2143.6 492.3,2142.7 491,2143.2 489.6,2141.9 488.2,2141.5 486.9,2141.7 485.5,2142.3 484.1,2141.9 482.7,2142.6 481.4,2142.7 480,2142.7 478.6,2143.6 477.2,2143.6 475.9,2143.9 474.5,2145.1 473.1,2144.3 471.7,2145.2 470.4,2145.9 469,2145.9 467.6,2146.3 466.3,2146.9 464.9,2148.1 463.5,2147.1 462.1,2148.6 460.8,2148.4 459.4,2149 458,2148.8 456.6,2150.1 455.3,2150.5 453.9,2150.1 452.5,2151.3 451.1,2151.5 449.8,2152.6 448.4,2152.7 447,2153.4 445.7,2153.9 444.3,2154.3 442.9,2154.5 441.5,2156 440.2,2156.4 438.8,2155.8 437.4,2156.7 436,2156.6 434.7,2157.2 433.3,2159.3 431.9,2159.8 430.6,2159.3 429.2,2159.4 427.8,2160 426.4,2161.7 425.1,2161.3 423.7,2162.9 422.3,2163.8 420.9,2162.9 419.6,2164.4 418.2,2164.4 416.8,2165.6 415.4,2166.8 414.1,2166.1 412.7,2168.1 411.3,2168.6 410,2169.2 408.6,2169.3 407.2,2169.6 405.8,2170.1 404.5,2171 403.1,2171.2 401.7,2171.7 400.3,2173.7 399,2174.1 397.6,2174.9 396.2,2175.5 394.9,2175.5 393.5,2175.5 392.1,2177 390.7,2176.8 389.4,2178.5 388,2179.4 386.6,2178.9 385.2,2180.1 383.9,2180.7 382.5,2181 381.1,2182.3 379.7,2182 378.4,2182.3 377,2182.3" fill="#0b7dff"/>
<g fill="none" stroke="#4d4d4d" stroke-width="2.4" stroke-linejoin="round">
<path d="M147.1 1933.9 L147.8 1932.5 L148.4 1933.9 L149.2 1933.3 L149.8 1932.2 L149.8 1931.4 L150.6 1931 L151.2 1929.8 L151.9 1929.3 L152.7 1928.6 L153.2 1927.1 L153.3 1926.2 L154.1 1927.1 L154.8 1930.3 L155.4 1930.3 L156.2 1932.2 L156.6 1932.2 L156.8 1930.6 L157.6 1931.1 L158.2 1931.1 L158.9 1929.1 L159.7 1930.3 L160 1928.8 L160.3 1929.9 L161.1 1927.8 L161.8 1927.9 L162.4 1929.4 L163.2 1930.5 L163.8 1929.2 L164.6 1928.9 L165.1 1929.8 L165.2 1929.5 L165.9 1927.9 L166.7 1927.9 L167.3 1927.9 L168.1 1927.4 L168.5 1927.1 L168.8 1925.9 L169.4 1924.1 L170.2 1922.3 L170.8 1921.2 L171.6 1919 L171.9 1918.5 L172.2 1917.1 L172.9 1918.9 L173.7 1917.8 L174.3 1917.7 L175.1 1916.2 L175.4 1916.8 L175.8 1918.2 L176.4 1917.9 L177.2 1916.1 L177.8 1916.7 L178.6 1917.8 L179.2 1917.9 L179.9 1918.6 L180.5 1917.5 L180.7 1917.5 L181.3 1919.3 L182.1 1919.6 L182.8 1919.4 L183.4 1920.9 L184.2 1922.4 L184.8 1923.1 L185.6 1922.9 L185.6 1923 L186.2 1923 L186.9 1921.4 L187.7 1921.7 L188.3 1922.9 L189 1921.9 L189.1 1921.7 L189.8 1920 L190.4 1919.9 L191.2 1919.3 L191.8 1918.1 L192.4 1916.8 L192.6 1916.6 L193.2 1917.1 L193.9 1917.6 L194.7 1918.7 L195.3 1918.3 L195.8 1918.5 L196.1 1917.5 L196.8 1915.3 L197.4 1911.7 L198.2 1909.3 L198.8 1908.5 L199.2 1906.6 L199.6 1906.3 L200.2 1901.8 L200.9 1897.8 L201.7 1893.7 L202 1892.9 L202.3 1891.1 L203.1 1888.8 L203.8 1884.8 L204.4 1881 L204.4 1881 L205.2 1881.2 L205.8 1878.8 L206.1 1879.3 L206.6 1876.1 L207.2 1872.4 L207.9 1866.6 L208.5 1862.9 L208.7 1862.9 L209.3 1862.9 L210.1 1864 L210.2 1864 L210.8 1869.1 L211.4 1871.5 L212.2 1878.3 L212.8 1883.2 L212.9 1882.7 L213.6 1882.9 L214.2 1881.6 L214.9 1880.9 L215.6 1879.3 L215.7 1879.2 L216.3 1874.8 L217.1 1870 L217.8 1864.5 L218 1864 L218.4 1866.2 L219.2 1867.4 L219.8 1868.4 L220.4 1870.8 L220.6 1870.6 L221.2 1869.5 L221.9 1868.1 L222.7 1867 L223.3 1866.4 L223.8 1865.7 L224.1 1866.7 L224.8 1868.9 L225.4 1870.7 L226.2 1871.7 L226.5 1874.2 L226.8 1874.5 L227.6 1876.9 L228.2 1880.4 L228.9 1883.5 L229.7 1885.8 L230 1886.1 L230.3 1888.3 L231.1 1890.8 L231.8 1891.8 L232.4 1895.7 L232.7 1895.7 L233.2 1895 L233.8 1891.9 L234.6 1890.1 L235.2 1888.4 L235.9 1888.7 L236.7 1885.8 L236.8 1886.1 L237.3 1883.1 L238.1 1882 L238.8 1878.8 L239.4 1875.7 L240.2 1873.4 L240.2 1874.2 L240.8 1873.2 L241.6 1871.1 L242.2 1870.2 L242.9 1870.1 L243.7 1868.3 L244.3 1866.8 L245.1 1866 L245.3 1865.6 L245.8 1862.6 L246.4 1860.8 L247.2 1858.1 L247.8 1854.7 L248.6 1851.7 L249.2 1850.9 L249.9 1847.1 L250.4 1845.2 L250.7 1843.1 L251.3 1839.9 L252.1 1836.3 L252.8 1830 L253.4 1825.8 L253.8 1824.7 L254.2 1818.8 L254.8 1809.1 L255.5 1797.5 L255.6 1796.1 L256.2 1743.1 L256.6 1718.1 L256.9 1748.1 L257.6 1797.3 L257.6 1798.5 L258.4 1808.8 L259.1 1822 L259.3 1824.7 L259.8 1828.2 L260.4 1831.7 L261.1 1835.1 L261.9 1840.4 L262.6 1844 L262.7 1845.2 L263.2 1847.5 L263.9 1849.7 L264.6 1853.3 L265.4 1854.6 L266.1 1858 L266.8 1862.6 L267.4 1865.1 L267.8 1865.7 L268.1 1865.7 L268.9 1868.3 L269.6 1868 L270.2 1870.8 L270.9 1871.5 L271.6 1871.8 L272.4 1872.5 L272.9 1874.2 L273.1 1873.3 L273.8 1878 L274.4 1878.2 L275.1 1882.7 L275.9 1885.6 L276.4 1886.1 L276.6 1886.8 L277.2 1887.4 L277.9 1890.8 L278.6 1892.7 L279.4 1893.6 L280.1 1894.8 L280.4 1895.7 L280.8 1894.3 L281.4 1891.8 L282.1 1889 L282.9 1887.7 L283.2 1886.1 L283.6 1884.7 L284.2 1881.6 L284.9 1878.9 L285.6 1877.9 L286.4 1874.5 L286.6 1874.2 L287.1 1872.7 L287.8 1870.1 L288.4 1869.3 L289.1 1867.2 L289.3 1865.7 L289.9 1865.2 L290.6 1866.7 L291.2 1868.1 L291.9 1870.9 L292.6 1871.4 L292.7 1870.8 L293.4 1868.6 L294.1 1866.3 L294.8 1865.5 L295.1 1863.9 L295.4 1866.9 L296.1 1871.7 L296.9 1874.7 L297.5 1879.3 L297.6 1880.3 L298.2 1880.7 L298.9 1881.1 L299.6 1883.2 L300.2 1882.7 L300.4 1881.3 L301.1 1877.7 L301.8 1871.2 L302.4 1866.6 L303 1863.9 L303.1 1864.9 L303.9 1862.7 L304.6 1863.7 L304.7 1862.9 L305.2 1867.1 L305.9 1872.6 L306.6 1876.1 L307.1 1879.3 L307.4 1879.2 L308.1 1879.7 L308.8 1881.9 L308.8 1881 L309.4 1884.7 L310.1 1889.1 L310.9 1892.4 L311.2 1893 L311.6 1894 L312.2 1898.5 L312.9 1900.9 L313.6 1904.2 L313.9 1906.6 L314.4 1907.1 L315.1 1911.6 L315.8 1913.9 L316.4 1916.4 L317.1 1917.6 L317.3 1918.5 L317.9 1918.6 L318.6 1918.6 L319.2 1917.2 L319.9 1917.4 L320.6 1916.1 L320.7 1916.8 L321.4 1916.7 L322.1 1918.2 L322.8 1920.9 L323.4 1921.1 L324.1 1921.9 L324.1 1923.1 L324.9 1922.1 L325.6 1921.8 L326.2 1923.3 L326.9 1923.6 L327.5 1923 L327.6 1921.6 L328.4 1922.5 L329.1 1920.3 L329.8 1919.6 L330.4 1920.9 L331.1 1917.9 L331.9 1917.7 L332.6 1918.9 L332.6 1917.5 L333.2 1917.2 L333.9 1916.3 L334.6 1916.4 L335.4 1916.5 L336.1 1917.7 L336.8 1915.9 L337.4 1917.9 L337.8 1916.8 L338.1 1916.7 L338.9 1918.6 L339.6 1918.8 L340.2 1917.5 L340.9 1917.8 L341.2 1918.5 L341.6 1919.6 L342.4 1920.4 L343.1 1923.6 L343.8 1923.8 L344.4 1925.4 L344.6 1927.1 L345.1 1928.8 L345.9 1927.5 L346.6 1928.9 L347.2 1929.1 L347.9 1929.3 L348 1929.8 L348.6 1928.5 L349.4 1930.6 L350.1 1930.6 L350.8 1930.5 L351.4 1928.1 L352.1 1928.2 L352.9 1929.1 L353.1 1928.8 L353.6 1930.4 L354.2 1930 L354.9 1931.1 L355.6 1931.7 L356.4 1931.4 L356.5 1932.2 L357.1 1931.5 L357.8 1929.9 L358.4 1928.6 L359.1 1927.2 L359.9 1926.6 L359.9 1927.1 L360.6 1929.2 L361.2 1928.9 L361.9 1930.5 L362.6 1931.5 L363.4 1933.3 L363.4 1932.2 L364.1 1932.3 L364.8 1932.5 L365.4 1933 L366.1 1933.9"/>
<path d="M377 1937 L377.7 1937 L378.4 1937 L379.1 1934.8 L379.8 1934.6 L380.5 1937 L381.2 1936.3 L381.9 1935.7 L382.6 1934.1 L383.3 1934.9 L384 1934.6 L384.7 1934.2 L385.4 1932.3 L386.1 1933 L386.8 1932.6 L387.5 1933.4 L388.2 1934.1 L388.9 1933.6 L389.6 1931.9 L390.3 1931.2 L391 1930.2 L391.7 1929.1 L392.4 1930.5 L392.4 1928.7 L393.1 1929.6 L393.8 1928.4 L394.5 1927.9 L395.2 1929 L395.9 1927 L396.6 1926.4 L397.3 1924.6 L398 1923.1 L398.7 1923.5 L399.4 1922.1 L400.1 1922.8 L400.8 1923.8 L401.5 1922 L402.2 1919.5 L402.6 1920.2 L402.9 1921.4 L403.6 1920.6 L404.3 1919.8 L405 1919.9 L405.7 1918.9 L406.4 1918.4 L407.1 1916.3 L407.8 1918.1 L408.5 1917.5 L409.2 1914.1 L409.9 1915.7 L410.6 1915 L411.3 1913.6 L412 1913.3 L412.7 1912.6 L413.4 1913.7 L414.1 1911.6 L414.8 1912.3 L415.5 1910 L416.2 1911.4 L416.2 1910 L416.9 1911.3 L417.6 1909.5 L418.3 1909.7 L419 1910.8 L419.7 1909.9 L420.4 1908.9 L421.1 1907.8 L421.8 1908 L422.5 1909.2 L423.1 1908.3 L423.2 1907.2 L423.9 1910.4 L424.6 1908.6 L425.3 1911.5 L426 1909.8 L426.7 1912.7 L427.4 1912.3 L428.1 1912.1 L428.8 1912.7 L429.5 1913.7 L429.9 1913.4 L430.2 1913.6 L430.9 1912.4 L431.6 1911.8 L432.3 1912.7 L433 1913.9 L433.7 1912.6 L434.4 1910.4 L435 1911.7 L435.1 1912.7 L435.8 1911.2 L436.5 1910.7 L437.2 1906.9 L437.9 1907.8 L438.6 1904.1 L439.3 1905.1 L440 1902.6 L440.1 1903.2 L440.7 1900.5 L441.4 1900.7 L442.1 1895.8 L442.8 1895.2 L443.5 1894.3 L443.5 1893 L444.2 1890 L444.9 1887.8 L445.6 1888.1 L446.3 1884.4 L446.9 1882.7 L447 1883.2 L447.7 1877.3 L448.4 1874.9 L449.1 1870.8 L449.8 1869.1 L450.4 1865.6 L450.5 1863.7 L451.2 1864.4 L451.9 1858.6 L452.6 1858.7 L453.3 1853.7 L454 1852.2 L454.7 1851.7 L454.8 1850.3 L455.4 1851.2 L456.1 1853.8 L456.8 1858.2 L457.2 1858.8 L457.5 1858.9 L458.2 1858.7 L458.9 1863.2 L459.6 1861.2 L460.3 1861.8 L460.6 1863.9 L461 1863.7 L461.7 1865.1 L462.4 1866 L463.1 1864.2 L463.8 1865.5 L464.5 1864.9 L465.2 1866.8 L465.7 1867.4 L465.9 1867.8 L466.6 1866 L467.3 1864.8 L468 1862.6 L468.7 1861.2 L469.1 1858.8 L469.4 1860.5 L470.1 1862.1 L470.8 1863.7 L471.5 1867.7 L472.2 1868.9 L472.5 1870.8 L472.9 1869.7 L473.6 1871.6 L474.3 1873.9 L475 1871.9 L475.7 1874.2 L475.9 1874.2 L476.4 1874.5 L477.1 1876 L477.8 1875.7 L478.5 1879.7 L479.2 1878.2 L479.4 1879.3 L479.9 1878.9 L480.6 1877.1 L481.3 1874.6 L482 1875.5 L482.7 1873 L482.8 1874.2 L483.4 1873.2 L484.1 1873.8 L484.8 1875 L485.5 1875.5 L486.2 1877.6 L486.2 1878.1 L486.9 1876.5 L487.6 1877.2 L488.3 1876 L489 1875.1 L489.6 1872.5 L489.7 1871.1 L490.4 1869.1 L491.1 1865.6 L491.8 1864 L492.5 1861.3 L493 1858.8 L493.2 1859.5 L493.9 1857.8 L494.6 1854.8 L495.3 1854 L496 1852.9 L496.4 1852 L496.7 1849.7 L497.4 1848.4 L498.1 1848.3 L498.8 1845.8 L499.5 1846.6 L499.8 1845.2 L500.2 1843.9 L500.9 1842.7 L501.6 1842.3 L502.3 1841.7 L503 1841 L503.2 1841.8 L503.7 1840.2 L504.4 1837.6 L505.1 1834.6 L505.8 1833.3 L506.5 1829.3 L506.6 1829.8 L507.2 1833.2 L507.9 1835.9 L508.6 1837.6 L509 1838.4 L509.3 1840.1 L510 1845.6 L510.7 1851.1 L511.4 1854.4 L511.8 1858.8 L512.1 1859.8 L512.8 1863 L513.5 1864.6 L514.2 1867.1 L514.9 1872.4 L515.2 1872.5 L515.6 1874.1 L516.3 1878.1 L517 1883.1 L517.7 1885.5 L518.4 1887.8 L518.6 1889.5 L519.1 1890.3 L519.8 1886.7 L520.5 1884 L521.2 1885 L521.9 1881.5 L522 1882.7 L522.6 1882.6 L523.3 1885.2 L524 1885.3 L524.7 1883.7 L525.4 1885.9 L525.4 1886.1 L526.1 1884.4 L526.8 1883.3 L527.5 1880.9 L528.2 1880.9 L528.8 1879.3 L528.9 1877.6 L529.6 1876.6 L530.3 1875.2 L531 1875.4 L531.7 1870.6 L532.2 1870.8 L532.4 1872.4 L533.1 1873.5 L533.8 1878 L534.5 1880.5 L535.2 1883.9 L535.6 1886.1 L535.9 1887.2 L536.6 1886.4 L537.3 1885.9 L538 1886.3 L538.7 1886.6 L539.4 1889.9 L540.1 1889.6 L540.8 1889.5 L540.8 1891.2 L541.5 1891.2 L542.2 1889.7 L542.9 1892.9 L543.6 1894.3 L544.3 1895 L545 1895.2 L545.7 1895.6 L545.9 1896.4 L546.4 1896.5 L547.1 1898.2 L547.8 1896.8 L548.5 1898.2 L549.2 1898.5 L549.9 1900.7 L550.6 1900.6 L551 1899.8 L551.3 1900.7 L552 1899 L552.7 1895.6 L553.4 1894 L554.1 1893.5 L554.4 1893 L554.8 1893.6 L555.5 1897 L556.2 1900.7 L556.9 1904.4 L557.6 1906 L557.8 1906.6 L558.3 1909.6 L559 1909.8 L559.7 1913.6 L560.4 1918.7 L561.1 1918.4 L561.2 1920.2 L561.8 1920.8 L562.5 1920.6 L563.2 1921.7 L563.9 1925.6 L564.6 1927 L564.6 1925.4 L565.3 1925.9 L566 1924 L566.7 1924.6 L567.4 1924.4 L568.1 1926 L568.8 1926 L569.5 1925.1 L569.8 1925.4 L570.2 1924.9 L570.9 1922.5 L571.6 1923.1 L572.3 1923.6 L573 1922 L573.7 1918.7 L574.4 1919.2 L574.9 1918.5 L575.1 1919.5 L575.8 1918.6 L576.5 1921.6 L577.2 1920.7 L577.9 1922.3 L578.3 1921.9 L578.6 1921.2 L579.3 1922.2 L580 1920.4 L580.7 1918.6 L581.4 1916 L581.7 1916.8 L582.1 1917.4 L582.8 1917.3 L583.5 1920.7 L584.2 1923.2 L584.9 1922.1 L585.1 1923.6 L585.6 1924.5 L586.3 1925.5 L587 1926.4 L587.7 1928.7 L588.4 1930.7 L589.1 1931 L589.8 1931.3 L590.2 1932.2 L590.5 1934 L591.2 1932.1 L591.9 1933.9 L592.6 1934 L593.3 1934.7 L594 1935.4 L594.7 1933.5 L595.4 1935.3 L596.1 1934.9 L596.7 1935.6"/>
<path d="M148.4 2181.2 L149.1 2179.6 L149.8 2180.4 L150.5 2179.2 L151.2 2179.7 L151.9 2179.3 L152.6 2176.3 L153.3 2175.6 L154 2178.7 L154.7 2175.7 L155.4 2175.1 L156.1 2177.9 L156.8 2175.1 L157.5 2176.2 L158.2 2174.1 L158.9 2174.4 L159.6 2171.7 L160.3 2173.3 L160.3 2172.7 L161 2174.1 L161.7 2172.4 L162.4 2173.1 L163.1 2172.5 L163.8 2169.6 L164.5 2172.5 L165.2 2171.5 L165.9 2170 L166.6 2168.6 L167.3 2172 L168 2170 L168.7 2170.9 L169.4 2171.4 L170.1 2170.4 L170.6 2169.3 L170.8 2170.9 L171.5 2167.9 L172.2 2169 L172.9 2166.7 L173.6 2168.2 L174.3 2167.2 L175 2163.1 L175.7 2162.6 L176.4 2162.2 L177.1 2164.8 L177.4 2162.5 L177.8 2162.2 L178.5 2163 L179.2 2161.6 L179.9 2162.5 L180.6 2162 L181.3 2161.8 L182 2162.9 L182.5 2162.5 L182.7 2163.1 L183.4 2165.4 L184.1 2165.4 L184.8 2167.4 L185.5 2168 L186.2 2169.5 L186.9 2169.1 L187.6 2167.8 L187.7 2169.3 L188.3 2170.9 L189 2171.3 L189.7 2171.1 L190.4 2169.6 L191.1 2170.2 L191.8 2168 L192.5 2170.8 L193.2 2169.6 L193.9 2168.4 L194.5 2169.3 L194.6 2167.3 L195.3 2170.4 L196 2170.7 L196.7 2166.4 L197.4 2169.2 L198.1 2167.1 L198.8 2165.6 L199.5 2165.9 L200.2 2167.6 L200.9 2167.7 L201.3 2165.9 L201.6 2162.9 L202.3 2163.4 L203 2158.7 L203.7 2159.6 L204.4 2155.8 L204.7 2155.6 L205.1 2156.1 L205.8 2154.5 L206.5 2150.3 L207.2 2150.3 L207.9 2145.2 L208.1 2145.4 L208.6 2141.6 L209.3 2141.1 L210 2135.8 L210.7 2133.7 L211.4 2131.9 L211.5 2131.8 L212.1 2131.7 L212.8 2129 L213.5 2127.8 L214.2 2130.7 L214.9 2127.6 L214.9 2128.4 L215.6 2131 L216.3 2131.5 L217 2129.9 L217.7 2131 L218.4 2131.8 L218.4 2131.8 L219.1 2131.6 L219.8 2130.7 L220.5 2129.9 L221.2 2129.4 L221.8 2128.4 L221.9 2130.4 L222.6 2129.2 L223.3 2129.6 L224 2131.6 L224.7 2130.1 L225.2 2131.8 L225.4 2131.6 L226.1 2136.7 L226.8 2136.8 L227.5 2139 L228.2 2138.7 L228.6 2142 L228.9 2142.9 L229.6 2146.4 L230.3 2146.8 L231 2152.2 L231.7 2155.1 L232 2155.6 L232.4 2154.1 L233.1 2157.3 L233.8 2157.3 L234.5 2158.9 L235.2 2158.2 L235.4 2159.1 L235.9 2159.5 L236.6 2158.9 L237.3 2155.1 L238 2154.5 L238.7 2156.5 L238.8 2155.7 L239.4 2157.4 L240.1 2153.9 L240.8 2154.5 L241.5 2154.7 L242.2 2153.2 L242.2 2153.9 L242.9 2153 L243.6 2152.4 L244.3 2152.3 L245 2153 L245.7 2152.2 L245.7 2151.2 L246.4 2150.2 L247.1 2150.5 L247.8 2145.8 L248.5 2146.8 L249.1 2145.4 L249.2 2146.2 L249.9 2142.9 L250.6 2141.1 L251.3 2142.3 L252 2138.4 L252.5 2138.6 L252.7 2136 L253.4 2133.6 L254.1 2131.3 L254.8 2125.2 L255.2 2125 L255.5 2119.3 L256.2 2108.1 L256.9 2097.6 L257.6 2079.9 L257.6 2081.8 L258.3 2096.9 L258.6 2104.4 L259 2111 L259.7 2116.7 L260 2121.5 L260.4 2117.9 L261.1 2114.7 L261.8 2111 L262 2107.9 L262.5 2112.5 L263.2 2118.5 L263.7 2124.9 L263.9 2124 L264.6 2128.8 L265.3 2130.3 L266 2136.1 L266.1 2135.2 L266.7 2137.9 L267.4 2136.4 L268.1 2138.2 L268.8 2141.9 L269.5 2142.6 L269.5 2142 L270.2 2144 L270.9 2142.7 L271.6 2142.5 L272.3 2143.9 L272.9 2145.4 L273 2146.8 L273.7 2145.2 L274.4 2146.2 L275.1 2147.2 L275.8 2147.9 L276.4 2148.8 L276.5 2148.7 L277.2 2152.4 L277.9 2150.4 L278.6 2151.2 L279.3 2156.7 L279.8 2155.7 L280 2157.5 L280.7 2158.4 L281.4 2156.5 L282.1 2159.2 L282.8 2159.6 L283.5 2156.9 L284.2 2159.7 L284.9 2159.1 L284.9 2160.5 L285.6 2158.8 L286.3 2157.2 L287 2155.3 L287.7 2154.6 L288.4 2153.2 L289.1 2151.5 L289.8 2152.9 L290 2152.2 L290.5 2151.2 L291.2 2153.3 L291.9 2149.8 L292.6 2153.4 L293.3 2152.3 L294 2153.1 L294.7 2152.8 L295.4 2152.6 L296.1 2151.1 L296.8 2148.4 L296.8 2150.5 L297.5 2151.8 L298.2 2149.4 L298.9 2150.2 L299.6 2151.9 L300.3 2151.5 L301 2151.2 L301.7 2153.7 L302.4 2152.4 L303.1 2151.4 L303.6 2152.2 L303.8 2150.7 L304.5 2151.3 L305.2 2147.5 L305.9 2146.7 L306.6 2142.7 L307.1 2142 L307.3 2141.4 L308 2145 L308.7 2148.3 L309.4 2147.6 L310.1 2152.4 L310.5 2152.2 L310.8 2155.1 L311.5 2156.7 L312.2 2158.9 L312.9 2157.4 L313.6 2162.2 L313.9 2162.5 L314.3 2164.6 L315 2162 L315.7 2163.9 L316.4 2164.8 L317.1 2166.9 L317.8 2167.4 L318.5 2168.5 L319 2169.3 L319.2 2170.4 L319.9 2166.5 L320.6 2166.3 L321.3 2166.1 L322 2165.6 L322.7 2164.9 L323.4 2168.5 L324.1 2167.5 L324.1 2165.9 L324.8 2165.2 L325.5 2168.2 L326.2 2168.6 L326.9 2169.7 L327.6 2171 L328.3 2173.5 L329 2174.4 L329.2 2174.4 L329.7 2173.9 L330.4 2173.4 L331.1 2174.1 L331.8 2173.4 L332.5 2175.5 L333.2 2176.4 L333.9 2175.1 L334.6 2173.9 L335.3 2174.5 L336 2175.6 L336.1 2176.1 L336.7 2176.2 L337.4 2176.5 L338.1 2174.2 L338.8 2175.6 L339.5 2174.4 L340.2 2173.1 L340.9 2172.3 L341.2 2172.7 L341.6 2173 L342.3 2174.5 L343 2173.7 L343.7 2175.5 L344.4 2175 L345.1 2174.5 L345.8 2176.3 L346.5 2177.6 L347.2 2175.3 L347.9 2177.4 L348 2177.8 L348.6 2177.6 L349.3 2179.7 L350 2180.1 L350.7 2177.7 L351.4 2180.1 L352.1 2179.8 L352.8 2177.6 L353.5 2178.6 L354.2 2177.2 L354.9 2180.4 L355.6 2179.8 L356.3 2180.9 L357 2180.6 L357.7 2180.2 L358.2 2179.5 L358.4 2180.6 L359.1 2180 L359.8 2178.1 L360.5 2180.4 L361.2 2178 L361.9 2178.7 L362.6 2181.6 L363.3 2178.5 L364 2178.9 L364.7 2179.1 L365.4 2182 L366.1 2179.7 L366.8 2181.2"/>
<path d="M377 2181.2 L377.7 2180 L378.4 2179.3 L379.1 2180.4 L379.8 2179.2 L380.5 2178.7 L381.2 2179.9 L381.9 2181.8 L382.6 2181.2 L383.3 2180.9 L384 2178.6 L384.7 2179.7 L385.4 2178.5 L386.1 2177.9 L386.8 2177.5 L387.5 2177.8 L388.2 2180.5 L388.9 2179.9 L389.6 2179.7 L390.3 2179.5 L391 2176.9 L391.7 2177.2 L392.4 2177.8 L392.4 2178.3 L393.1 2178.4 L393.8 2178.5 L394.5 2178.3 L395.2 2174.8 L395.9 2176.5 L396.6 2176.4 L397.3 2175.4 L398 2173.7 L398.7 2174.6 L399.4 2172.7 L400.1 2175.7 L400.8 2175.1 L401.5 2173.4 L402.2 2172.1 L402.6 2172.7 L402.9 2174 L403.6 2172 L404.3 2172.5 L405 2171.7 L405.7 2169.6 L406.4 2168.6 L407.1 2168.6 L407.8 2167.2 L408.5 2165.5 L409.2 2165.3 L409.4 2165.9 L409.9 2166.8 L410.6 2163.2 L411.3 2162.7 L412 2164.5 L412.7 2162.5 L413.4 2163 L414.1 2162.3 L414.8 2161.2 L415.5 2163.3 L416.2 2159.6 L416.2 2160.8 L416.9 2161.1 L417.6 2160.9 L418.3 2163.4 L419 2162.6 L419.7 2163.7 L420.4 2165.9 L421.1 2164.9 L421.4 2165.9 L421.8 2166.4 L422.5 2168.3 L423.2 2165.5 L423.9 2165.8 L424.6 2167 L425.3 2169.6 L426 2169.4 L426.5 2169.3 L426.7 2168.4 L427.4 2169.2 L428.1 2169.1 L428.8 2170.7 L429.5 2169.5 L430.2 2172.6 L430.9 2173.8 L431.6 2172.7 L431.6 2174.5 L432.3 2173.7 L433 2174.6 L433.7 2170.8 L434.4 2171.9 L435.1 2174.6 L435.8 2173.8 L436.5 2172.4 L437.2 2174.5 L437.9 2173.2 L438.4 2172.7 L438.6 2173.7 L439.3 2170.7 L440 2169.4 L440.7 2169.4 L441.4 2167.3 L442.1 2167.3 L442.8 2168.7 L443.5 2165.3 L443.5 2165.9 L444.2 2161.3 L444.9 2158.6 L445.6 2156.3 L446.3 2156 L446.9 2152.2 L447 2151.4 L447.7 2146.9 L448.4 2141.9 L449.1 2141.2 L449.8 2134.8 L450.4 2131.8 L450.5 2129.9 L451.2 2125.6 L451.9 2121.9 L452.6 2118.7 L453.1 2117.4 L453.3 2118.8 L454 2118.9 L454.7 2120.7 L455.4 2124.7 L455.5 2125 L456.1 2128.9 L456.8 2137.5 L457.2 2138.6 L457.5 2136.4 L458.2 2136.7 L458.9 2136.3 L459.6 2133.4 L460.3 2134.3 L460.6 2131.8 L461 2132.9 L461.7 2134.1 L462.4 2136.8 L463.1 2137.4 L463.8 2141.1 L464 2142 L464.5 2140 L465.2 2141.2 L465.9 2139.5 L466.6 2136.8 L467.3 2133.5 L467.4 2135.2 L468 2135.4 L468.7 2136.7 L469.4 2138 L470.1 2139.5 L470.8 2143.4 L470.8 2142 L471.5 2136.2 L472.2 2131.3 L472.9 2130.3 L473.6 2124.3 L474.2 2119.8 L474.3 2122.2 L475 2124.8 L475.7 2131.6 L475.9 2131.8 L476.4 2137.8 L477.1 2146.8 L477.6 2152.2 L477.8 2153.4 L478.5 2153.1 L479.2 2152.2 L479.9 2153.3 L480.6 2156.7 L481.1 2155.6 L481.3 2157.4 L482 2157.8 L482.7 2155.8 L483.4 2157.4 L484.1 2158.4 L484.5 2157.4 L484.8 2158 L485.5 2158.9 L486.2 2157.9 L486.9 2158.6 L487.6 2158.9 L488.3 2157.4 L488.6 2158.4 L489 2158.6 L489.7 2156.3 L490.4 2150.3 L491.1 2151.4 L491.3 2148.8 L491.8 2148.2 L492.5 2143.5 L493.2 2137.5 L493.9 2137.4 L494.6 2130.8 L494.7 2131.8 L495.3 2133.1 L496 2131.2 L496.7 2128 L497.4 2127.8 L498.1 2128.9 L498.1 2128.4 L498.8 2125.9 L499.5 2123.8 L500.2 2121.8 L500.9 2116.1 L501.5 2114.7 L501.6 2112.3 L502.3 2111.4 L503 2103.2 L503.7 2102.1 L504.4 2094.6 L504.9 2092.5 L505.1 2093.7 L505.8 2093.1 L506.5 2092.9 L507.2 2091.1 L507.3 2090.9 L507.9 2095.2 L508.6 2096 L509.3 2101.3 L510 2103.5 L510.1 2104.5 L510.7 2109.9 L511.4 2113.6 L512.1 2116.6 L512.8 2121 L513.5 2125 L513.5 2123.2 L514.2 2127.4 L514.9 2133.9 L515.6 2137.6 L516.3 2143.3 L516.9 2145.4 L517 2146.5 L517.7 2148.8 L518.4 2153.9 L518.6 2155.6 L519.1 2155.2 L519.8 2152.1 L520.5 2148 L521.2 2149.2 L521.9 2147 L522 2145.4 L522.6 2144.6 L523.3 2147.3 L524 2147.6 L524.7 2150.2 L525.4 2149.2 L526.1 2149.8 L526.8 2151.8 L527.1 2152.2 L527.5 2153.1 L528.2 2147.8 L528.9 2146 L529.6 2146.1 L530.3 2145.3 L531 2142 L531.7 2139.8 L532.2 2138.6 L532.4 2140.7 L533.1 2143.1 L533.8 2143.1 L534.5 2149.2 L535.2 2149.2 L535.6 2152.2 L535.9 2151.6 L536.6 2154.2 L537.3 2153 L538 2155 L538.7 2152.9 L539.4 2156.2 L540.1 2153.9 L540.8 2155.7 L540.8 2154.2 L541.5 2154.2 L542.2 2152.1 L542.9 2151.6 L543.6 2151.6 L544.3 2149.4 L545 2145.2 L545.7 2145 L545.9 2145.4 L546.4 2145.1 L547.1 2144.2 L547.8 2144.4 L548.5 2142.7 L549.2 2140.4 L549.3 2142 L549.9 2142.8 L550.6 2147.3 L551.3 2147.4 L552 2151.2 L552.7 2154.1 L552.7 2152.2 L553.4 2150.7 L554.1 2148.8 L554.8 2146.4 L555.5 2143.1 L556.1 2142 L556.2 2144 L556.9 2145 L557.6 2149.6 L558.3 2149.9 L559 2155 L559.5 2155.7 L559.7 2157.8 L560.4 2161.3 L561.1 2164.8 L561.8 2167.8 L562.5 2174.5 L563 2176.1 L563.2 2175.7 L563.9 2177.2 L564.6 2175.5 L565.3 2175.6 L566 2176.2 L566.4 2177.8 L566.7 2179 L567.4 2176.3 L568.1 2179 L568.8 2176.7 L569.5 2177.3 L570.2 2176.3 L570.9 2177.2 L571.6 2174.9 L572.3 2176 L573 2177.9 L573.2 2176.1 L573.7 2173.8 L574.4 2174.3 L575.1 2171.6 L575.8 2170.1 L576.5 2167.6 L577.2 2166.2 L577.9 2168.5 L578.3 2165.9 L578.6 2166.8 L579.3 2165.8 L580 2165 L580.7 2164.7 L581 2162.5 L581.4 2162.7 L582.1 2167.4 L582.8 2170 L583.4 2172.7 L583.5 2172.9 L584.2 2173.7 L584.9 2172.3 L585.6 2172.4 L586.3 2168.3 L586.8 2169.3 L587 2170.3 L587.7 2172.2 L588.4 2174.2 L589.1 2175.4 L589.8 2178 L590.2 2177.8 L590.5 2177.2 L591.2 2180 L591.9 2178.3 L592.6 2179.5 L593.3 2181 L594 2180.6 L594.7 2179.4 L595.4 2179.5 L596.1 2180.2 L596.7 2181.2"/>
</g>
<rect x="147" y="1717.9" width="219.8" height="219.4" fill="none" stroke="#3a3a3a" stroke-width="1.5"/>
<path d="M184.2 1937.3 v-2.5 M184.2 1717.9 v2.5 M220.5 1937.3 v-2.5 M220.5 1717.9 v2.5 M256.9 1937.3 v-2.5 M256.9 1717.9 v2.5 M293.2 1937.3 v-2.5 M293.2 1717.9 v2.5 M329.6 1937.3 v-2.5 M329.6 1717.9 v2.5 M147 1893.4 h2.5 M366.8 1893.4 h-2.5 M147 1849.5 h2.5 M366.8 1849.5 h-2.5 M147 1805.7 h2.5 M366.8 1805.7 h-2.5 M147 1761.8 h2.5 M366.8 1761.8 h-2.5" stroke="#222" stroke-width="0.8" fill="none"/>
<rect x="377" y="1717.9" width="219.7" height="219.4" fill="none" stroke="#3a3a3a" stroke-width="1.5"/>
<path d="M414.2 1937.3 v-2.5 M414.2 1717.9 v2.5 M450.5 1937.3 v-2.5 M450.5 1717.9 v2.5 M486.9 1937.3 v-2.5 M486.9 1717.9 v2.5 M523.2 1937.3 v-2.5 M523.2 1717.9 v2.5 M559.6 1937.3 v-2.5 M559.6 1717.9 v2.5 M377 1893.4 h2.5 M596.7 1893.4 h-2.5 M377 1849.5 h2.5 M596.7 1849.5 h-2.5 M377 1805.7 h2.5 M596.7 1805.7 h-2.5 M377 1761.8 h2.5 M596.7 1761.8 h-2.5" stroke="#222" stroke-width="0.8" fill="none"/>
<rect x="147.3" y="1963.6" width="220.1" height="218.7" fill="none" stroke="#3a3a3a" stroke-width="1.5"/>
<path d="M184.7 2182.3 v-2.5 M184.7 1963.6 v2.5 M221 2182.3 v-2.5 M221 1963.6 v2.5 M257.4 2182.3 v-2.5 M257.4 1963.6 v2.5 M293.7 2182.3 v-2.5 M293.7 1963.6 v2.5 M330.1 2182.3 v-2.5 M330.1 1963.6 v2.5 M147.3 2138.6 h2.5 M367.4 2138.6 h-2.5 M147.3 2094.8 h2.5 M367.4 2094.8 h-2.5 M147.3 2051.1 h2.5 M367.4 2051.1 h-2.5 M147.3 2007.3 h2.5 M367.4 2007.3 h-2.5" stroke="#222" stroke-width="0.8" fill="none"/>
<rect x="377" y="1963.6" width="219.7" height="218.7" fill="none" stroke="#3a3a3a" stroke-width="1.5"/>
<path d="M414.2 2182.3 v-2.5 M414.2 1963.6 v2.5 M450.5 2182.3 v-2.5 M450.5 1963.6 v2.5 M486.9 2182.3 v-2.5 M486.9 1963.6 v2.5 M523.2 2182.3 v-2.5 M523.2 1963.6 v2.5 M559.6 2182.3 v-2.5 M559.6 1963.6 v2.5 M377 2138.6 h2.5 M596.7 2138.6 h-2.5 M377 2094.8 h2.5 M596.7 2094.8 h-2.5 M377 2051.1 h2.5 M596.7 2051.1 h-2.5 M377 2007.3 h2.5 M596.7 2007.3 h-2.5" stroke="#222" stroke-width="0.8" fill="none"/>
<text x="143.5" y="1936.5" font-size="21.5" text-anchor="end">0</text>
<text x="143.5" y="1899.2" font-size="21.5" text-anchor="end">0.2</text>
<text x="143.5" y="1855.3" font-size="21.5" text-anchor="end">0.4</text>
<text x="143.5" y="1811.5" font-size="21.5" text-anchor="end">0.6</text>
<text x="143.5" y="1767.6" font-size="21.5" text-anchor="end">0.8</text>
<text x="143.5" y="1728.3" font-size="21.5" text-anchor="end">1.0</text>
<text x="143.5" y="2181.5" font-size="21.5" text-anchor="end">0</text>
<text x="143.5" y="2144.4" font-size="21.5" text-anchor="end">0.2</text>
<text x="143.5" y="2100.6" font-size="21.5" text-anchor="end">0.4</text>
<text x="143.5" y="2056.9" font-size="21.5" text-anchor="end">0.6</text>
<text x="143.5" y="2013.1" font-size="21.5" text-anchor="end">0.8</text>
<text x="143.5" y="1974" font-size="21.5" text-anchor="end">1.0</text>
<text transform="translate(98.5 1824) rotate(-90)" font-size="34.2" text-anchor="middle">Corr coeff</text>
<text transform="translate(98.5 2070) rotate(-90)" font-size="34.2" text-anchor="middle">Corr coeff</text>
<text x="149.5" y="1749.5" font-size="34.4">motor<tspan font-size="13" dy="-7" dx="2.5">★</tspan><tspan dy="7" dx="2">motor</tspan></text>
<text x="380.5" y="1749.5" font-size="34.4">motor<tspan font-size="13" dy="-7" dx="2.5">★</tspan><tspan dy="7" dx="2">ctx</tspan></text>
<text x="145" y="1994.5" font-size="33.5">motor<tspan font-size="13" dy="-7" dx="2.5">★</tspan><tspan dy="7" dx="2">FL/HL/T</tspan></text>
<text x="384.5" y="1994.5" font-size="34">motor<tspan font-size="13" dy="-7" dx="2.5">★</tspan><tspan dy="7" dx="2">M1/M2</tspan></text>
<text x="214.2" y="2206.5" font-size="21.5" text-anchor="middle">–200</text>
<text x="257.2" y="2206.5" font-size="21.5" text-anchor="middle">0</text>
<text x="294" y="2206.5" font-size="21.5" text-anchor="middle">200</text>
<text x="258.7" y="2232" font-size="22" text-anchor="middle">Time (s)</text>
<text x="443.8" y="2206.5" font-size="21.5" text-anchor="middle">–200</text>
<text x="486.8" y="2206.5" font-size="21.5" text-anchor="middle">0</text>
<text x="523.6" y="2206.5" font-size="21.5" text-anchor="middle">200</text>
<text x="488.3" y="2232" font-size="22" text-anchor="middle">Time (s)</text></g>
<g id="panel_f"><defs><g id="hemiL" fill="none" stroke="#fff"><path vector-effect="non-scaling-stroke" stroke-width="2.2" stroke-dasharray="11 7" d="M1190 145 L1100 110 L960 72 L840 95 L740 110 L690 150 L600 215 L520 260 L440 310 L400 370 L340 470 L290 570 L240 670 L200 770 L160 870 L120 960 L90 1080 L80 1200 L95 1320 L105 1420 L140 1490 L190 1590 L250 1700 L290 1760 L370 1790 L470 1810 L600 1855 L700 1820 L800 1770 L960 1690 L1040 1650 L1160 1565 L1185 1540 M490 320 L540 380 L600 440 L650 490 L700 545 L760 605 L810 660 L860 715 L910 770 L950 850 L980 920 L1000 1000 L960 1060 L920 1120 L850 1135 L760 1135 L700 1090 L690 1000 L690 910 M430 610 L425 560 L420 500 L545 500 L575 560 L580 660 L580 760 L520 720 L470 660 L430 610 M340 1090 L310 1100 L285 1060 L290 900 L290 690 L310 630 L360 595 L400 640 L450 700 L500 770 L540 830 L580 900 L600 940 M610 600 L660 640 L720 700 L770 760 L760 800 L730 840 L680 860 L630 830 L615 800 L610 600 M830 800 L880 830 L930 880 L940 930 L890 980 L800 1000 L750 950 L745 900 L790 840 L830 800 M350 1010 L370 940 L430 895 L510 870 L570 900 L600 940 L625 1000 L625 1110 L600 1190 L560 1250 L480 1300 L400 1290 L360 1200 L330 1130 L340 1050 L350 1010 M610 1180 L1000 1180 M600 1185 L540 1250 M385 1310 L385 1500 L360 1580 L355 1790 M975 1310 L985 1530 L1010 1570 L1080 1590 L1160 1560 M135 1230 L180 1190 L240 1175 L280 1240 L330 1310 L370 1380 L300 1440 L240 1490 L170 1500 L135 1440 L135 1230 M1040 1100 L1010 1190 L995 1250 L970 1300"/><path vector-effect="non-scaling-stroke" stroke-width="2.0" stroke-dasharray="8 5" d="M1160 145 L1160 1560 M1184 145 L1184 1560 M740 180 L820 255 L880 300 L940 350 L1000 405 L1020 480 L1030 560 L1040 640 L1055 720 L1075 800 L1100 870 L1120 940 M1150 920 L1110 960 L1070 1020 L1030 1060 M740 1310 L640 1360 L590 1410 L550 1480 L500 1600 L480 1760 M770 1370 L810 1450 L840 1510 L880 1580 L920 1700"/><path vector-effect="non-scaling-stroke" stroke-width="2.4" stroke-dasharray="11 7" d="M400 1300 L980 1300"/></g>
<g id="atlasL"><use href="#hemiL" transform="translate(13.2 6) scale(0.2552)"/><use href="#hemiL" transform="translate(652.6 6) scale(-0.2552 0.2552)"/></g>
<radialGradient id="rgw"><stop offset="0" stop-color="#fff" stop-opacity="1"/><stop offset="0.2" stop-color="#fff" stop-opacity="0.9"/><stop offset="0.4" stop-color="#fff" stop-opacity="0.62"/><stop offset="0.6" stop-color="#fff" stop-opacity="0.3"/><stop offset="0.8" stop-color="#fff" stop-opacity="0.09"/><stop offset="1" stop-color="#fff" stop-opacity="0"/></radialGradient>
<radialGradient id="rgk"><stop offset="0" stop-color="#000" stop-opacity="1"/><stop offset="0.3" stop-color="#000" stop-opacity="0.85"/><stop offset="0.6" stop-color="#000" stop-opacity="0.4"/><stop offset="1" stop-color="#000" stop-opacity="0"/></radialGradient>
<filter id="jet" filterUnits="userSpaceOnUse" x="-30" y="-30" width="734.5" height="555.6" color-interpolation-filters="sRGB">
<feTurbulence type="fractalNoise" baseFrequency="0.035" numOctaves="3" seed="4" result="n"/>
<feDisplacementMap in="SourceGraphic" in2="n" scale="16" xChannelSelector="R" yChannelSelector="G" result="d"/>
<feGaussianBlur in="d" stdDeviation="3.5" result="g"/>
<feComponentTransfer in="g" result="glow"><feFuncR type="table" tableValues="0 0 0 0 0 0 0 0 0 0 0 0 0 0 0 0 0 0 0 0 0 0 0 0 0 0 0 0 0 0 0 0 0 0 0 0 0 0 0 0 0 0 0 0 0 0 0 0 0 0 0 0 0 0 0 0 0 0 0 0 0 0 0 0 0 0 0.02 0.11 0.21 0.3 0.39 0.49 0.55 0.61 0.67 0.72 0.78 0.84 0.9 0.95 0.98 1 1 1 1 1 1 1 1 1 1 1 1 1 1 1 1 1 1 1 1 1 1 1 1 1 1 1 1 1 1 1 0.98 0.95 0.92 0.89 0.86 0.82 0.79 0.76 0.73 0.69 0.66 0.63 0.6 0.56 0.53 0.5"/><feFuncG type="table" tableValues="0 0 0 0 0 0 0 0 0 0 0 0 0 0 0 0 0 0 0 0 0 0 0 0 0 0 0 0 0 0 0 0 0 0 0 0 0 0 0 0 0 0 0 0 0 0 0 0 0 0 0 0 0 0 0 0 0 0.06 0.18 0.3 0.41 0.51 0.62 0.73 0.83 0.92 1 1 1 1 1 1 1 1 1 1 1 1 1 1 1 0.99 0.95 0.92 0.89 0.86 0.83 0.79 0.76 0.73 0.7 0.66 0.63 0.6 0.57 0.53 0.5 0.47 0.44 0.41 0.37 0.34 0.31 0.28 0.24 0.21 0.18 0.15 0.11 0.08 0.05 0.02 0 0 0 0 0 0 0 0 0 0 0 0 0 0 0 0"/><feFuncB type="table" tableValues="0 0 0 0 0 0 0 0 0 0 0 0 0 0 0 0 0 0 0 0 0 0 0 0 0 0 0 0 0 0 0 0 0 0 0 0 0 0 0 0 0 0 0 0 0 0 0 0 0 0 0 0 0 0 0.1 0.29 0.51 0.72 0.92 1 1 1 1 1 1 1 0.98 0.89 0.79 0.7 0.61 0.51 0.45 0.39 0.33 0.28 0.22 0.16 0.1 0.05 0.02 0 0 0 0 0 0 0 0 0 0 0 0 0 0 0 0 0 0 0 0 0 0 0 0 0 0 0 0 0 0 0 0 0 0 0 0 0 0 0 0 0 0 0 0 0 0 0"/></feComponentTransfer>
<feTurbulence type="fractalNoise" baseFrequency="0.06" numOctaves="2" seed="9" result="n2"/>
<feColorMatrix in="n2" type="matrix" values="1 0 0 0 0  1 0 0 0 0  1 0 0 0 0  0 0 0 0 1" result="n3"/>
<feGaussianBlur in="d" stdDeviation="1" result="d1"/>
<feComposite in="d1" in2="n3" operator="arithmetic" k1="0.7" k2="0.65" k3="0" k4="0" result="dn"/>
<feColorMatrix in="dn" type="matrix" values="1 0 0 0 0  0 1 0 0 0  0 0 1 0 0  1 0 0 0 0" result="dna"/>
<feComponentTransfer in="dna" result="ln"><feFuncR type="table" tableValues="0 0 0 0 0 0 0 0 0 0 0 0 0 0 0 0 0 0 0 0 0 0 0 0 0 0 0 0 0 0 0 0 0 0 0 0 0 0 0 0 0 0 0 0 0 0 0 0 0 0 0 0 0 0 0 0 0 0 0 0 0 0 0 0 0 0 0 0 0 0 0 0 0 0 0 0 0 0 0 0 0 0 0 0 0 0 0 0 0 0 0 0 0 0 0 0 0.01 0.02 0.04 0.05 0.07 0.08 0.1 0.12 0.13 0.15 0.16 0.18 0.19 0.21 0.23 0.24 0.26 0.27 0.29 0.3 0.32 0.34 0.35 0.37 0.38 0.4 0.41 0.43 0.45 0.46 0.48 0.49 0.51 0.52 0.54 0.55 0.57 0.59 0.6 0.62 0.63 0.65 0.66 0.68 0.7 0.71 0.73 0.74 0.76 0.77 0.79 0.81 0.82 0.84 0.85 0.87 0.88 0.9 0.92 0.93 0.95 0.96 0.98 0.99 1 1 1 1 1 1 1 1 1 0.35 0.35 0.35 0.35 0.35 0.35 0.35 0.35 0.35 0.35 0.35 0.35 0.35 0.35 0.35 0.35 0.35 0.35 0.35 0.35 0.35 0.35 0.35 0.35 0.35 0.35 0.35 0.35 0.35 0.35 0.35 0.35 0.35 0.35 0.35 0.35 0.35 0.35 0.35 0.35 0.35 0.35 0.35 0.35 0.35 0.35 0.35 0.35 0.35 0.35 0.35 0.35 0.35 0.35 0.35 0.35 0.34 0.33 0.33 0.32 0.32 0.31 0.31 0.3 0.3 0.29 0.28 0.28 0.27 0.27 0.26 0.26 0.25 0.25 0.24 0.24 0.23 0.22 0.22 0.21 0.21 0.2 0.2 0.19 0.19 0.18 0.17"/><feFuncG type="table" tableValues="0 0 0 0 0 0 0 0 0 0 0 0 0 0 0 0 0 0 0 0 0 0 0 0 0 0 0 0 0 0 0 0 0 0.02 0.03 0.05 0.06 0.08 0.1 0.11 0.13 0.14 0.16 0.17 0.19 0.21 0.22 0.24 0.25 0.27 0.28 0.3 0.32 0.33 0.35 0.36 0.38 0.39 0.41 0.43 0.44 0.46 0.47 0.49 0.5 0.52 0.54 0.55 0.57 0.58 0.6 0.61 0.63 0.65 0.66 0.68 0.69 0.71 0.72 0.74 0.75 0.77 0.79 0.8 0.82 0.83 0.85 0.86 0.88 0.9 0.91 0.93 0.94 0.96 0.97 0.99 1 1 1 1 1 1 1 1 1 1 1 1 1 1 1 1 1 1 1 1 1 1 1 1 1 1 1 1 1 1 1 1 1 1 1 1 1 1 1 1 1 1 1 1 1 1 1 1 1 1 1 1 1 1 1 1 1 1 1 1 1 1 1 1 0.99 0.97 0.96 0.94 0.93 0.91 0.9 0.88 0.86 0.25 0.25 0.25 0.24 0.24 0.23 0.23 0.22 0.22 0.21 0.21 0.2 0.2 0.19 0.19 0.18 0.18 0.17 0.17 0.17 0.16 0.16 0.15 0.15 0.14 0.14 0.13 0.13 0.12 0.12 0.11 0.11 0.1 0.1 0.09 0.09 0.09 0.08 0.08 0.07 0.07 0.06 0.06 0.05 0.05 0.04 0.04 0.03 0.03 0.02 0.02 0.01 0.01 0.01 0 0 0 0 0 0 0 0 0 0 0 0 0 0 0 0 0 0 0 0 0 0 0 0 0 0 0 0 0 0 0 0 0"/><feFuncB type="table" tableValues="0.9 0.9 0.9 0.9 0.9 0.9 0.9 0.9 0.9 0.9 0.9 0.9 0.9 0.9 0.9 0.9 0.9 0.9 0.9 0.9 0.9 0.9 0.9 0.9 0.9 0.9 0.9 0.9 0.9 0.9 0.9 0.99 1 1 1 1 1 1 1 1 1 1 1 1 1 1 1 1 1 1 1 1 1 1 1 1 1 1 1 1 1 1 1 1 1 1 1 1 1 1 1 1 1 1 1 1 1 1 1 1 1 1 1 1 1 1 1 1 1 1 1 1 1 1 1 1 0.99 0.98 0.96 0.95 0.93 0.92 0.9 0.88 0.87 0.85 0.84 0.82 0.81 0.79 0.77 0.76 0.74 0.73 0.71 0.7 0.68 0.66 0.65 0.63 0.62 0.6 0.59 0.57 0.55 0.54 0.52 0.51 0.49 0.48 0.46 0.45 0.43 0.41 0.4 0.38 0.37 0.35 0.34 0.32 0.3 0.29 0.27 0.26 0.24 0.23 0.21 0.19 0.18 0.16 0.15 0.13 0.12 0.1 0.08 0.07 0.05 0.04 0.02 0.01 0 0 0 0 0 0 0 0 0 0 0 0 0 0 0 0 0 0 0 0 0 0 0 0 0 0 0 0 0 0 0 0 0 0 0 0 0 0 0 0 0 0 0 0 0 0 0 0 0 0 0 0 0 0 0 0 0 0 0 0 0 0 0 0 0 0 0 0 0 0 0 0 0 0 0 0 0 0 0 0 0 0 0 0 0 0 0 0 0 0 0 0 0 0 0 0"/><feFuncA type="table" tableValues="0 0 0 0 0 0 0 0 0 1 0 0 0 0 0 0 0 0 1 0 0 0 0 0 0 0 0 1 0 0 0 0 0 0 0 0 1 1 0 0 0 0 0 0 0 1 1 0 0 0 0 0 0 0 1 1 0 1 0 0 0 0 0 1 1 1 1 0 0 0 0 0 1 1 1 1 0 0 0 0 0 1 1 1 1 0 0 0 0 0 1 1 1 1 0 0 0 0 0 1 1 1 1 0 0 0 0 0 1 1 1 1 0 0 0 0 0 1 1 1 1 0 0 0 0 0 1 1 1 1 0 0 0 0 0 1 1 1 1 0 0 0 0 0 1 1 1 1 0 0 0 0 0 1 1 1 1 0 0 0 0 0 1 1 1 1 0 0 0 0 0 0.6 0.6 0.6 0.6 0 0 0 0 0 0.6 0.6 0.6 0.6 0 0 0 0 0 0.6 0.6 0.6 0.6 0 0 0 0 0 0.6 0.6 0.6 0.6 0 0 0 0 0 0.6 0.6 0.6 0.6 0 0 0 0 0 0.6 0.6 0.6 0.6 0 0 0 0 0 0.6 0.6 0.6 0.6 0 0 0 0 0 0.6 0.6 0.6 0.6 0 0 0 0 0 0.6 0.6 0.6 0.6 0 0 0 0 0 0.6 0.6 0.6 0.6"/></feComponentTransfer>
<feMerge><feMergeNode in="glow"/><feMergeNode in="ln"/></feMerge>
</filter>
<filter id="bgblur" x="-20%" y="-20%" width="140%" height="140%"><feGaussianBlur stdDeviation="14"/></filter>
<clipPath id="fclip"><rect x="0" y="0" width="674.5" height="495.6"/></clipPath>
<radialGradient id="g3"><stop offset="0" stop-color="#0f0f0f"/><stop offset="0.12" stop-color="#0e0e0e"/><stop offset="0.28" stop-color="#0c0c0c"/><stop offset="0.45" stop-color="#090909"/><stop offset="0.6" stop-color="#070707"/><stop offset="0.75" stop-color="#040404"/><stop offset="0.88" stop-color="#010101"/><stop offset="1" stop-color="#000000"/></radialGradient><radialGradient id="g4"><stop offset="0" stop-color="#141414"/><stop offset="0.12" stop-color="#131313"/><stop offset="0.28" stop-color="#101010"/><stop offset="0.45" stop-color="#0c0c0c"/><stop offset="0.6" stop-color="#090909"/><stop offset="0.75" stop-color="#050505"/><stop offset="0.88" stop-color="#020202"/><stop offset="1" stop-color="#000000"/></radialGradient><radialGradient id="g5"><stop offset="0" stop-color="#1a1a1a"/><stop offset="0.12" stop-color="#171717"/><stop offset="0.28" stop-color="#131313"/><stop offset="0.45" stop-color="#0f0f0f"/><stop offset="0.6" stop-color="#0b0b0b"/><stop offset="0.75" stop-color="#060606"/><stop offset="0.88" stop-color="#020202"/><stop offset="1" stop-color="#000000"/></radialGradient><radialGradient id="g6"><stop offset="0" stop-color="#1f1f1f"/><stop offset="0.12" stop-color="#1c1c1c"/><stop offset="0.28" stop-color="#171717"/><stop offset="0.45" stop-color="#121212"/><stop offset="0.6" stop-color="#0e0e0e"/><stop offset="0.75" stop-color="#080808"/><stop offset="0.88" stop-color="#020202"/><stop offset="1" stop-color="#000000"/></radialGradient><radialGradient id="g8"><stop offset="0" stop-color="#292929"/><stop offset="0.12" stop-color="#262626"/><stop offset="0.28" stop-color="#1f1f1f"/><stop offset="0.45" stop-color="#181818"/><stop offset="0.6" stop-color="#121212"/><stop offset="0.75" stop-color="#0a0a0a"/><stop offset="0.88" stop-color="#030303"/><stop offset="1" stop-color="#000000"/></radialGradient><radialGradient id="g10"><stop offset="0" stop-color="#333333"/><stop offset="0.12" stop-color="#2f2f2f"/><stop offset="0.28" stop-color="#272727"/><stop offset="0.45" stop-color="#1f1f1f"/><stop offset="0.6" stop-color="#171717"/><stop offset="0.75" stop-color="#0d0d0d"/><stop offset="0.88" stop-color="#040404"/><stop offset="1" stop-color="#000000"/></radialGradient><radialGradient id="g11"><stop offset="0" stop-color="#383838"/><stop offset="0.12" stop-color="#343434"/><stop offset="0.28" stop-color="#2b2b2b"/><stop offset="0.45" stop-color="#222222"/><stop offset="0.6" stop-color="#191919"/><stop offset="0.75" stop-color="#0e0e0e"/><stop offset="0.88" stop-color="#040404"/><stop offset="1" stop-color="#000000"/></radialGradient><radialGradient id="g12"><stop offset="0" stop-color="#3d3d3d"/><stop offset="0.12" stop-color="#383838"/><stop offset="0.28" stop-color="#2f2f2f"/><stop offset="0.45" stop-color="#252525"/><stop offset="0.6" stop-color="#1c1c1c"/><stop offset="0.75" stop-color="#0f0f0f"/><stop offset="0.88" stop-color="#050505"/><stop offset="1" stop-color="#000000"/></radialGradient><radialGradient id="g13"><stop offset="0" stop-color="#424242"/><stop offset="0.12" stop-color="#3d3d3d"/><stop offset="0.28" stop-color="#323232"/><stop offset="0.45" stop-color="#282828"/><stop offset="0.6" stop-color="#1e1e1e"/><stop offset="0.75" stop-color="#111111"/><stop offset="0.88" stop-color="#050505"/><stop offset="1" stop-color="#000000"/></radialGradient><radialGradient id="g15"><stop offset="0" stop-color="#4c4c4c"/><stop offset="0.12" stop-color="#464646"/><stop offset="0.28" stop-color="#3a3a3a"/><stop offset="0.45" stop-color="#2e2e2e"/><stop offset="0.6" stop-color="#222222"/><stop offset="0.75" stop-color="#131313"/><stop offset="0.88" stop-color="#060606"/><stop offset="1" stop-color="#000000"/></radialGradient><radialGradient id="g16"><stop offset="0" stop-color="#525252"/><stop offset="0.12" stop-color="#4b4b4b"/><stop offset="0.28" stop-color="#3e3e3e"/><stop offset="0.45" stop-color="#313131"/><stop offset="0.6" stop-color="#252525"/><stop offset="0.75" stop-color="#141414"/><stop offset="0.88" stop-color="#070707"/><stop offset="1" stop-color="#000000"/></radialGradient><radialGradient id="g17"><stop offset="0" stop-color="#575757"/><stop offset="0.12" stop-color="#505050"/><stop offset="0.28" stop-color="#424242"/><stop offset="0.45" stop-color="#343434"/><stop offset="0.6" stop-color="#272727"/><stop offset="0.75" stop-color="#161616"/><stop offset="0.88" stop-color="#070707"/><stop offset="1" stop-color="#000000"/></radialGradient><radialGradient id="g18"><stop offset="0" stop-color="#5c5c5c"/><stop offset="0.12" stop-color="#545454"/><stop offset="0.28" stop-color="#464646"/><stop offset="0.45" stop-color="#373737"/><stop offset="0.6" stop-color="#292929"/><stop offset="0.75" stop-color="#171717"/><stop offset="0.88" stop-color="#070707"/><stop offset="1" stop-color="#000000"/></radialGradient><radialGradient id="g19"><stop offset="0" stop-color="#616161"/><stop offset="0.12" stop-color="#595959"/><stop offset="0.28" stop-color="#4a4a4a"/><stop offset="0.45" stop-color="#3a3a3a"/><stop offset="0.6" stop-color="#2c2c2c"/><stop offset="0.75" stop-color="#181818"/><stop offset="0.88" stop-color="#080808"/><stop offset="1" stop-color="#000000"/></radialGradient><radialGradient id="g20"><stop offset="0" stop-color="#666666"/><stop offset="0.12" stop-color="#5e5e5e"/><stop offset="0.28" stop-color="#4e4e4e"/><stop offset="0.45" stop-color="#3d3d3d"/><stop offset="0.6" stop-color="#2e2e2e"/><stop offset="0.75" stop-color="#1a1a1a"/><stop offset="0.88" stop-color="#080808"/><stop offset="1" stop-color="#000000"/></radialGradient><radialGradient id="g21"><stop offset="0" stop-color="#6b6b6b"/><stop offset="0.12" stop-color="#636363"/><stop offset="0.28" stop-color="#515151"/><stop offset="0.45" stop-color="#404040"/><stop offset="0.6" stop-color="#303030"/><stop offset="0.75" stop-color="#1b1b1b"/><stop offset="0.88" stop-color="#090909"/><stop offset="1" stop-color="#000000"/></radialGradient><radialGradient id="g22"><stop offset="0" stop-color="#707070"/><stop offset="0.12" stop-color="#676767"/><stop offset="0.28" stop-color="#555555"/><stop offset="0.45" stop-color="#434343"/><stop offset="0.6" stop-color="#323232"/><stop offset="0.75" stop-color="#1c1c1c"/><stop offset="0.88" stop-color="#090909"/><stop offset="1" stop-color="#000000"/></radialGradient><radialGradient id="g23"><stop offset="0" stop-color="#757575"/><stop offset="0.12" stop-color="#6c6c6c"/><stop offset="0.28" stop-color="#595959"/><stop offset="0.45" stop-color="#464646"/><stop offset="0.6" stop-color="#353535"/><stop offset="0.75" stop-color="#1d1d1d"/><stop offset="0.88" stop-color="#090909"/><stop offset="1" stop-color="#000000"/></radialGradient><radialGradient id="g24"><stop offset="0" stop-color="#7a7a7a"/><stop offset="0.12" stop-color="#717171"/><stop offset="0.28" stop-color="#5d5d5d"/><stop offset="0.45" stop-color="#494949"/><stop offset="0.6" stop-color="#373737"/><stop offset="0.75" stop-color="#1f1f1f"/><stop offset="0.88" stop-color="#0a0a0a"/><stop offset="1" stop-color="#000000"/></radialGradient><radialGradient id="g25"><stop offset="0" stop-color="#808080"/><stop offset="0.12" stop-color="#757575"/><stop offset="0.28" stop-color="#616161"/><stop offset="0.45" stop-color="#4c4c4c"/><stop offset="0.6" stop-color="#393939"/><stop offset="0.75" stop-color="#202020"/><stop offset="0.88" stop-color="#0a0a0a"/><stop offset="1" stop-color="#000000"/></radialGradient><radialGradient id="g26"><stop offset="0" stop-color="#858585"/><stop offset="0.12" stop-color="#7a7a7a"/><stop offset="0.28" stop-color="#656565"/><stop offset="0.45" stop-color="#505050"/><stop offset="0.6" stop-color="#3c3c3c"/><stop offset="0.75" stop-color="#212121"/><stop offset="0.88" stop-color="#0b0b0b"/><stop offset="1" stop-color="#000000"/></radialGradient><radialGradient id="g27"><stop offset="0" stop-color="#8a8a8a"/><stop offset="0.12" stop-color="#7f7f7f"/><stop offset="0.28" stop-color="#696969"/><stop offset="0.45" stop-color="#535353"/><stop offset="0.6" stop-color="#3e3e3e"/><stop offset="0.75" stop-color="#222222"/><stop offset="0.88" stop-color="#0b0b0b"/><stop offset="1" stop-color="#000000"/></radialGradient><radialGradient id="g28"><stop offset="0" stop-color="#8f8f8f"/><stop offset="0.12" stop-color="#838383"/><stop offset="0.28" stop-color="#6d6d6d"/><stop offset="0.45" stop-color="#565656"/><stop offset="0.6" stop-color="#404040"/><stop offset="0.75" stop-color="#242424"/><stop offset="0.88" stop-color="#0b0b0b"/><stop offset="1" stop-color="#000000"/></radialGradient><radialGradient id="g29"><stop offset="0" stop-color="#949494"/><stop offset="0.12" stop-color="#888888"/><stop offset="0.28" stop-color="#707070"/><stop offset="0.45" stop-color="#595959"/><stop offset="0.6" stop-color="#434343"/><stop offset="0.75" stop-color="#252525"/><stop offset="0.88" stop-color="#0c0c0c"/><stop offset="1" stop-color="#000000"/></radialGradient><radialGradient id="g30"><stop offset="0" stop-color="#999999"/><stop offset="0.12" stop-color="#8d8d8d"/><stop offset="0.28" stop-color="#747474"/><stop offset="0.45" stop-color="#5c5c5c"/><stop offset="0.6" stop-color="#454545"/><stop offset="0.75" stop-color="#262626"/><stop offset="0.88" stop-color="#0c0c0c"/><stop offset="1" stop-color="#000000"/></radialGradient><radialGradient id="g31"><stop offset="0" stop-color="#9e9e9e"/><stop offset="0.12" stop-color="#919191"/><stop offset="0.28" stop-color="#787878"/><stop offset="0.45" stop-color="#5f5f5f"/><stop offset="0.6" stop-color="#474747"/><stop offset="0.75" stop-color="#282828"/><stop offset="0.88" stop-color="#0d0d0d"/><stop offset="1" stop-color="#000000"/></radialGradient><radialGradient id="g32"><stop offset="0" stop-color="#a3a3a3"/><stop offset="0.12" stop-color="#969696"/><stop offset="0.28" stop-color="#7c7c7c"/><stop offset="0.45" stop-color="#626262"/><stop offset="0.6" stop-color="#494949"/><stop offset="0.75" stop-color="#292929"/><stop offset="0.88" stop-color="#0d0d0d"/><stop offset="1" stop-color="#000000"/></radialGradient><radialGradient id="g33"><stop offset="0" stop-color="#a8a8a8"/><stop offset="0.12" stop-color="#9b9b9b"/><stop offset="0.28" stop-color="#808080"/><stop offset="0.45" stop-color="#656565"/><stop offset="0.6" stop-color="#4c4c4c"/><stop offset="0.75" stop-color="#2a2a2a"/><stop offset="0.88" stop-color="#0d0d0d"/><stop offset="1" stop-color="#000000"/></radialGradient><radialGradient id="g34"><stop offset="0" stop-color="#adadad"/><stop offset="0.12" stop-color="#a0a0a0"/><stop offset="0.28" stop-color="#848484"/><stop offset="0.45" stop-color="#686868"/><stop offset="0.6" stop-color="#4e4e4e"/><stop offset="0.75" stop-color="#2b2b2b"/><stop offset="0.88" stop-color="#0e0e0e"/><stop offset="1" stop-color="#000000"/></radialGradient><radialGradient id="g35"><stop offset="0" stop-color="#b2b2b2"/><stop offset="0.12" stop-color="#a4a4a4"/><stop offset="0.28" stop-color="#888888"/><stop offset="0.45" stop-color="#6b6b6b"/><stop offset="0.6" stop-color="#505050"/><stop offset="0.75" stop-color="#2d2d2d"/><stop offset="0.88" stop-color="#0e0e0e"/><stop offset="1" stop-color="#000000"/></radialGradient><radialGradient id="g36"><stop offset="0" stop-color="#b8b8b8"/><stop offset="0.12" stop-color="#a9a9a9"/><stop offset="0.28" stop-color="#8c8c8c"/><stop offset="0.45" stop-color="#6e6e6e"/><stop offset="0.6" stop-color="#535353"/><stop offset="0.75" stop-color="#2e2e2e"/><stop offset="0.88" stop-color="#0f0f0f"/><stop offset="1" stop-color="#000000"/></radialGradient><radialGradient id="g37"><stop offset="0" stop-color="#bdbdbd"/><stop offset="0.12" stop-color="#aeaeae"/><stop offset="0.28" stop-color="#8f8f8f"/><stop offset="0.45" stop-color="#717171"/><stop offset="0.6" stop-color="#555555"/><stop offset="0.75" stop-color="#2f2f2f"/><stop offset="0.88" stop-color="#0f0f0f"/><stop offset="1" stop-color="#000000"/></radialGradient><radialGradient id="g38"><stop offset="0" stop-color="#c2c2c2"/><stop offset="0.12" stop-color="#b2b2b2"/><stop offset="0.28" stop-color="#939393"/><stop offset="0.45" stop-color="#747474"/><stop offset="0.6" stop-color="#575757"/><stop offset="0.75" stop-color="#303030"/><stop offset="0.88" stop-color="#101010"/><stop offset="1" stop-color="#000000"/></radialGradient><radialGradient id="g39"><stop offset="0" stop-color="#c7c7c7"/><stop offset="0.12" stop-color="#b7b7b7"/><stop offset="0.28" stop-color="#979797"/><stop offset="0.45" stop-color="#777777"/><stop offset="0.6" stop-color="#5a5a5a"/><stop offset="0.75" stop-color="#323232"/><stop offset="0.88" stop-color="#101010"/><stop offset="1" stop-color="#000000"/></radialGradient><radialGradient id="g40"><stop offset="0" stop-color="#cccccc"/><stop offset="0.12" stop-color="#bcbcbc"/><stop offset="0.28" stop-color="#9b9b9b"/><stop offset="0.45" stop-color="#7a7a7a"/><stop offset="0.6" stop-color="#5c5c5c"/><stop offset="0.75" stop-color="#333333"/><stop offset="0.88" stop-color="#101010"/><stop offset="1" stop-color="#000000"/></radialGradient><radialGradient id="g41"><stop offset="0" stop-color="#d1d1d1"/><stop offset="0.12" stop-color="#c0c0c0"/><stop offset="0.28" stop-color="#9f9f9f"/><stop offset="0.45" stop-color="#7d7d7d"/><stop offset="0.6" stop-color="#5e5e5e"/><stop offset="0.75" stop-color="#343434"/><stop offset="0.88" stop-color="#111111"/><stop offset="1" stop-color="#000000"/></radialGradient><radialGradient id="g42"><stop offset="0" stop-color="#d6d6d6"/><stop offset="0.12" stop-color="#c5c5c5"/><stop offset="0.28" stop-color="#a3a3a3"/><stop offset="0.45" stop-color="#818181"/><stop offset="0.6" stop-color="#606060"/><stop offset="0.75" stop-color="#363636"/><stop offset="0.88" stop-color="#111111"/><stop offset="1" stop-color="#000000"/></radialGradient><radialGradient id="g43"><stop offset="0" stop-color="#dbdbdb"/><stop offset="0.12" stop-color="#cacaca"/><stop offset="0.28" stop-color="#a7a7a7"/><stop offset="0.45" stop-color="#848484"/><stop offset="0.6" stop-color="#636363"/><stop offset="0.75" stop-color="#373737"/><stop offset="0.88" stop-color="#121212"/><stop offset="1" stop-color="#000000"/></radialGradient><radialGradient id="g44"><stop offset="0" stop-color="#e0e0e0"/><stop offset="0.12" stop-color="#cecece"/><stop offset="0.28" stop-color="#ababab"/><stop offset="0.45" stop-color="#878787"/><stop offset="0.6" stop-color="#656565"/><stop offset="0.75" stop-color="#383838"/><stop offset="0.88" stop-color="#121212"/><stop offset="1" stop-color="#000000"/></radialGradient><radialGradient id="g45"><stop offset="0" stop-color="#e6e6e6"/><stop offset="0.12" stop-color="#d3d3d3"/><stop offset="0.28" stop-color="#aeaeae"/><stop offset="0.45" stop-color="#8a8a8a"/><stop offset="0.6" stop-color="#676767"/><stop offset="0.75" stop-color="#393939"/><stop offset="0.88" stop-color="#121212"/><stop offset="1" stop-color="#000000"/></radialGradient><radialGradient id="g48"><stop offset="0" stop-color="#f5f5f5"/><stop offset="0.12" stop-color="#e1e1e1"/><stop offset="0.28" stop-color="#bababa"/><stop offset="0.45" stop-color="#939393"/><stop offset="0.6" stop-color="#6e6e6e"/><stop offset="0.75" stop-color="#3d3d3d"/><stop offset="0.88" stop-color="#141414"/><stop offset="1" stop-color="#000000"/></radialGradient><radialGradient id="g50"><stop offset="0" stop-color="#ffffff"/><stop offset="0.12" stop-color="#ebebeb"/><stop offset="0.28" stop-color="#c2c2c2"/><stop offset="0.45" stop-color="#999999"/><stop offset="0.6" stop-color="#737373"/><stop offset="0.75" stop-color="#404040"/><stop offset="0.88" stop-color="#141414"/><stop offset="1" stop-color="#000000"/></radialGradient><style>.lt{mix-blend-mode:lighten}</style></defs>
<g transform="translate(688 1726.8)" clip-path="url(#fclip)">
<g filter="url(#jet)">
<rect x="-60" y="-60" width="794.5" height="615.6" fill="#000"/>
<polygon points="319.3,43.7 264.4,24.9 212,32.4 194.6,41.2 139.7,79.8 114.7,107.3 92.3,149.7 69.8,199.6 49.9,259.4 57.4,299.3 82.3,324.3 104.8,359.2 129.7,389.1 162.1,424 199.6,444 249.4,424 316.8,389.1" fill="#fff" opacity="0.23" filter="url(#bgblur)"/>
<polygon points="354.5,139.7 369.4,82.3 399.4,49.9 431.8,29.9 466.7,32.4 511.6,74.8 549,119.7 586.4,162.1 606.4,224.5 611.4,286.9 598.9,336.7 611.4,374.2 586.4,424 544,449 486.7,449 431.8,439 359.4,399.1" fill="#fff" opacity="0.23" filter="url(#bgblur)"/>
<ellipse cx="207" cy="182.1" rx="37.3" ry="29.2" fill="url(#rgk)" opacity="0.75" transform="rotate(40 207 182.1)"/><ellipse cx="214.5" cy="269.4" rx="43.8" ry="30.8" fill="url(#rgk)" opacity="0.95"/><ellipse cx="184.6" cy="142.2" rx="22.7" ry="16.2" fill="url(#rgk)" opacity="0.6" transform="rotate(30 184.6 142.2)"/><ellipse cx="154.7" cy="274.4" rx="29.2" ry="17.8" fill="url(#rgk)" opacity="0.45"/><ellipse cx="147.2" cy="321.8" rx="19.5" ry="14.6" fill="url(#rgk)" opacity="0.55"/><ellipse cx="82.3" cy="291.8" rx="19.5" ry="25.9" fill="url(#rgk)" opacity="0.5"/><ellipse cx="311.8" cy="107.3" rx="16.2" ry="97.3" fill="url(#rgk)" opacity="0.9"/>
<ellipse cx="456.7" cy="227" rx="34" ry="25.9" fill="url(#rgk)" opacity="0.85" transform="rotate(-40 456.7 227)"/><ellipse cx="459.2" cy="271.9" rx="37.3" ry="21.1" fill="url(#rgk)" opacity="0.95"/><ellipse cx="436.8" cy="189.6" rx="27.6" ry="21.1" fill="url(#rgk)" opacity="0.6" transform="rotate(-40 436.8 189.6)"/><ellipse cx="499.1" cy="172.1" rx="24.3" ry="17.8" fill="url(#rgk)" opacity="0.45" transform="rotate(-40 499.1 172.1)"/><ellipse cx="499.1" cy="449" rx="58.4" ry="22.7" fill="url(#rgk)" opacity="0.5"/><ellipse cx="586.4" cy="424" rx="29.2" ry="45.4" fill="url(#rgk)" opacity="0.5" transform="rotate(25 586.4 424)"/><ellipse cx="411.8" cy="324.3" rx="16.2" ry="14.6" fill="url(#rgk)" opacity="0.4"/>
<ellipse class="lt" cx="219.5" cy="66.1" rx="46.1" ry="41.5" fill="url(#g38)"/><ellipse class="lt" cx="185.8" cy="99.8" rx="43.8" ry="64.6" fill="url(#g34)" transform="rotate(10 185.8 99.8)"/><ellipse class="lt" cx="149.7" cy="107.3" rx="69.2" ry="64.6" fill="url(#g31)"/><ellipse class="lt" cx="234.5" cy="129.7" rx="43.8" ry="48.5" fill="url(#g32)" transform="rotate(40 234.5 129.7)"/><ellipse class="lt" cx="259.4" cy="159.6" rx="41.5" ry="50.8" fill="url(#g35)" transform="rotate(30 259.4 159.6)"/><ellipse class="lt" cx="117.2" cy="142.2" rx="46.1" ry="43.8" fill="url(#g30)"/><ellipse class="lt" cx="124.7" cy="174.6" rx="46.1" ry="46.1" fill="url(#g33)"/><ellipse class="lt" cx="103.5" cy="210.8" rx="43.8" ry="41.5" fill="url(#g39)"/><ellipse class="lt" cx="138.4" cy="239.5" rx="43.8" ry="57.7" fill="url(#g37)" transform="rotate(-15 138.4 239.5)"/><ellipse class="lt" cx="281.9" cy="212" rx="53.1" ry="57.7" fill="url(#g29)"/><ellipse class="lt" cx="294.3" cy="264.4" rx="46.1" ry="46.1" fill="url(#g45)"/><ellipse class="lt" cx="303.1" cy="309.3" rx="41.5" ry="66.9" fill="url(#g44)"/><ellipse class="lt" cx="192.1" cy="324.3" rx="43.8" ry="41.5" fill="url(#g40)"/><ellipse class="lt" cx="249.4" cy="349.2" rx="55.4" ry="48.5" fill="url(#g41)"/><ellipse class="lt" cx="283.1" cy="355.5" rx="41.5" ry="41.5" fill="url(#g50)"/><ellipse class="lt" cx="139.7" cy="361.7" rx="60" ry="41.5" fill="url(#g36)" transform="rotate(15 139.7 361.7)"/><ellipse class="lt" cx="162.1" cy="381.6" rx="46.1" ry="41.5" fill="url(#g33)"/><ellipse class="lt" cx="194.6" cy="394.1" rx="50.8" ry="69.2" fill="url(#g30)"/><ellipse class="lt" cx="122.2" cy="296.8" rx="43.8" ry="46.1" fill="url(#g31)"/><ellipse class="lt" cx="251.9" cy="246.9" rx="41.5" ry="41.5" fill="url(#g25)"/><ellipse class="lt" cx="97.3" cy="334.2" rx="39.2" ry="39.2" fill="url(#g22)"/><ellipse class="lt" cx="244.4" cy="311.8" rx="36.9" ry="32.3" fill="url(#g23)"/><ellipse class="lt" cx="159.6" cy="64.9" rx="46.1" ry="36.9" fill="url(#g25)"/><ellipse class="lt" cx="271.9" cy="107.3" rx="36.9" ry="41.5" fill="url(#g24)"/><ellipse class="lt" cx="82.3" cy="254.4" rx="41.5" ry="46.1" fill="url(#g16)"/><ellipse class="lt" cx="199.6" cy="429" rx="50.8" ry="46.1" fill="url(#g12)"/><ellipse class="lt" cx="269.4" cy="399.1" rx="50.8" ry="41.5" fill="url(#g16)"/><ellipse class="lt" cx="104.8" cy="249.4" rx="32.3" ry="32.3" fill="url(#g21)"/><ellipse class="lt" cx="222" cy="369.2" rx="41.5" ry="36.9" fill="url(#g30)"/><ellipse class="lt" cx="174.6" cy="354.2" rx="36.9" ry="32.3" fill="url(#g25)"/>
<ellipse class="lt" cx="404.3" cy="142.2" rx="43.8" ry="46.1" fill="url(#g45)" transform="rotate(-30 404.3 142.2)"/><ellipse class="lt" cx="414.3" cy="123.5" rx="39.2" ry="39.2" fill="url(#g45)"/><ellipse class="lt" cx="424.3" cy="104.8" rx="43.8" ry="43.8" fill="url(#g48)" transform="rotate(-35 424.3 104.8)"/><ellipse class="lt" cx="436.8" cy="89.8" rx="39.2" ry="39.2" fill="url(#g43)"/><ellipse class="lt" cx="448" cy="78.6" rx="39.2" ry="36.9" fill="url(#g37)" transform="rotate(-35 448 78.6)"/><ellipse class="lt" cx="479.2" cy="113.5" rx="50.8" ry="46.1" fill="url(#g48)" transform="rotate(-20 479.2 113.5)"/><ellipse class="lt" cx="494.1" cy="97.3" rx="39.2" ry="34.6" fill="url(#g31)"/><ellipse class="lt" cx="446.8" cy="129.7" rx="53.1" ry="53.1" fill="url(#g31)"/><ellipse class="lt" cx="384.4" cy="179.6" rx="50.8" ry="50.8" fill="url(#g27)"/><ellipse class="lt" cx="376.9" cy="219.5" rx="46.1" ry="46.1" fill="url(#g26)"/><ellipse class="lt" cx="366.9" cy="271.9" rx="32.3" ry="34.6" fill="url(#g42)"/><ellipse class="lt" cx="368.2" cy="299.3" rx="30" ry="39.2" fill="url(#g33)"/><ellipse class="lt" cx="371.9" cy="326.8" rx="34.6" ry="62.3" fill="url(#g37)"/><ellipse class="lt" cx="386.9" cy="371.7" rx="48.5" ry="34.6" fill="url(#g38)" transform="rotate(40 386.9 371.7)"/><ellipse class="lt" cx="546.5" cy="222" rx="62.3" ry="62.3" fill="url(#g35)"/><ellipse class="lt" cx="549" cy="187.1" rx="48.5" ry="48.5" fill="url(#g30)"/><ellipse class="lt" cx="531.6" cy="244.4" rx="48.5" ry="48.5" fill="url(#g32)"/><ellipse class="lt" cx="546.5" cy="244.4" rx="110.8" ry="120" fill="url(#g25)"/><ellipse class="lt" cx="561.5" cy="271.9" rx="48.5" ry="48.5" fill="url(#g26)"/><ellipse class="lt" cx="444.3" cy="306.8" rx="64.6" ry="39.2" fill="url(#g25)"/><ellipse class="lt" cx="491.7" cy="321.8" rx="48.5" ry="43.8" fill="url(#g25)"/><ellipse class="lt" cx="539" cy="326.8" rx="46.1" ry="41.5" fill="url(#g23)"/><ellipse class="lt" cx="529.1" cy="399.1" rx="46.1" ry="46.1" fill="url(#g33)"/><ellipse class="lt" cx="471.7" cy="384.1" rx="46.1" ry="46.1" fill="url(#g29)"/><ellipse class="lt" cx="441.8" cy="396.6" rx="50.8" ry="50.8" fill="url(#g28)"/><ellipse class="lt" cx="441.8" cy="424" rx="41.5" ry="41.5" fill="url(#g23)"/><ellipse class="lt" cx="406.8" cy="249.4" rx="30" ry="30" fill="url(#g20)"/><ellipse class="lt" cx="474.2" cy="244.4" rx="25.4" ry="25.4" fill="url(#g17)"/><ellipse class="lt" cx="586.4" cy="361.7" rx="55.4" ry="60" fill="url(#g11)"/><ellipse class="lt" cx="456.7" cy="42.4" rx="41.5" ry="27.7" fill="url(#g19)"/>
</g>
<use href="#atlasL"/>
<text x="284.2" y="143" font-size="29" font-weight="bold" fill="#fff">M2</text>
<text x="237.2" y="170.3" font-size="29" font-weight="bold" fill="#fff">M1</text>
<text x="131.3" y="164.3" font-size="29" font-weight="bold" fill="#fff">LS</text>
<text x="180.4" y="207" font-size="29" font-weight="bold" fill="#fff">FL</text>
<text x="105" y="220.6" font-size="29" font-weight="bold" fill="#fff">AS</text>
<text x="217.8" y="242.3" font-size="29" font-weight="bold" fill="#fff">HL</text>
<text x="223.1" y="282.6" font-size="29" font-weight="bold" fill="#fff">T</text>
<text x="109.4" y="283.9" font-size="29" font-weight="bold" fill="#fff">barrel</text>
<text x="207.2" y="326.7" font-size="29" font-weight="bold" fill="#fff">PPC</text>
<text x="272.2" y="342.7" font-size="29" font-weight="bold" fill="#fff">RSA</text>
<text x="60" y="354.4" font-size="29" font-weight="bold" fill="#fff">A1</text>
<text x="221.6" y="386.5" font-size="29" font-weight="bold" fill="#fff">V2M</text>
<text x="115" y="408.7" font-size="29" font-weight="bold" fill="#fff">V2L</text>
<text x="180" y="438.7" font-size="29" font-weight="bold" fill="#fff">V1</text>
</g>
<g transform="translate(1389 1726.8)" clip-path="url(#fclip)">
<g filter="url(#jet)">
<rect x="-60" y="-60" width="794.5" height="615.6" fill="#000"/>
<ellipse class="lt" cx="184.5" cy="174" rx="44.2" ry="39.5" fill="url(#g25)" transform="rotate(40 184.5 174)"/><ellipse class="lt" cx="204.6" cy="204.2" rx="48.8" ry="44.2" fill="url(#g28)" transform="rotate(40 204.6 204.2)"/><ellipse class="lt" cx="171.9" cy="153.9" rx="30.2" ry="25.6" fill="url(#g16)"/><ellipse class="lt" cx="217.2" cy="244.4" rx="44.2" ry="44.2" fill="url(#g44)"/><ellipse class="lt" cx="224.8" cy="221.8" rx="44.2" ry="39.5" fill="url(#g32)"/><ellipse class="lt" cx="239.8" cy="277.1" rx="48.8" ry="55.8" fill="url(#g34)"/><ellipse class="lt" cx="202.1" cy="257" rx="41.9" ry="39.5" fill="url(#g31)"/><ellipse class="lt" cx="222.2" cy="287.2" rx="39.5" ry="30.2" fill="url(#g25)"/><ellipse class="lt" cx="121.7" cy="249.4" rx="58.2" ry="53.5" fill="url(#g21)"/><ellipse class="lt" cx="99" cy="194.1" rx="34.9" ry="39.5" fill="url(#g15)"/><ellipse class="lt" cx="81.4" cy="231.8" rx="34.9" ry="34.9" fill="url(#g12)"/><ellipse class="lt" cx="151.8" cy="267.1" rx="44.2" ry="39.5" fill="url(#g13)"/><ellipse class="lt" cx="197.1" cy="387.8" rx="53.5" ry="53.5" fill="url(#g27)"/><ellipse class="lt" cx="166.9" cy="337.5" rx="46.5" ry="39.5" fill="url(#g18)"/><ellipse class="lt" cx="187" cy="365.1" rx="39.5" ry="39.5" fill="url(#g21)"/><ellipse class="lt" cx="239.8" cy="417.9" rx="22.3" ry="22.3" fill="url(#g21)"/><ellipse class="lt" cx="131.7" cy="375.2" rx="48.8" ry="48.8" fill="url(#g13)"/><ellipse class="lt" cx="134.2" cy="430.5" rx="34.9" ry="34.9" fill="url(#g13)"/><ellipse class="lt" cx="295.2" cy="304.8" rx="48.8" ry="53.5" fill="url(#g10)"/><ellipse class="lt" cx="287.6" cy="380.2" rx="46.5" ry="69.8" fill="url(#g6)"/><ellipse class="lt" cx="249.9" cy="123.7" rx="37.2" ry="51.2" fill="url(#g4)"/><ellipse class="lt" cx="232.3" cy="65.9" rx="51.2" ry="51.2" fill="url(#g4)"/><ellipse class="lt" cx="161.9" cy="86" rx="32.6" ry="27.9" fill="url(#g3)"/><ellipse class="lt" cx="126.7" cy="304.8" rx="41.9" ry="32.6" fill="url(#g10)"/><ellipse class="lt" cx="73.9" cy="317.3" rx="37.2" ry="46.5" fill="url(#g5)"/><ellipse class="lt" cx="187" cy="128.7" rx="41.9" ry="27.9" fill="url(#g5)"/>
<ellipse class="lt" cx="495.4" cy="177.1" rx="39.2" ry="41.5" fill="url(#g39)"/><ellipse class="lt" cx="496.6" cy="174.6" rx="62.3" ry="62.3" fill="url(#g18)"/><ellipse class="lt" cx="444.3" cy="239.5" rx="62.3" ry="66.9" fill="url(#g32)" transform="rotate(-35 444.3 239.5)"/><ellipse class="lt" cx="426.8" cy="271.9" rx="46.1" ry="41.5" fill="url(#g26)"/><ellipse class="lt" cx="461.7" cy="224.5" rx="39.2" ry="39.2" fill="url(#g21)"/><ellipse class="lt" cx="484.2" cy="207" rx="36.9" ry="36.9" fill="url(#g20)"/><ellipse class="lt" cx="559" cy="209.5" rx="46.1" ry="80.8" fill="url(#g18)" transform="rotate(15 559 209.5)"/><ellipse class="lt" cx="569" cy="177.1" rx="30" ry="30" fill="url(#g12)"/><ellipse class="lt" cx="526.6" cy="289.3" rx="48.5" ry="46.1" fill="url(#g16)"/><ellipse class="lt" cx="561.5" cy="309.3" rx="39.2" ry="39.2" fill="url(#g18)"/><ellipse class="lt" cx="549" cy="274.4" rx="39.2" ry="39.2" fill="url(#g8)"/><ellipse class="lt" cx="466.7" cy="419.1" rx="57.7" ry="53.1" fill="url(#g34)"/><ellipse class="lt" cx="509.1" cy="409.1" rx="62.3" ry="57.7" fill="url(#g22)"/><ellipse class="lt" cx="546.5" cy="411.6" rx="41.5" ry="41.5" fill="url(#g21)"/><ellipse class="lt" cx="501.6" cy="354.2" rx="34.6" ry="34.6" fill="url(#g16)"/><ellipse class="lt" cx="491.7" cy="384.1" rx="48.5" ry="39.2" fill="url(#g17)"/><ellipse class="lt" cx="369.4" cy="331.8" rx="50.8" ry="78.4" fill="url(#g5)"/><ellipse class="lt" cx="436.8" cy="57.4" rx="41.5" ry="41.5" fill="url(#g4)"/><ellipse class="lt" cx="399.4" cy="99.8" rx="36.9" ry="41.5" fill="url(#g4)"/><ellipse class="lt" cx="596.4" cy="356.7" rx="36.9" ry="36.9" fill="url(#g3)"/><ellipse class="lt" cx="429.3" cy="321.8" rx="23.1" ry="23.1" fill="url(#g3)"/><ellipse class="lt" cx="484.2" cy="139.7" rx="23.1" ry="23.1" fill="url(#g4)"/><ellipse class="lt" cx="449.2" cy="369.2" rx="20.8" ry="20.8" fill="url(#g3)"/>
</g>
<use href="#atlasL"/>
<text x="284.2" y="143" font-size="29" font-weight="bold" fill="#fff">M2</text>
<text x="237.2" y="170.3" font-size="29" font-weight="bold" fill="#fff">M1</text>
<text x="131.3" y="164.3" font-size="29" font-weight="bold" fill="#fff">LS</text>
<text x="180.4" y="207" font-size="29" font-weight="bold" fill="#fff">FL</text>
<text x="105" y="220.6" font-size="29" font-weight="bold" fill="#fff">AS</text>
<text x="217.8" y="242.3" font-size="29" font-weight="bold" fill="#fff">HL</text>
<text x="223.1" y="282.6" font-size="29" font-weight="bold" fill="#fff">T</text>
<text x="109.4" y="283.9" font-size="29" font-weight="bold" fill="#fff">barrel</text>
<text x="207.2" y="326.7" font-size="29" font-weight="bold" fill="#fff">PPC</text>
<text x="272.2" y="342.7" font-size="29" font-weight="bold" fill="#fff">RSA</text>
<text x="60" y="354.4" font-size="29" font-weight="bold" fill="#fff">A1</text>
<text x="221.6" y="386.5" font-size="29" font-weight="bold" fill="#fff">V2M</text>
<text x="115" y="408.7" font-size="29" font-weight="bold" fill="#fff">V2L</text>
<text x="180" y="438.7" font-size="29" font-weight="bold" fill="#fff">V1</text>
</g>
<text x="1040.3" y="1696.8" font-size="49.8" text-anchor="middle">quiet motor state</text>
<text x="1727" y="1702" font-size="49.8" text-anchor="middle">active motor state</text>
<rect x="2073.3" y="1834.2" width="27.4" height="7.4" fill="#8f0000"/>
<rect x="2073.3" y="1841.3" width="27.4" height="7.4" fill="#cc0000"/>
<rect x="2073.3" y="1848.3" width="27.4" height="7.4" fill="#ff0000"/>
<rect x="2073.3" y="1855.4" width="27.4" height="7.4" fill="#ff3300"/>
<rect x="2073.3" y="1862.4" width="27.4" height="7.4" fill="#ff6600"/>
<rect x="2073.3" y="1869.5" width="27.4" height="7.4" fill="#ff9900"/>
<rect x="2073.3" y="1876.5" width="27.4" height="7.4" fill="#ffcc00"/>
<rect x="2073.3" y="1883.6" width="27.4" height="7.4" fill="#ffff00"/>
<rect x="2073.3" y="1890.6" width="27.4" height="7.4" fill="#ccff33"/>
<rect x="2073.3" y="1897.7" width="27.4" height="7.4" fill="#99ff66"/>
<rect x="2073.3" y="1904.8" width="27.4" height="7.4" fill="#66ff99"/>
<rect x="2073.3" y="1911.8" width="27.4" height="7.4" fill="#33ffcc"/>
<rect x="2073.3" y="1918.9" width="27.4" height="7.4" fill="#00ffff"/>
<rect x="2073.3" y="1925.9" width="27.4" height="7.4" fill="#00ccff"/>
<rect x="2073.3" y="1933" width="27.4" height="7.4" fill="#0099ff"/>
<rect x="2073.3" y="1940" width="27.4" height="7.4" fill="#0066ff"/>
<rect x="2073.3" y="1947.1" width="27.4" height="7.4" fill="#0033ff"/>
<rect x="2073.3" y="1954.1" width="27.4" height="7.4" fill="#0000ff"/>
<rect x="2073.3" y="1961.2" width="27.4" height="7.4" fill="#0000cc"/>
<rect x="2073.3" y="1968.2" width="27.4" height="7.4" fill="#000000"/>
<rect x="2073.3" y="1834.2" width="27.4" height="141.1" fill="none" stroke="#333" stroke-width="0.8"/>
<text x="2105.5" y="1843.6" font-size="23">1</text>
<text x="2104.5" y="1912" font-size="23">0.5</text>
<text x="2104.5" y="1982" font-size="23">0</text>
<text x="2073.6" y="1751.3" font-size="24">Norm.</text>
<text x="2073.6" y="1781.2" font-size="24">pixel</text>
<text x="2073.6" y="1811.1" font-size="24">Freq.</text></g>
<text x="41.4" y="84.2" font-size="77" font-weight="bold" fill="#231f20">a</text>
<text x="625.2" y="83.8" font-size="76" font-weight="bold" fill="#231f20">b</text>
<text x="36.5" y="462.3" font-size="77" font-weight="bold" fill="#231f20">c</text>
<text x="39.5" y="1390.6" font-size="75" font-weight="bold" fill="#231f20">d</text>
<text x="34" y="1687" font-size="77" font-weight="bold" fill="#231f20">e</text>
<text x="616.2" y="1686" font-size="72" font-weight="bold" fill="#231f20">f</text>
</svg>
</body></html>
